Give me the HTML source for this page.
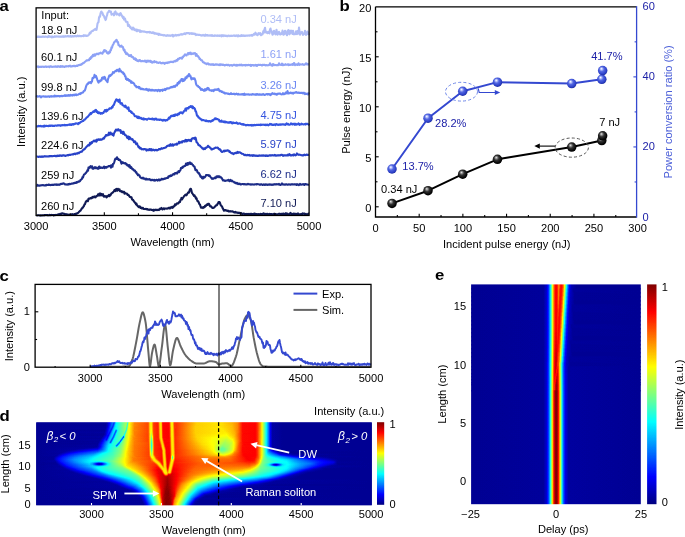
<!DOCTYPE html>
<html><head><meta charset="utf-8"><style>
html,body{margin:0;padding:0;background:#fff;overflow:hidden;}
svg{display:block;}
text{font-family:"Liberation Sans", sans-serif;}
</style></head><body>
<svg width="685" height="537" viewBox="0 0 685 537">
<defs>
<radialGradient id="gb" cx="0.45" cy="0.42" r="0.6" fx="0.36" fy="0.3"><stop offset="0" stop-color="#ffffff"/><stop offset="0.12" stop-color="#d0d8ff"/><stop offset="0.42" stop-color="#5468e2"/><stop offset="0.8" stop-color="#2c40c8"/><stop offset="1" stop-color="#1c2a98"/></radialGradient>
<radialGradient id="gk" cx="0.45" cy="0.42" r="0.6" fx="0.36" fy="0.3"><stop offset="0" stop-color="#f0f0f0"/><stop offset="0.12" stop-color="#b0b0b0"/><stop offset="0.42" stop-color="#333"/><stop offset="0.8" stop-color="#080808"/><stop offset="1" stop-color="#000"/></radialGradient>
<filter id="jetf" filterUnits="objectBoundingBox" x="0" y="0" width="1" height="1" color-interpolation-filters="sRGB"><feComponentTransfer><feFuncR type="table" tableValues="0 0 0 0 0.5 1 1 1 0.5"/><feFuncG type="table" tableValues="0 0 0.5 1 1 1 0.5 0 0"/><feFuncB type="table" tableValues="0.5 1 1 1 0.5 0 0 0 0"/></feComponentTransfer></filter>
<linearGradient id="d0" gradientUnits="userSpaceOnUse" x1="36.20" x2="371.80" y1="0" y2="0"><stop offset=".001" stop-color="#050505"/><stop offset=".210" stop-color="#080808"/><stop offset=".219" stop-color="#222222"/><stop offset=".228" stop-color="#3d3d3d"/><stop offset=".231" stop-color="#313131"/><stop offset=".234" stop-color="#313131"/><stop offset=".237" stop-color="#565656"/><stop offset=".240" stop-color="#616161"/><stop offset=".269" stop-color="#898989"/><stop offset=".272" stop-color="#6e6e6e"/><stop offset=".275" stop-color="#8a8a8a"/><stop offset=".278" stop-color="#9f9f9f"/><stop offset=".293" stop-color="#bebebe"/><stop offset=".332" stop-color="#cdcdcd"/><stop offset=".335" stop-color="#c5c5c5"/><stop offset=".338" stop-color="#acacac"/><stop offset=".341" stop-color="#a2a2a2"/><stop offset=".344" stop-color="#a5a5a5"/><stop offset=".350" stop-color="#d2d2d2"/><stop offset=".362" stop-color="#d8d8d8"/><stop offset=".365" stop-color="#cbcbcb"/><stop offset=".368" stop-color="#acacac"/><stop offset=".371" stop-color="#a5a5a5"/><stop offset=".374" stop-color="#b4b4b4"/><stop offset=".376" stop-color="#d6d6d6"/><stop offset=".379" stop-color="#dedede"/><stop offset=".394" stop-color="#dfdfdf"/><stop offset=".397" stop-color="#d7d7d7"/><stop offset=".400" stop-color="#b7b7b7"/><stop offset=".403" stop-color="#a4a4a4"/><stop offset=".406" stop-color="#a4a4a4"/><stop offset=".412" stop-color="#d1d1d1"/><stop offset=".421" stop-color="#d0d0d0"/><stop offset=".478" stop-color="#acacac"/><stop offset=".543" stop-color="#a6a6a6"/><stop offset=".582" stop-color="#b2b2b2"/><stop offset=".600" stop-color="#bebebe"/><stop offset=".615" stop-color="#dddddd"/><stop offset=".653" stop-color="#dfdfdf"/><stop offset=".659" stop-color="#d5d5d5"/><stop offset=".668" stop-color="#b7b7b7"/><stop offset=".692" stop-color="#3f3f3f"/><stop offset=".698" stop-color="#1d1d1d"/><stop offset=".704" stop-color="#090909"/><stop offset=".734" stop-color="#050505"/><stop offset=".999" stop-color="#050505"/></linearGradient>
<linearGradient id="d1" gradientUnits="userSpaceOnUse" x1="36.20" x2="371.80" y1="0" y2="0"><stop offset=".001" stop-color="#050505"/><stop offset=".207" stop-color="#060606"/><stop offset=".213" stop-color="#0f0f0f"/><stop offset=".225" stop-color="#373737"/><stop offset=".228" stop-color="#3b3b3b"/><stop offset=".231" stop-color="#292929"/><stop offset=".234" stop-color="#3e3e3e"/><stop offset=".237" stop-color="#5a5a5a"/><stop offset=".249" stop-color="#6d6d6d"/><stop offset=".266" stop-color="#878787"/><stop offset=".269" stop-color="#868686"/><stop offset=".272" stop-color="#6c6c6c"/><stop offset=".275" stop-color="#8f8f8f"/><stop offset=".278" stop-color="#a0a0a0"/><stop offset=".293" stop-color="#bebebe"/><stop offset=".332" stop-color="#cdcdcd"/><stop offset=".335" stop-color="#c6c6c6"/><stop offset=".338" stop-color="#adadad"/><stop offset=".341" stop-color="#a2a2a2"/><stop offset=".344" stop-color="#a5a5a5"/><stop offset=".350" stop-color="#d2d2d2"/><stop offset=".362" stop-color="#d8d8d8"/><stop offset=".365" stop-color="#cccccc"/><stop offset=".368" stop-color="#acacac"/><stop offset=".371" stop-color="#a5a5a5"/><stop offset=".374" stop-color="#b3b3b3"/><stop offset=".376" stop-color="#d5d5d5"/><stop offset=".379" stop-color="#dedede"/><stop offset=".394" stop-color="#dfdfdf"/><stop offset=".397" stop-color="#d8d8d8"/><stop offset=".400" stop-color="#b8b8b8"/><stop offset=".403" stop-color="#a4a4a4"/><stop offset=".406" stop-color="#a4a4a4"/><stop offset=".412" stop-color="#d1d1d1"/><stop offset=".418" stop-color="#d2d2d2"/><stop offset=".478" stop-color="#ababab"/><stop offset=".546" stop-color="#a6a6a6"/><stop offset=".585" stop-color="#b3b3b3"/><stop offset=".600" stop-color="#bebebe"/><stop offset=".615" stop-color="#dddddd"/><stop offset=".653" stop-color="#dfdfdf"/><stop offset=".659" stop-color="#d5d5d5"/><stop offset=".668" stop-color="#b7b7b7"/><stop offset=".692" stop-color="#3f3f3f"/><stop offset=".698" stop-color="#1d1d1d"/><stop offset=".704" stop-color="#090909"/><stop offset=".734" stop-color="#050505"/><stop offset=".999" stop-color="#050505"/></linearGradient>
<linearGradient id="d2" gradientUnits="userSpaceOnUse" x1="36.20" x2="371.80" y1="0" y2="0"><stop offset=".001" stop-color="#050505"/><stop offset=".207" stop-color="#060606"/><stop offset=".213" stop-color="#111111"/><stop offset=".225" stop-color="#393939"/><stop offset=".228" stop-color="#373737"/><stop offset=".231" stop-color="#282828"/><stop offset=".234" stop-color="#4a4a4a"/><stop offset=".237" stop-color="#5d5d5d"/><stop offset=".266" stop-color="#888888"/><stop offset=".269" stop-color="#828282"/><stop offset=".272" stop-color="#6d6d6d"/><stop offset=".275" stop-color="#949494"/><stop offset=".281" stop-color="#a7a7a7"/><stop offset=".293" stop-color="#bebebe"/><stop offset=".332" stop-color="#cdcdcd"/><stop offset=".335" stop-color="#c6c6c6"/><stop offset=".338" stop-color="#adadad"/><stop offset=".341" stop-color="#a2a2a2"/><stop offset=".344" stop-color="#a5a5a5"/><stop offset=".350" stop-color="#d2d2d2"/><stop offset=".362" stop-color="#d8d8d8"/><stop offset=".365" stop-color="#cdcdcd"/><stop offset=".368" stop-color="#adadad"/><stop offset=".371" stop-color="#a5a5a5"/><stop offset=".374" stop-color="#b2b2b2"/><stop offset=".376" stop-color="#d4d4d4"/><stop offset=".379" stop-color="#dedede"/><stop offset=".394" stop-color="#dfdfdf"/><stop offset=".397" stop-color="#d8d8d8"/><stop offset=".400" stop-color="#b9b9b9"/><stop offset=".403" stop-color="#a4a4a4"/><stop offset=".406" stop-color="#a4a4a4"/><stop offset=".412" stop-color="#d0d0d0"/><stop offset=".418" stop-color="#d2d2d2"/><stop offset=".478" stop-color="#ababab"/><stop offset=".549" stop-color="#a6a6a6"/><stop offset=".585" stop-color="#b2b2b2"/><stop offset=".600" stop-color="#bebebe"/><stop offset=".615" stop-color="#dddddd"/><stop offset=".653" stop-color="#dfdfdf"/><stop offset=".659" stop-color="#d5d5d5"/><stop offset=".668" stop-color="#b7b7b7"/><stop offset=".692" stop-color="#3f3f3f"/><stop offset=".698" stop-color="#1d1d1d"/><stop offset=".704" stop-color="#090909"/><stop offset=".734" stop-color="#050505"/><stop offset=".999" stop-color="#050505"/></linearGradient>
<linearGradient id="d3" gradientUnits="userSpaceOnUse" x1="36.20" x2="371.80" y1="0" y2="0"><stop offset=".001" stop-color="#050505"/><stop offset=".207" stop-color="#060606"/><stop offset=".213" stop-color="#121212"/><stop offset=".225" stop-color="#3a3a3a"/><stop offset=".228" stop-color="#2f2f2f"/><stop offset=".231" stop-color="#303030"/><stop offset=".234" stop-color="#535353"/><stop offset=".237" stop-color="#5e5e5e"/><stop offset=".266" stop-color="#888888"/><stop offset=".272" stop-color="#717171"/><stop offset=".275" stop-color="#979797"/><stop offset=".290" stop-color="#bababa"/><stop offset=".305" stop-color="#c4c4c4"/><stop offset=".332" stop-color="#cdcdcd"/><stop offset=".335" stop-color="#c6c6c6"/><stop offset=".338" stop-color="#adadad"/><stop offset=".341" stop-color="#a2a2a2"/><stop offset=".344" stop-color="#a4a4a4"/><stop offset=".350" stop-color="#d2d2d2"/><stop offset=".362" stop-color="#d8d8d8"/><stop offset=".365" stop-color="#cecece"/><stop offset=".368" stop-color="#aeaeae"/><stop offset=".371" stop-color="#a5a5a5"/><stop offset=".374" stop-color="#b1b1b1"/><stop offset=".376" stop-color="#d4d4d4"/><stop offset=".379" stop-color="#dedede"/><stop offset=".394" stop-color="#dfdfdf"/><stop offset=".397" stop-color="#d9d9d9"/><stop offset=".400" stop-color="#bababa"/><stop offset=".403" stop-color="#a4a4a4"/><stop offset=".406" stop-color="#a4a4a4"/><stop offset=".409" stop-color="#b7b7b7"/><stop offset=".412" stop-color="#d0d0d0"/><stop offset=".418" stop-color="#d2d2d2"/><stop offset=".475" stop-color="#acacac"/><stop offset=".543" stop-color="#a6a6a6"/><stop offset=".582" stop-color="#b0b0b0"/><stop offset=".600" stop-color="#bebebe"/><stop offset=".615" stop-color="#dddddd"/><stop offset=".653" stop-color="#dfdfdf"/><stop offset=".659" stop-color="#d5d5d5"/><stop offset=".668" stop-color="#b7b7b7"/><stop offset=".692" stop-color="#3f3f3f"/><stop offset=".698" stop-color="#1d1d1d"/><stop offset=".704" stop-color="#090909"/><stop offset=".734" stop-color="#050505"/><stop offset=".999" stop-color="#050505"/></linearGradient>
<linearGradient id="d4" gradientUnits="userSpaceOnUse" x1="36.20" x2="371.80" y1="0" y2="0"><stop offset=".001" stop-color="#050505"/><stop offset=".207" stop-color="#070707"/><stop offset=".213" stop-color="#141414"/><stop offset=".222" stop-color="#343434"/><stop offset=".225" stop-color="#373737"/><stop offset=".228" stop-color="#272727"/><stop offset=".231" stop-color="#3c3c3c"/><stop offset=".234" stop-color="#575757"/><stop offset=".243" stop-color="#686868"/><stop offset=".266" stop-color="#888888"/><stop offset=".269" stop-color="#767676"/><stop offset=".272" stop-color="#777777"/><stop offset=".275" stop-color="#999999"/><stop offset=".293" stop-color="#bfbfbf"/><stop offset=".332" stop-color="#cdcdcd"/><stop offset=".335" stop-color="#c6c6c6"/><stop offset=".338" stop-color="#adadad"/><stop offset=".341" stop-color="#a2a2a2"/><stop offset=".344" stop-color="#a3a3a3"/><stop offset=".350" stop-color="#d2d2d2"/><stop offset=".362" stop-color="#d8d8d8"/><stop offset=".365" stop-color="#cfcfcf"/><stop offset=".368" stop-color="#aeaeae"/><stop offset=".371" stop-color="#a5a5a5"/><stop offset=".374" stop-color="#b0b0b0"/><stop offset=".376" stop-color="#d3d3d3"/><stop offset=".379" stop-color="#dedede"/><stop offset=".394" stop-color="#dfdfdf"/><stop offset=".397" stop-color="#d9d9d9"/><stop offset=".400" stop-color="#bbbbbb"/><stop offset=".403" stop-color="#a4a4a4"/><stop offset=".406" stop-color="#a4a4a4"/><stop offset=".409" stop-color="#b6b6b6"/><stop offset=".412" stop-color="#d0d0d0"/><stop offset=".418" stop-color="#d2d2d2"/><stop offset=".475" stop-color="#ababab"/><stop offset=".546" stop-color="#a6a6a6"/><stop offset=".582" stop-color="#afafaf"/><stop offset=".600" stop-color="#bebebe"/><stop offset=".615" stop-color="#dddddd"/><stop offset=".653" stop-color="#dfdfdf"/><stop offset=".659" stop-color="#d5d5d5"/><stop offset=".668" stop-color="#b7b7b7"/><stop offset=".692" stop-color="#3f3f3f"/><stop offset=".698" stop-color="#1d1d1d"/><stop offset=".704" stop-color="#090909"/><stop offset=".734" stop-color="#050505"/><stop offset=".999" stop-color="#050505"/></linearGradient>
<linearGradient id="d5" gradientUnits="userSpaceOnUse" x1="36.20" x2="371.80" y1="0" y2="0"><stop offset=".001" stop-color="#050505"/><stop offset=".207" stop-color="#070707"/><stop offset=".213" stop-color="#161616"/><stop offset=".222" stop-color="#353535"/><stop offset=".228" stop-color="#2a2a2a"/><stop offset=".231" stop-color="#4b4b4b"/><stop offset=".234" stop-color="#5a5a5a"/><stop offset=".266" stop-color="#878787"/><stop offset=".269" stop-color="#707070"/><stop offset=".272" stop-color="#7e7e7e"/><stop offset=".275" stop-color="#9a9a9a"/><stop offset=".293" stop-color="#bfbfbf"/><stop offset=".332" stop-color="#cdcdcd"/><stop offset=".335" stop-color="#c6c6c6"/><stop offset=".338" stop-color="#adadad"/><stop offset=".341" stop-color="#a1a1a1"/><stop offset=".344" stop-color="#a3a3a3"/><stop offset=".350" stop-color="#d1d1d1"/><stop offset=".362" stop-color="#d8d8d8"/><stop offset=".365" stop-color="#cfcfcf"/><stop offset=".368" stop-color="#afafaf"/><stop offset=".371" stop-color="#a5a5a5"/><stop offset=".374" stop-color="#afafaf"/><stop offset=".376" stop-color="#d2d2d2"/><stop offset=".379" stop-color="#dedede"/><stop offset=".394" stop-color="#dfdfdf"/><stop offset=".397" stop-color="#dadada"/><stop offset=".403" stop-color="#a4a4a4"/><stop offset=".406" stop-color="#a3a3a3"/><stop offset=".409" stop-color="#b5b5b5"/><stop offset=".412" stop-color="#cfcfcf"/><stop offset=".418" stop-color="#d2d2d2"/><stop offset=".475" stop-color="#ababab"/><stop offset=".549" stop-color="#a5a5a5"/><stop offset=".585" stop-color="#b1b1b1"/><stop offset=".600" stop-color="#bebebe"/><stop offset=".615" stop-color="#dddddd"/><stop offset=".653" stop-color="#dfdfdf"/><stop offset=".659" stop-color="#d5d5d5"/><stop offset=".668" stop-color="#b7b7b7"/><stop offset=".692" stop-color="#3f3f3f"/><stop offset=".698" stop-color="#1d1d1d"/><stop offset=".704" stop-color="#090909"/><stop offset=".734" stop-color="#050505"/><stop offset=".999" stop-color="#050505"/></linearGradient>
<linearGradient id="d6" gradientUnits="userSpaceOnUse" x1="36.20" x2="371.80" y1="0" y2="0"><stop offset=".001" stop-color="#050505"/><stop offset=".207" stop-color="#080808"/><stop offset=".216" stop-color="#242424"/><stop offset=".222" stop-color="#323232"/><stop offset=".225" stop-color="#252525"/><stop offset=".228" stop-color="#383838"/><stop offset=".231" stop-color="#535353"/><stop offset=".237" stop-color="#616161"/><stop offset=".266" stop-color="#868686"/><stop offset=".269" stop-color="#6c6c6c"/><stop offset=".275" stop-color="#9b9b9b"/><stop offset=".293" stop-color="#bfbfbf"/><stop offset=".332" stop-color="#cdcdcd"/><stop offset=".335" stop-color="#c6c6c6"/><stop offset=".338" stop-color="#aeaeae"/><stop offset=".341" stop-color="#a1a1a1"/><stop offset=".344" stop-color="#a1a1a1"/><stop offset=".350" stop-color="#d1d1d1"/><stop offset=".362" stop-color="#d8d8d8"/><stop offset=".365" stop-color="#d0d0d0"/><stop offset=".368" stop-color="#b0b0b0"/><stop offset=".371" stop-color="#a5a5a5"/><stop offset=".374" stop-color="#afafaf"/><stop offset=".376" stop-color="#d2d2d2"/><stop offset=".379" stop-color="#dedede"/><stop offset=".394" stop-color="#e0e0e0"/><stop offset=".397" stop-color="#dadada"/><stop offset=".403" stop-color="#a5a5a5"/><stop offset=".406" stop-color="#a3a3a3"/><stop offset=".409" stop-color="#b4b4b4"/><stop offset=".412" stop-color="#cfcfcf"/><stop offset=".415" stop-color="#d4d4d4"/><stop offset=".475" stop-color="#ababab"/><stop offset=".552" stop-color="#a5a5a5"/><stop offset=".585" stop-color="#b0b0b0"/><stop offset=".600" stop-color="#bebebe"/><stop offset=".615" stop-color="#dddddd"/><stop offset=".653" stop-color="#dfdfdf"/><stop offset=".659" stop-color="#d5d5d5"/><stop offset=".668" stop-color="#b7b7b7"/><stop offset=".692" stop-color="#3f3f3f"/><stop offset=".698" stop-color="#1d1d1d"/><stop offset=".704" stop-color="#090909"/><stop offset=".734" stop-color="#050505"/><stop offset=".999" stop-color="#050505"/></linearGradient>
<linearGradient id="d7" gradientUnits="userSpaceOnUse" x1="36.20" x2="371.80" y1="0" y2="0"><stop offset=".001" stop-color="#050505"/><stop offset=".204" stop-color="#060606"/><stop offset=".210" stop-color="#101010"/><stop offset=".219" stop-color="#2f2f2f"/><stop offset=".225" stop-color="#272727"/><stop offset=".228" stop-color="#474747"/><stop offset=".231" stop-color="#565656"/><stop offset=".234" stop-color="#5d5d5d"/><stop offset=".237" stop-color="#535353"/><stop offset=".240" stop-color="#515151"/><stop offset=".243" stop-color="#676767"/><stop offset=".263" stop-color="#838383"/><stop offset=".266" stop-color="#808080"/><stop offset=".269" stop-color="#696969"/><stop offset=".272" stop-color="#8b8b8b"/><stop offset=".275" stop-color="#9c9c9c"/><stop offset=".293" stop-color="#bfbfbf"/><stop offset=".332" stop-color="#cdcdcd"/><stop offset=".335" stop-color="#c7c7c7"/><stop offset=".338" stop-color="#aeaeae"/><stop offset=".341" stop-color="#a0a0a0"/><stop offset=".344" stop-color="#a0a0a0"/><stop offset=".350" stop-color="#d1d1d1"/><stop offset=".362" stop-color="#d8d8d8"/><stop offset=".365" stop-color="#d1d1d1"/><stop offset=".368" stop-color="#b1b1b1"/><stop offset=".371" stop-color="#a5a5a5"/><stop offset=".374" stop-color="#aeaeae"/><stop offset=".376" stop-color="#d1d1d1"/><stop offset=".379" stop-color="#dedede"/><stop offset=".394" stop-color="#e0e0e0"/><stop offset=".397" stop-color="#dadada"/><stop offset=".403" stop-color="#a5a5a5"/><stop offset=".406" stop-color="#a3a3a3"/><stop offset=".409" stop-color="#b3b3b3"/><stop offset=".412" stop-color="#cecece"/><stop offset=".415" stop-color="#d4d4d4"/><stop offset=".475" stop-color="#ababab"/><stop offset=".555" stop-color="#a5a5a5"/><stop offset=".585" stop-color="#b0b0b0"/><stop offset=".600" stop-color="#bebebe"/><stop offset=".615" stop-color="#dddddd"/><stop offset=".653" stop-color="#dfdfdf"/><stop offset=".659" stop-color="#d5d5d5"/><stop offset=".668" stop-color="#b7b7b7"/><stop offset=".692" stop-color="#3f3f3f"/><stop offset=".698" stop-color="#1d1d1d"/><stop offset=".704" stop-color="#090909"/><stop offset=".734" stop-color="#050505"/><stop offset=".999" stop-color="#050505"/></linearGradient>
<linearGradient id="d8" gradientUnits="userSpaceOnUse" x1="36.20" x2="371.80" y1="0" y2="0"><stop offset=".001" stop-color="#050505"/><stop offset=".204" stop-color="#060606"/><stop offset=".210" stop-color="#121212"/><stop offset=".216" stop-color="#282828"/><stop offset=".219" stop-color="#2d2d2d"/><stop offset=".222" stop-color="#222222"/><stop offset=".225" stop-color="#353535"/><stop offset=".228" stop-color="#4e4e4e"/><stop offset=".231" stop-color="#585858"/><stop offset=".234" stop-color="#5a5a5a"/><stop offset=".237" stop-color="#3a3a3a"/><stop offset=".240" stop-color="#3a3a3a"/><stop offset=".243" stop-color="#656565"/><stop offset=".249" stop-color="#707070"/><stop offset=".263" stop-color="#828282"/><stop offset=".266" stop-color="#747474"/><stop offset=".269" stop-color="#707070"/><stop offset=".272" stop-color="#939393"/><stop offset=".290" stop-color="#bbbbbb"/><stop offset=".320" stop-color="#c9c9c9"/><stop offset=".332" stop-color="#cdcdcd"/><stop offset=".335" stop-color="#c7c7c7"/><stop offset=".338" stop-color="#aeaeae"/><stop offset=".341" stop-color="#9f9f9f"/><stop offset=".344" stop-color="#9e9e9e"/><stop offset=".350" stop-color="#d1d1d1"/><stop offset=".362" stop-color="#d8d8d8"/><stop offset=".365" stop-color="#d1d1d1"/><stop offset=".368" stop-color="#b2b2b2"/><stop offset=".371" stop-color="#a5a5a5"/><stop offset=".374" stop-color="#adadad"/><stop offset=".376" stop-color="#d0d0d0"/><stop offset=".379" stop-color="#dedede"/><stop offset=".394" stop-color="#e0e0e0"/><stop offset=".397" stop-color="#dbdbdb"/><stop offset=".403" stop-color="#a5a5a5"/><stop offset=".406" stop-color="#a3a3a3"/><stop offset=".409" stop-color="#b3b3b3"/><stop offset=".412" stop-color="#cecece"/><stop offset=".415" stop-color="#d4d4d4"/><stop offset=".475" stop-color="#ababab"/><stop offset=".558" stop-color="#a4a4a4"/><stop offset=".588" stop-color="#b1b1b1"/><stop offset=".603" stop-color="#c4c4c4"/><stop offset=".615" stop-color="#dddddd"/><stop offset=".653" stop-color="#dfdfdf"/><stop offset=".659" stop-color="#d5d5d5"/><stop offset=".668" stop-color="#b7b7b7"/><stop offset=".692" stop-color="#3f3f3f"/><stop offset=".698" stop-color="#1d1d1d"/><stop offset=".704" stop-color="#090909"/><stop offset=".734" stop-color="#050505"/><stop offset=".999" stop-color="#050505"/></linearGradient>
<linearGradient id="d9" gradientUnits="userSpaceOnUse" x1="36.20" x2="371.80" y1="0" y2="0"><stop offset=".001" stop-color="#050505"/><stop offset=".204" stop-color="#070707"/><stop offset=".210" stop-color="#141414"/><stop offset=".216" stop-color="#292929"/><stop offset=".222" stop-color="#252525"/><stop offset=".225" stop-color="#424242"/><stop offset=".228" stop-color="#525252"/><stop offset=".231" stop-color="#595959"/><stop offset=".234" stop-color="#515151"/><stop offset=".237" stop-color="#2d2d2d"/><stop offset=".240" stop-color="#505050"/><stop offset=".243" stop-color="#696969"/><stop offset=".263" stop-color="#7f7f7f"/><stop offset=".266" stop-color="#676767"/><stop offset=".272" stop-color="#969696"/><stop offset=".293" stop-color="#bfbfbf"/><stop offset=".332" stop-color="#cdcdcd"/><stop offset=".335" stop-color="#c7c7c7"/><stop offset=".338" stop-color="#aeaeae"/><stop offset=".341" stop-color="#9e9e9e"/><stop offset=".344" stop-color="#9b9b9b"/><stop offset=".350" stop-color="#d1d1d1"/><stop offset=".362" stop-color="#d8d8d8"/><stop offset=".365" stop-color="#d2d2d2"/><stop offset=".368" stop-color="#b2b2b2"/><stop offset=".371" stop-color="#a5a5a5"/><stop offset=".374" stop-color="#adadad"/><stop offset=".376" stop-color="#cfcfcf"/><stop offset=".379" stop-color="#dedede"/><stop offset=".394" stop-color="#e0e0e0"/><stop offset=".397" stop-color="#dbdbdb"/><stop offset=".403" stop-color="#a5a5a5"/><stop offset=".406" stop-color="#a3a3a3"/><stop offset=".409" stop-color="#b2b2b2"/><stop offset=".412" stop-color="#cdcdcd"/><stop offset=".415" stop-color="#d4d4d4"/><stop offset=".475" stop-color="#ababab"/><stop offset=".561" stop-color="#a4a4a4"/><stop offset=".591" stop-color="#b3b3b3"/><stop offset=".603" stop-color="#c4c4c4"/><stop offset=".615" stop-color="#dddddd"/><stop offset=".653" stop-color="#dfdfdf"/><stop offset=".659" stop-color="#d5d5d5"/><stop offset=".671" stop-color="#a9a9a9"/><stop offset=".692" stop-color="#3f3f3f"/><stop offset=".698" stop-color="#1d1d1d"/><stop offset=".704" stop-color="#090909"/><stop offset=".734" stop-color="#050505"/><stop offset=".999" stop-color="#050505"/></linearGradient>
<linearGradient id="d10" gradientUnits="userSpaceOnUse" x1="36.20" x2="371.80" y1="0" y2="0"><stop offset=".001" stop-color="#050505"/><stop offset=".204" stop-color="#080808"/><stop offset=".216" stop-color="#292929"/><stop offset=".219" stop-color="#202020"/><stop offset=".222" stop-color="#323232"/><stop offset=".225" stop-color="#4a4a4a"/><stop offset=".231" stop-color="#595959"/><stop offset=".234" stop-color="#3f3f3f"/><stop offset=".237" stop-color="#343434"/><stop offset=".240" stop-color="#5f5f5f"/><stop offset=".243" stop-color="#6b6b6b"/><stop offset=".260" stop-color="#7e7e7e"/><stop offset=".263" stop-color="#767676"/><stop offset=".266" stop-color="#676767"/><stop offset=".269" stop-color="#8b8b8b"/><stop offset=".275" stop-color="#9e9e9e"/><stop offset=".293" stop-color="#bfbfbf"/><stop offset=".332" stop-color="#cdcdcd"/><stop offset=".335" stop-color="#c7c7c7"/><stop offset=".338" stop-color="#aeaeae"/><stop offset=".341" stop-color="#9d9d9d"/><stop offset=".344" stop-color="#989898"/><stop offset=".350" stop-color="#d0d0d0"/><stop offset=".362" stop-color="#d8d8d8"/><stop offset=".365" stop-color="#d2d2d2"/><stop offset=".368" stop-color="#b3b3b3"/><stop offset=".371" stop-color="#a5a5a5"/><stop offset=".374" stop-color="#acacac"/><stop offset=".376" stop-color="#cecece"/><stop offset=".379" stop-color="#dedede"/><stop offset=".394" stop-color="#e0e0e0"/><stop offset=".397" stop-color="#dbdbdb"/><stop offset=".403" stop-color="#a6a6a6"/><stop offset=".406" stop-color="#a3a3a3"/><stop offset=".409" stop-color="#b1b1b1"/><stop offset=".412" stop-color="#cdcdcd"/><stop offset=".415" stop-color="#d4d4d4"/><stop offset=".475" stop-color="#ababab"/><stop offset=".564" stop-color="#a3a3a3"/><stop offset=".591" stop-color="#b2b2b2"/><stop offset=".603" stop-color="#c4c4c4"/><stop offset=".615" stop-color="#dddddd"/><stop offset=".653" stop-color="#dfdfdf"/><stop offset=".659" stop-color="#d5d5d5"/><stop offset=".671" stop-color="#a9a9a9"/><stop offset=".692" stop-color="#3f3f3f"/><stop offset=".698" stop-color="#1d1d1d"/><stop offset=".704" stop-color="#090909"/><stop offset=".734" stop-color="#050505"/><stop offset=".999" stop-color="#050505"/></linearGradient>
<linearGradient id="d11" gradientUnits="userSpaceOnUse" x1="36.20" x2="371.80" y1="0" y2="0"><stop offset=".001" stop-color="#050505"/><stop offset=".201" stop-color="#060606"/><stop offset=".207" stop-color="#0f0f0f"/><stop offset=".213" stop-color="#242424"/><stop offset=".219" stop-color="#232323"/><stop offset=".222" stop-color="#3e3e3e"/><stop offset=".225" stop-color="#4e4e4e"/><stop offset=".228" stop-color="#565656"/><stop offset=".231" stop-color="#535353"/><stop offset=".234" stop-color="#2f2f2f"/><stop offset=".240" stop-color="#676767"/><stop offset=".260" stop-color="#7d7d7d"/><stop offset=".263" stop-color="#696969"/><stop offset=".266" stop-color="#747474"/><stop offset=".269" stop-color="#909090"/><stop offset=".293" stop-color="#bfbfbf"/><stop offset=".332" stop-color="#cecece"/><stop offset=".335" stop-color="#c8c8c8"/><stop offset=".341" stop-color="#9b9b9b"/><stop offset=".344" stop-color="#949494"/><stop offset=".350" stop-color="#d0d0d0"/><stop offset=".359" stop-color="#d7d7d7"/><stop offset=".362" stop-color="#d8d8d8"/><stop offset=".365" stop-color="#d3d3d3"/><stop offset=".368" stop-color="#b4b4b4"/><stop offset=".371" stop-color="#a5a5a5"/><stop offset=".374" stop-color="#ababab"/><stop offset=".376" stop-color="#cdcdcd"/><stop offset=".379" stop-color="#dedede"/><stop offset=".394" stop-color="#e0e0e0"/><stop offset=".397" stop-color="#dcdcdc"/><stop offset=".403" stop-color="#a6a6a6"/><stop offset=".406" stop-color="#a3a3a3"/><stop offset=".409" stop-color="#b0b0b0"/><stop offset=".412" stop-color="#cccccc"/><stop offset=".415" stop-color="#d4d4d4"/><stop offset=".475" stop-color="#ababab"/><stop offset=".567" stop-color="#a2a2a2"/><stop offset=".594" stop-color="#b5b5b5"/><stop offset=".609" stop-color="#d2d2d2"/><stop offset=".618" stop-color="#dfdfdf"/><stop offset=".653" stop-color="#dfdfdf"/><stop offset=".659" stop-color="#d5d5d5"/><stop offset=".671" stop-color="#a9a9a9"/><stop offset=".692" stop-color="#3f3f3f"/><stop offset=".698" stop-color="#1d1d1d"/><stop offset=".704" stop-color="#090909"/><stop offset=".734" stop-color="#050505"/><stop offset=".999" stop-color="#050505"/></linearGradient>
<linearGradient id="d12" gradientUnits="userSpaceOnUse" x1="36.20" x2="371.80" y1="0" y2="0"><stop offset=".001" stop-color="#050505"/><stop offset=".201" stop-color="#060606"/><stop offset=".207" stop-color="#111111"/><stop offset=".213" stop-color="#252525"/><stop offset=".216" stop-color="#1f1f1f"/><stop offset=".219" stop-color="#2e2e2e"/><stop offset=".222" stop-color="#474747"/><stop offset=".228" stop-color="#575757"/><stop offset=".234" stop-color="#2f2f2f"/><stop offset=".237" stop-color="#5a5a5a"/><stop offset=".240" stop-color="#696969"/><stop offset=".257" stop-color="#7b7b7b"/><stop offset=".260" stop-color="#777777"/><stop offset=".263" stop-color="#626262"/><stop offset=".266" stop-color="#818181"/><stop offset=".269" stop-color="#929292"/><stop offset=".293" stop-color="#bfbfbf"/><stop offset=".332" stop-color="#cecece"/><stop offset=".335" stop-color="#c8c8c8"/><stop offset=".341" stop-color="#999999"/><stop offset=".344" stop-color="#8f8f8f"/><stop offset=".350" stop-color="#cfcfcf"/><stop offset=".356" stop-color="#d6d6d6"/><stop offset=".362" stop-color="#d8d8d8"/><stop offset=".365" stop-color="#d4d4d4"/><stop offset=".368" stop-color="#b5b5b5"/><stop offset=".371" stop-color="#a5a5a5"/><stop offset=".374" stop-color="#ababab"/><stop offset=".376" stop-color="#cccccc"/><stop offset=".379" stop-color="#dedede"/><stop offset=".394" stop-color="#e0e0e0"/><stop offset=".397" stop-color="#dcdcdc"/><stop offset=".403" stop-color="#a6a6a6"/><stop offset=".406" stop-color="#a3a3a3"/><stop offset=".409" stop-color="#b0b0b0"/><stop offset=".412" stop-color="#cccccc"/><stop offset=".415" stop-color="#d4d4d4"/><stop offset=".478" stop-color="#aaaaaa"/><stop offset=".567" stop-color="#a0a0a0"/><stop offset=".591" stop-color="#b1b1b1"/><stop offset=".606" stop-color="#cbcbcb"/><stop offset=".615" stop-color="#dddddd"/><stop offset=".653" stop-color="#dfdfdf"/><stop offset=".659" stop-color="#d5d5d5"/><stop offset=".671" stop-color="#a9a9a9"/><stop offset=".692" stop-color="#3f3f3f"/><stop offset=".698" stop-color="#1d1d1d"/><stop offset=".704" stop-color="#090909"/><stop offset=".734" stop-color="#050505"/><stop offset=".999" stop-color="#050505"/></linearGradient>
<linearGradient id="d13" gradientUnits="userSpaceOnUse" x1="36.20" x2="371.80" y1="0" y2="0"><stop offset=".001" stop-color="#050505"/><stop offset=".198" stop-color="#060606"/><stop offset=".207" stop-color="#151515"/><stop offset=".210" stop-color="#1f1f1f"/><stop offset=".216" stop-color="#202020"/><stop offset=".219" stop-color="#3b3b3b"/><stop offset=".222" stop-color="#4b4b4b"/><stop offset=".225" stop-color="#545454"/><stop offset=".228" stop-color="#545454"/><stop offset=".231" stop-color="#333333"/><stop offset=".234" stop-color="#404040"/><stop offset=".237" stop-color="#646464"/><stop offset=".254" stop-color="#797979"/><stop offset=".257" stop-color="#787878"/><stop offset=".260" stop-color="#626262"/><stop offset=".263" stop-color="#646464"/><stop offset=".266" stop-color="#898989"/><stop offset=".284" stop-color="#b1b1b1"/><stop offset=".296" stop-color="#c1c1c1"/><stop offset=".332" stop-color="#cecece"/><stop offset=".335" stop-color="#c9c9c9"/><stop offset=".341" stop-color="#979797"/><stop offset=".344" stop-color="#8a8a8a"/><stop offset=".347" stop-color="#a9a9a9"/><stop offset=".350" stop-color="#cecece"/><stop offset=".356" stop-color="#d6d6d6"/><stop offset=".362" stop-color="#d8d8d8"/><stop offset=".365" stop-color="#d4d4d4"/><stop offset=".368" stop-color="#b6b6b6"/><stop offset=".371" stop-color="#a5a5a5"/><stop offset=".374" stop-color="#aaaaaa"/><stop offset=".376" stop-color="#cbcbcb"/><stop offset=".379" stop-color="#dedede"/><stop offset=".394" stop-color="#e0e0e0"/><stop offset=".397" stop-color="#dcdcdc"/><stop offset=".403" stop-color="#a7a7a7"/><stop offset=".406" stop-color="#a3a3a3"/><stop offset=".409" stop-color="#afafaf"/><stop offset=".412" stop-color="#cbcbcb"/><stop offset=".415" stop-color="#d4d4d4"/><stop offset=".478" stop-color="#aaaaaa"/><stop offset=".567" stop-color="#9e9e9e"/><stop offset=".591" stop-color="#b0b0b0"/><stop offset=".606" stop-color="#cbcbcb"/><stop offset=".615" stop-color="#dddddd"/><stop offset=".653" stop-color="#dfdfdf"/><stop offset=".659" stop-color="#d5d5d5"/><stop offset=".671" stop-color="#a9a9a9"/><stop offset=".692" stop-color="#3f3f3f"/><stop offset=".698" stop-color="#1d1d1d"/><stop offset=".704" stop-color="#090909"/><stop offset=".734" stop-color="#050505"/><stop offset=".999" stop-color="#050505"/></linearGradient>
<linearGradient id="d14" gradientUnits="userSpaceOnUse" x1="36.20" x2="371.80" y1="0" y2="0"><stop offset=".001" stop-color="#050505"/><stop offset=".198" stop-color="#080808"/><stop offset=".210" stop-color="#232323"/><stop offset=".213" stop-color="#1f1f1f"/><stop offset=".216" stop-color="#2b2b2b"/><stop offset=".219" stop-color="#444444"/><stop offset=".225" stop-color="#555555"/><stop offset=".228" stop-color="#494949"/><stop offset=".231" stop-color="#2d2d2d"/><stop offset=".234" stop-color="#545454"/><stop offset=".237" stop-color="#676767"/><stop offset=".254" stop-color="#787878"/><stop offset=".257" stop-color="#636363"/><stop offset=".260" stop-color="#2e2e2e"/><stop offset=".266" stop-color="#8b8b8b"/><stop offset=".287" stop-color="#b7b7b7"/><stop offset=".299" stop-color="#c2c2c2"/><stop offset=".332" stop-color="#cecece"/><stop offset=".335" stop-color="#c9c9c9"/><stop offset=".341" stop-color="#949494"/><stop offset=".344" stop-color="#848484"/><stop offset=".347" stop-color="#a4a4a4"/><stop offset=".350" stop-color="#cdcdcd"/><stop offset=".353" stop-color="#d5d5d5"/><stop offset=".362" stop-color="#d8d8d8"/><stop offset=".365" stop-color="#d4d4d4"/><stop offset=".368" stop-color="#b7b7b7"/><stop offset=".371" stop-color="#a6a6a6"/><stop offset=".374" stop-color="#aaaaaa"/><stop offset=".376" stop-color="#cacaca"/><stop offset=".379" stop-color="#dedede"/><stop offset=".394" stop-color="#e0e0e0"/><stop offset=".397" stop-color="#dcdcdc"/><stop offset=".403" stop-color="#a7a7a7"/><stop offset=".406" stop-color="#a3a3a3"/><stop offset=".409" stop-color="#aeaeae"/><stop offset=".412" stop-color="#cbcbcb"/><stop offset=".415" stop-color="#d3d3d3"/><stop offset=".478" stop-color="#aaaaaa"/><stop offset=".567" stop-color="#9b9b9b"/><stop offset=".588" stop-color="#ababab"/><stop offset=".603" stop-color="#c5c5c5"/><stop offset=".615" stop-color="#dddddd"/><stop offset=".653" stop-color="#dfdfdf"/><stop offset=".659" stop-color="#d5d5d5"/><stop offset=".671" stop-color="#a9a9a9"/><stop offset=".692" stop-color="#3f3f3f"/><stop offset=".698" stop-color="#1d1d1d"/><stop offset=".704" stop-color="#090909"/><stop offset=".734" stop-color="#050505"/><stop offset=".999" stop-color="#050505"/></linearGradient>
<linearGradient id="d15" gradientUnits="userSpaceOnUse" x1="36.20" x2="371.80" y1="0" y2="0"><stop offset=".001" stop-color="#050505"/><stop offset=".195" stop-color="#070707"/><stop offset=".204" stop-color="#1a1a1a"/><stop offset=".207" stop-color="#232323"/><stop offset=".210" stop-color="#242424"/><stop offset=".213" stop-color="#1f1f1f"/><stop offset=".216" stop-color="#393939"/><stop offset=".219" stop-color="#494949"/><stop offset=".222" stop-color="#515151"/><stop offset=".225" stop-color="#525252"/><stop offset=".228" stop-color="#333333"/><stop offset=".231" stop-color="#3c3c3c"/><stop offset=".234" stop-color="#616161"/><stop offset=".240" stop-color="#6c6c6c"/><stop offset=".251" stop-color="#767676"/><stop offset=".254" stop-color="#6e6e6e"/><stop offset=".257" stop-color="#404040"/><stop offset=".260" stop-color="#353535"/><stop offset=".263" stop-color="#6f6f6f"/><stop offset=".266" stop-color="#8d8d8d"/><stop offset=".290" stop-color="#bdbdbd"/><stop offset=".332" stop-color="#cecece"/><stop offset=".335" stop-color="#cacaca"/><stop offset=".338" stop-color="#b1b1b1"/><stop offset=".341" stop-color="#929292"/><stop offset=".344" stop-color="#7e7e7e"/><stop offset=".347" stop-color="#a0a0a0"/><stop offset=".350" stop-color="#cccccc"/><stop offset=".353" stop-color="#d5d5d5"/><stop offset=".362" stop-color="#d8d8d8"/><stop offset=".365" stop-color="#d5d5d5"/><stop offset=".368" stop-color="#b8b8b8"/><stop offset=".371" stop-color="#a6a6a6"/><stop offset=".374" stop-color="#a9a9a9"/><stop offset=".376" stop-color="#c9c9c9"/><stop offset=".379" stop-color="#dedede"/><stop offset=".394" stop-color="#e0e0e0"/><stop offset=".397" stop-color="#dddddd"/><stop offset=".400" stop-color="#c6c6c6"/><stop offset=".403" stop-color="#a8a8a8"/><stop offset=".406" stop-color="#a3a3a3"/><stop offset=".409" stop-color="#adadad"/><stop offset=".412" stop-color="#cacaca"/><stop offset=".415" stop-color="#d3d3d3"/><stop offset=".481" stop-color="#a9a9a9"/><stop offset=".549" stop-color="#9b9b9b"/><stop offset=".570" stop-color="#999999"/><stop offset=".591" stop-color="#adadad"/><stop offset=".615" stop-color="#dddddd"/><stop offset=".653" stop-color="#dfdfdf"/><stop offset=".659" stop-color="#d5d5d5"/><stop offset=".671" stop-color="#a9a9a9"/><stop offset=".692" stop-color="#3f3f3f"/><stop offset=".698" stop-color="#1d1d1d"/><stop offset=".704" stop-color="#090909"/><stop offset=".734" stop-color="#050505"/><stop offset=".999" stop-color="#050505"/></linearGradient>
<linearGradient id="d16" gradientUnits="userSpaceOnUse" x1="36.20" x2="371.80" y1="0" y2="0"><stop offset=".001" stop-color="#050505"/><stop offset=".192" stop-color="#060606"/><stop offset=".201" stop-color="#181818"/><stop offset=".207" stop-color="#272727"/><stop offset=".210" stop-color="#202020"/><stop offset=".213" stop-color="#292929"/><stop offset=".216" stop-color="#424242"/><stop offset=".222" stop-color="#535353"/><stop offset=".225" stop-color="#434343"/><stop offset=".228" stop-color="#2d2d2d"/><stop offset=".231" stop-color="#545454"/><stop offset=".234" stop-color="#666666"/><stop offset=".249" stop-color="#747474"/><stop offset=".251" stop-color="#717171"/><stop offset=".254" stop-color="#4e4e4e"/><stop offset=".257" stop-color="#323232"/><stop offset=".260" stop-color="#636363"/><stop offset=".263" stop-color="#858585"/><stop offset=".281" stop-color="#adadad"/><stop offset=".293" stop-color="#c0c0c0"/><stop offset=".332" stop-color="#cecece"/><stop offset=".335" stop-color="#cacaca"/><stop offset=".338" stop-color="#b1b1b1"/><stop offset=".341" stop-color="#8f8f8f"/><stop offset=".344" stop-color="#787878"/><stop offset=".347" stop-color="#9c9c9c"/><stop offset=".350" stop-color="#cccccc"/><stop offset=".353" stop-color="#d5d5d5"/><stop offset=".365" stop-color="#d6d6d6"/><stop offset=".371" stop-color="#a6a6a6"/><stop offset=".374" stop-color="#a7a7a7"/><stop offset=".379" stop-color="#dcdcdc"/><stop offset=".391" stop-color="#e0e0e0"/><stop offset=".397" stop-color="#dddddd"/><stop offset=".400" stop-color="#c7c7c7"/><stop offset=".403" stop-color="#a8a8a8"/><stop offset=".406" stop-color="#a3a3a3"/><stop offset=".409" stop-color="#adadad"/><stop offset=".412" stop-color="#c9c9c9"/><stop offset=".415" stop-color="#d3d3d3"/><stop offset=".481" stop-color="#aaaaaa"/><stop offset=".546" stop-color="#9a9a9a"/><stop offset=".567" stop-color="#959595"/><stop offset=".588" stop-color="#a6a6a6"/><stop offset=".615" stop-color="#dddddd"/><stop offset=".653" stop-color="#dfdfdf"/><stop offset=".659" stop-color="#d5d5d5"/><stop offset=".671" stop-color="#a8a8a8"/><stop offset=".692" stop-color="#3f3f3f"/><stop offset=".698" stop-color="#1d1d1d"/><stop offset=".704" stop-color="#090909"/><stop offset=".734" stop-color="#050505"/><stop offset=".999" stop-color="#050505"/></linearGradient>
<linearGradient id="d17" gradientUnits="userSpaceOnUse" x1="36.20" x2="371.80" y1="0" y2="0"><stop offset=".001" stop-color="#050505"/><stop offset=".192" stop-color="#080808"/><stop offset=".204" stop-color="#272727"/><stop offset=".207" stop-color="#272727"/><stop offset=".210" stop-color="#1f1f1f"/><stop offset=".213" stop-color="#373737"/><stop offset=".216" stop-color="#484848"/><stop offset=".219" stop-color="#505050"/><stop offset=".222" stop-color="#4f4f4f"/><stop offset=".225" stop-color="#303030"/><stop offset=".228" stop-color="#3f3f3f"/><stop offset=".231" stop-color="#616161"/><stop offset=".246" stop-color="#727272"/><stop offset=".249" stop-color="#727272"/><stop offset=".251" stop-color="#5a5a5a"/><stop offset=".254" stop-color="#303030"/><stop offset=".257" stop-color="#525252"/><stop offset=".260" stop-color="#7d7d7d"/><stop offset=".266" stop-color="#909090"/><stop offset=".290" stop-color="#bdbdbd"/><stop offset=".332" stop-color="#cecece"/><stop offset=".335" stop-color="#cbcbcb"/><stop offset=".338" stop-color="#b2b2b2"/><stop offset=".341" stop-color="#8c8c8c"/><stop offset=".344" stop-color="#737373"/><stop offset=".347" stop-color="#979797"/><stop offset=".350" stop-color="#cbcbcb"/><stop offset=".353" stop-color="#d5d5d5"/><stop offset=".365" stop-color="#d8d8d8"/><stop offset=".368" stop-color="#c6c6c6"/><stop offset=".371" stop-color="#a9a9a9"/><stop offset=".374" stop-color="#a6a6a6"/><stop offset=".376" stop-color="#b7b7b7"/><stop offset=".379" stop-color="#d8d8d8"/><stop offset=".382" stop-color="#dfdfdf"/><stop offset=".397" stop-color="#dddddd"/><stop offset=".400" stop-color="#c7c7c7"/><stop offset=".403" stop-color="#a9a9a9"/><stop offset=".406" stop-color="#a3a3a3"/><stop offset=".409" stop-color="#acacac"/><stop offset=".412" stop-color="#c9c9c9"/><stop offset=".415" stop-color="#d3d3d3"/><stop offset=".481" stop-color="#aaaaaa"/><stop offset=".543" stop-color="#9a9a9a"/><stop offset=".567" stop-color="#919191"/><stop offset=".585" stop-color="#9f9f9f"/><stop offset=".600" stop-color="#bdbdbd"/><stop offset=".615" stop-color="#dddddd"/><stop offset=".653" stop-color="#dfdfdf"/><stop offset=".659" stop-color="#d5d5d5"/><stop offset=".671" stop-color="#a7a7a7"/><stop offset=".692" stop-color="#3f3f3f"/><stop offset=".698" stop-color="#1d1d1d"/><stop offset=".704" stop-color="#090909"/><stop offset=".734" stop-color="#050505"/><stop offset=".999" stop-color="#050505"/></linearGradient>
<linearGradient id="d18" gradientUnits="userSpaceOnUse" x1="36.20" x2="371.80" y1="0" y2="0"><stop offset=".001" stop-color="#050505"/><stop offset=".189" stop-color="#070707"/><stop offset=".198" stop-color="#1b1b1b"/><stop offset=".204" stop-color="#2c2c2c"/><stop offset=".210" stop-color="#2e2e2e"/><stop offset=".213" stop-color="#414141"/><stop offset=".219" stop-color="#515151"/><stop offset=".225" stop-color="#2e2e2e"/><stop offset=".228" stop-color="#565656"/><stop offset=".231" stop-color="#656565"/><stop offset=".246" stop-color="#727272"/><stop offset=".249" stop-color="#646464"/><stop offset=".251" stop-color="#363636"/><stop offset=".254" stop-color="#424242"/><stop offset=".257" stop-color="#737373"/><stop offset=".260" stop-color="#838383"/><stop offset=".284" stop-color="#b4b4b4"/><stop offset=".296" stop-color="#c1c1c1"/><stop offset=".332" stop-color="#cecece"/><stop offset=".335" stop-color="#cbcbcb"/><stop offset=".338" stop-color="#b3b3b3"/><stop offset=".341" stop-color="#8a8a8a"/><stop offset=".344" stop-color="#6d6d6d"/><stop offset=".347" stop-color="#949494"/><stop offset=".350" stop-color="#cacaca"/><stop offset=".353" stop-color="#d5d5d5"/><stop offset=".365" stop-color="#d9d9d9"/><stop offset=".368" stop-color="#cecece"/><stop offset=".371" stop-color="#aeaeae"/><stop offset=".374" stop-color="#a5a5a5"/><stop offset=".376" stop-color="#afafaf"/><stop offset=".379" stop-color="#d2d2d2"/><stop offset=".382" stop-color="#dfdfdf"/><stop offset=".397" stop-color="#dddddd"/><stop offset=".400" stop-color="#c8c8c8"/><stop offset=".403" stop-color="#a9a9a9"/><stop offset=".406" stop-color="#a3a3a3"/><stop offset=".409" stop-color="#acacac"/><stop offset=".412" stop-color="#c8c8c8"/><stop offset=".415" stop-color="#d4d4d4"/><stop offset=".484" stop-color="#aaaaaa"/><stop offset=".540" stop-color="#9a9a9a"/><stop offset=".564" stop-color="#8e8e8e"/><stop offset=".582" stop-color="#989898"/><stop offset=".594" stop-color="#adadad"/><stop offset=".615" stop-color="#dddddd"/><stop offset=".653" stop-color="#dfdfdf"/><stop offset=".659" stop-color="#d5d5d5"/><stop offset=".668" stop-color="#b4b4b4"/><stop offset=".692" stop-color="#3f3f3f"/><stop offset=".698" stop-color="#1d1d1d"/><stop offset=".704" stop-color="#090909"/><stop offset=".734" stop-color="#050505"/><stop offset=".999" stop-color="#050505"/></linearGradient>
<linearGradient id="d19" gradientUnits="userSpaceOnUse" x1="36.20" x2="371.80" y1="0" y2="0"><stop offset=".001" stop-color="#050505"/><stop offset=".186" stop-color="#060606"/><stop offset=".195" stop-color="#171717"/><stop offset=".216" stop-color="#4f4f4f"/><stop offset=".219" stop-color="#4c4c4c"/><stop offset=".222" stop-color="#2d2d2d"/><stop offset=".225" stop-color="#434343"/><stop offset=".228" stop-color="#616161"/><stop offset=".243" stop-color="#707070"/><stop offset=".246" stop-color="#666666"/><stop offset=".249" stop-color="#3e3e3e"/><stop offset=".251" stop-color="#353535"/><stop offset=".254" stop-color="#676767"/><stop offset=".257" stop-color="#7e7e7e"/><stop offset=".281" stop-color="#afafaf"/><stop offset=".293" stop-color="#c0c0c0"/><stop offset=".332" stop-color="#cecece"/><stop offset=".335" stop-color="#cccccc"/><stop offset=".338" stop-color="#b3b3b3"/><stop offset=".341" stop-color="#888888"/><stop offset=".344" stop-color="#686868"/><stop offset=".347" stop-color="#909090"/><stop offset=".350" stop-color="#c9c9c9"/><stop offset=".353" stop-color="#d5d5d5"/><stop offset=".365" stop-color="#d9d9d9"/><stop offset=".368" stop-color="#d4d4d4"/><stop offset=".371" stop-color="#b6b6b6"/><stop offset=".374" stop-color="#a6a6a6"/><stop offset=".376" stop-color="#aaaaaa"/><stop offset=".379" stop-color="#c9c9c9"/><stop offset=".382" stop-color="#dedede"/><stop offset=".397" stop-color="#dddddd"/><stop offset=".400" stop-color="#c9c9c9"/><stop offset=".403" stop-color="#aaaaaa"/><stop offset=".406" stop-color="#a3a3a3"/><stop offset=".409" stop-color="#ababab"/><stop offset=".412" stop-color="#c8c8c8"/><stop offset=".415" stop-color="#d4d4d4"/><stop offset=".487" stop-color="#a9a9a9"/><stop offset=".537" stop-color="#9b9b9b"/><stop offset=".564" stop-color="#8c8c8c"/><stop offset=".585" stop-color="#999999"/><stop offset=".615" stop-color="#dddddd"/><stop offset=".653" stop-color="#dfdfdf"/><stop offset=".659" stop-color="#d5d5d5"/><stop offset=".668" stop-color="#b4b4b4"/><stop offset=".692" stop-color="#3f3f3f"/><stop offset=".698" stop-color="#1d1d1d"/><stop offset=".704" stop-color="#090909"/><stop offset=".734" stop-color="#050505"/><stop offset=".999" stop-color="#050505"/></linearGradient>
<linearGradient id="d20" gradientUnits="userSpaceOnUse" x1="36.20" x2="371.80" y1="0" y2="0"><stop offset=".001" stop-color="#050505"/><stop offset=".186" stop-color="#070707"/><stop offset=".216" stop-color="#525252"/><stop offset=".219" stop-color="#454545"/><stop offset=".222" stop-color="#303030"/><stop offset=".225" stop-color="#585858"/><stop offset=".228" stop-color="#656565"/><stop offset=".240" stop-color="#6f6f6f"/><stop offset=".243" stop-color="#676767"/><stop offset=".246" stop-color="#424242"/><stop offset=".249" stop-color="#323232"/><stop offset=".251" stop-color="#5e5e5e"/><stop offset=".254" stop-color="#797979"/><stop offset=".281" stop-color="#b0b0b0"/><stop offset=".293" stop-color="#c0c0c0"/><stop offset=".335" stop-color="#cccccc"/><stop offset=".338" stop-color="#b4b4b4"/><stop offset=".341" stop-color="#868686"/><stop offset=".344" stop-color="#656565"/><stop offset=".347" stop-color="#8e8e8e"/><stop offset=".350" stop-color="#c8c8c8"/><stop offset=".353" stop-color="#d5d5d5"/><stop offset=".368" stop-color="#d8d8d8"/><stop offset=".374" stop-color="#a7a7a7"/><stop offset=".376" stop-color="#a7a7a7"/><stop offset=".382" stop-color="#dcdcdc"/><stop offset=".391" stop-color="#e1e1e1"/><stop offset=".397" stop-color="#dedede"/><stop offset=".400" stop-color="#cbcbcb"/><stop offset=".403" stop-color="#aaaaaa"/><stop offset=".406" stop-color="#a3a3a3"/><stop offset=".409" stop-color="#aaaaaa"/><stop offset=".412" stop-color="#c7c7c7"/><stop offset=".415" stop-color="#d4d4d4"/><stop offset=".490" stop-color="#a9a9a9"/><stop offset=".534" stop-color="#9c9c9c"/><stop offset=".561" stop-color="#898989"/><stop offset=".582" stop-color="#939393"/><stop offset=".591" stop-color="#a4a4a4"/><stop offset=".609" stop-color="#d3d3d3"/><stop offset=".618" stop-color="#dfdfdf"/><stop offset=".653" stop-color="#dfdfdf"/><stop offset=".659" stop-color="#d5d5d5"/><stop offset=".668" stop-color="#b4b4b4"/><stop offset=".692" stop-color="#3f3f3f"/><stop offset=".698" stop-color="#1d1d1d"/><stop offset=".704" stop-color="#090909"/><stop offset=".734" stop-color="#050505"/><stop offset=".999" stop-color="#050505"/></linearGradient>
<linearGradient id="d21" gradientUnits="userSpaceOnUse" x1="36.20" x2="371.80" y1="0" y2="0"><stop offset=".001" stop-color="#050505"/><stop offset=".183" stop-color="#060606"/><stop offset=".192" stop-color="#181818"/><stop offset=".216" stop-color="#565656"/><stop offset=".222" stop-color="#585858"/><stop offset=".228" stop-color="#666666"/><stop offset=".237" stop-color="#6d6d6d"/><stop offset=".240" stop-color="#686868"/><stop offset=".243" stop-color="#464646"/><stop offset=".246" stop-color="#2f2f2f"/><stop offset=".249" stop-color="#585858"/><stop offset=".251" stop-color="#767676"/><stop offset=".281" stop-color="#b0b0b0"/><stop offset=".293" stop-color="#c0c0c0"/><stop offset=".335" stop-color="#cccccc"/><stop offset=".338" stop-color="#b5b5b5"/><stop offset=".341" stop-color="#858585"/><stop offset=".344" stop-color="#626262"/><stop offset=".347" stop-color="#8c8c8c"/><stop offset=".350" stop-color="#c7c7c7"/><stop offset=".353" stop-color="#d5d5d5"/><stop offset=".368" stop-color="#dadada"/><stop offset=".371" stop-color="#c8c8c8"/><stop offset=".374" stop-color="#aaaaaa"/><stop offset=".376" stop-color="#a6a6a6"/><stop offset=".379" stop-color="#b6b6b6"/><stop offset=".382" stop-color="#d8d8d8"/><stop offset=".385" stop-color="#e0e0e0"/><stop offset=".397" stop-color="#dedede"/><stop offset=".400" stop-color="#cbcbcb"/><stop offset=".403" stop-color="#ababab"/><stop offset=".406" stop-color="#a3a3a3"/><stop offset=".409" stop-color="#aaaaaa"/><stop offset=".412" stop-color="#c6c6c6"/><stop offset=".415" stop-color="#d4d4d4"/><stop offset=".493" stop-color="#a9a9a9"/><stop offset=".534" stop-color="#9c9c9c"/><stop offset=".561" stop-color="#878787"/><stop offset=".582" stop-color="#929292"/><stop offset=".591" stop-color="#a4a4a4"/><stop offset=".606" stop-color="#cccccc"/><stop offset=".615" stop-color="#dddddd"/><stop offset=".653" stop-color="#dfdfdf"/><stop offset=".659" stop-color="#d5d5d5"/><stop offset=".668" stop-color="#b4b4b4"/><stop offset=".692" stop-color="#3f3f3f"/><stop offset=".698" stop-color="#1d1d1d"/><stop offset=".704" stop-color="#090909"/><stop offset=".734" stop-color="#050505"/><stop offset=".999" stop-color="#050505"/></linearGradient>
<linearGradient id="d22" gradientUnits="userSpaceOnUse" x1="36.20" x2="371.80" y1="0" y2="0"><stop offset=".001" stop-color="#050505"/><stop offset=".183" stop-color="#070707"/><stop offset=".192" stop-color="#1d1d1d"/><stop offset=".219" stop-color="#5f5f5f"/><stop offset=".234" stop-color="#6c6c6c"/><stop offset=".237" stop-color="#686868"/><stop offset=".243" stop-color="#2d2d2d"/><stop offset=".249" stop-color="#737373"/><stop offset=".281" stop-color="#b1b1b1"/><stop offset=".293" stop-color="#c0c0c0"/><stop offset=".335" stop-color="#cdcdcd"/><stop offset=".338" stop-color="#b6b6b6"/><stop offset=".341" stop-color="#858585"/><stop offset=".344" stop-color="#616161"/><stop offset=".347" stop-color="#8a8a8a"/><stop offset=".350" stop-color="#c6c6c6"/><stop offset=".353" stop-color="#d5d5d5"/><stop offset=".368" stop-color="#dadada"/><stop offset=".371" stop-color="#d0d0d0"/><stop offset=".374" stop-color="#b0b0b0"/><stop offset=".376" stop-color="#a6a6a6"/><stop offset=".379" stop-color="#afafaf"/><stop offset=".382" stop-color="#d2d2d2"/><stop offset=".385" stop-color="#e0e0e0"/><stop offset=".397" stop-color="#dedede"/><stop offset=".400" stop-color="#cccccc"/><stop offset=".403" stop-color="#ababab"/><stop offset=".406" stop-color="#a3a3a3"/><stop offset=".409" stop-color="#a9a9a9"/><stop offset=".412" stop-color="#c6c6c6"/><stop offset=".415" stop-color="#d4d4d4"/><stop offset=".493" stop-color="#a9a9a9"/><stop offset=".531" stop-color="#9d9d9d"/><stop offset=".558" stop-color="#858585"/><stop offset=".576" stop-color="#8c8c8c"/><stop offset=".588" stop-color="#9c9c9c"/><stop offset=".606" stop-color="#cdcdcd"/><stop offset=".618" stop-color="#dfdfdf"/><stop offset=".653" stop-color="#dfdfdf"/><stop offset=".659" stop-color="#d5d5d5"/><stop offset=".668" stop-color="#b4b4b4"/><stop offset=".692" stop-color="#3f3f3f"/><stop offset=".698" stop-color="#1d1d1d"/><stop offset=".704" stop-color="#090909"/><stop offset=".734" stop-color="#050505"/><stop offset=".999" stop-color="#050505"/></linearGradient>
<linearGradient id="d23" gradientUnits="userSpaceOnUse" x1="36.20" x2="371.80" y1="0" y2="0"><stop offset=".001" stop-color="#050505"/><stop offset=".183" stop-color="#080808"/><stop offset=".216" stop-color="#5c5c5c"/><stop offset=".234" stop-color="#6b6b6b"/><stop offset=".237" stop-color="#515151"/><stop offset=".240" stop-color="#2d2d2d"/><stop offset=".243" stop-color="#4b4b4b"/><stop offset=".246" stop-color="#6f6f6f"/><stop offset=".249" stop-color="#797979"/><stop offset=".260" stop-color="#8a8a8a"/><stop offset=".281" stop-color="#b2b2b2"/><stop offset=".293" stop-color="#c1c1c1"/><stop offset=".335" stop-color="#cdcdcd"/><stop offset=".338" stop-color="#b7b7b7"/><stop offset=".341" stop-color="#858585"/><stop offset=".344" stop-color="#616161"/><stop offset=".347" stop-color="#8a8a8a"/><stop offset=".350" stop-color="#c6c6c6"/><stop offset=".353" stop-color="#d5d5d5"/><stop offset=".368" stop-color="#dbdbdb"/><stop offset=".371" stop-color="#d6d6d6"/><stop offset=".374" stop-color="#b8b8b8"/><stop offset=".376" stop-color="#a6a6a6"/><stop offset=".379" stop-color="#a9a9a9"/><stop offset=".382" stop-color="#c9c9c9"/><stop offset=".385" stop-color="#dfdfdf"/><stop offset=".397" stop-color="#dedede"/><stop offset=".400" stop-color="#cdcdcd"/><stop offset=".403" stop-color="#acacac"/><stop offset=".406" stop-color="#a3a3a3"/><stop offset=".409" stop-color="#a9a9a9"/><stop offset=".412" stop-color="#c5c5c5"/><stop offset=".415" stop-color="#d4d4d4"/><stop offset=".496" stop-color="#aaaaaa"/><stop offset=".531" stop-color="#9d9d9d"/><stop offset=".555" stop-color="#838383"/><stop offset=".573" stop-color="#898989"/><stop offset=".588" stop-color="#9c9c9c"/><stop offset=".603" stop-color="#c7c7c7"/><stop offset=".615" stop-color="#dddddd"/><stop offset=".653" stop-color="#dfdfdf"/><stop offset=".659" stop-color="#d5d5d5"/><stop offset=".668" stop-color="#b4b4b4"/><stop offset=".692" stop-color="#3f3f3f"/><stop offset=".698" stop-color="#1d1d1d"/><stop offset=".704" stop-color="#090909"/><stop offset=".734" stop-color="#050505"/><stop offset=".999" stop-color="#050505"/></linearGradient>
<linearGradient id="d24" gradientUnits="userSpaceOnUse" x1="36.20" x2="371.80" y1="0" y2="0"><stop offset=".001" stop-color="#050505"/><stop offset=".180" stop-color="#070707"/><stop offset=".186" stop-color="#101010"/><stop offset=".213" stop-color="#575757"/><stop offset=".225" stop-color="#676767"/><stop offset=".234" stop-color="#6d6d6d"/><stop offset=".240" stop-color="#4c4c4c"/><stop offset=".243" stop-color="#6c6c6c"/><stop offset=".246" stop-color="#777777"/><stop offset=".257" stop-color="#858585"/><stop offset=".278" stop-color="#aeaeae"/><stop offset=".293" stop-color="#c1c1c1"/><stop offset=".335" stop-color="#cdcdcd"/><stop offset=".338" stop-color="#b8b8b8"/><stop offset=".341" stop-color="#868686"/><stop offset=".344" stop-color="#636363"/><stop offset=".347" stop-color="#8b8b8b"/><stop offset=".350" stop-color="#c5c5c5"/><stop offset=".353" stop-color="#d5d5d5"/><stop offset=".371" stop-color="#d9d9d9"/><stop offset=".376" stop-color="#a7a7a7"/><stop offset=".379" stop-color="#a7a7a7"/><stop offset=".385" stop-color="#dddddd"/><stop offset=".391" stop-color="#e1e1e1"/><stop offset=".397" stop-color="#dfdfdf"/><stop offset=".400" stop-color="#cecece"/><stop offset=".403" stop-color="#adadad"/><stop offset=".406" stop-color="#a3a3a3"/><stop offset=".409" stop-color="#a8a8a8"/><stop offset=".412" stop-color="#c4c4c4"/><stop offset=".415" stop-color="#d4d4d4"/><stop offset=".496" stop-color="#ababab"/><stop offset=".528" stop-color="#9f9f9f"/><stop offset=".555" stop-color="#7f7f7f"/><stop offset=".573" stop-color="#898989"/><stop offset=".588" stop-color="#9d9d9d"/><stop offset=".603" stop-color="#c8c8c8"/><stop offset=".615" stop-color="#dddddd"/><stop offset=".653" stop-color="#dfdfdf"/><stop offset=".659" stop-color="#d5d5d5"/><stop offset=".668" stop-color="#b4b4b4"/><stop offset=".692" stop-color="#3f3f3f"/><stop offset=".698" stop-color="#1d1d1d"/><stop offset=".704" stop-color="#090909"/><stop offset=".734" stop-color="#050505"/><stop offset=".999" stop-color="#050505"/></linearGradient>
<linearGradient id="d25" gradientUnits="userSpaceOnUse" x1="36.20" x2="371.80" y1="0" y2="0"><stop offset=".001" stop-color="#050505"/><stop offset=".171" stop-color="#090909"/><stop offset=".183" stop-color="#0f0f0f"/><stop offset=".216" stop-color="#5f5f5f"/><stop offset=".251" stop-color="#7d7d7d"/><stop offset=".281" stop-color="#b3b3b3"/><stop offset=".293" stop-color="#c1c1c1"/><stop offset=".335" stop-color="#cecece"/><stop offset=".338" stop-color="#b9b9b9"/><stop offset=".341" stop-color="#888888"/><stop offset=".344" stop-color="#666666"/><stop offset=".347" stop-color="#8c8c8c"/><stop offset=".350" stop-color="#c5c5c5"/><stop offset=".353" stop-color="#d5d5d5"/><stop offset=".371" stop-color="#dbdbdb"/><stop offset=".374" stop-color="#cacaca"/><stop offset=".376" stop-color="#ababab"/><stop offset=".379" stop-color="#a6a6a6"/><stop offset=".382" stop-color="#b5b5b5"/><stop offset=".385" stop-color="#d8d8d8"/><stop offset=".388" stop-color="#e1e1e1"/><stop offset=".397" stop-color="#dfdfdf"/><stop offset=".400" stop-color="#cfcfcf"/><stop offset=".403" stop-color="#aeaeae"/><stop offset=".406" stop-color="#a3a3a3"/><stop offset=".409" stop-color="#a8a8a8"/><stop offset=".412" stop-color="#c4c4c4"/><stop offset=".415" stop-color="#d4d4d4"/><stop offset=".499" stop-color="#ababab"/><stop offset=".528" stop-color="#9f9f9f"/><stop offset=".543" stop-color="#8a8a8a"/><stop offset=".555" stop-color="#7a7a7a"/><stop offset=".576" stop-color="#8c8c8c"/><stop offset=".588" stop-color="#9d9d9d"/><stop offset=".600" stop-color="#c2c2c2"/><stop offset=".615" stop-color="#dedede"/><stop offset=".653" stop-color="#dfdfdf"/><stop offset=".659" stop-color="#d5d5d5"/><stop offset=".668" stop-color="#b4b4b4"/><stop offset=".692" stop-color="#3f3f3f"/><stop offset=".698" stop-color="#1d1d1d"/><stop offset=".704" stop-color="#090909"/><stop offset=".731" stop-color="#050505"/><stop offset=".999" stop-color="#050505"/></linearGradient>
<linearGradient id="d26" gradientUnits="userSpaceOnUse" x1="36.20" x2="371.80" y1="0" y2="0"><stop offset=".001" stop-color="#050505"/><stop offset=".141" stop-color="#090909"/><stop offset=".183" stop-color="#171717"/><stop offset=".201" stop-color="#3e3e3e"/><stop offset=".216" stop-color="#616161"/><stop offset=".254" stop-color="#828282"/><stop offset=".275" stop-color="#ababab"/><stop offset=".293" stop-color="#c1c1c1"/><stop offset=".335" stop-color="#cecece"/><stop offset=".338" stop-color="#bbbbbb"/><stop offset=".341" stop-color="#8a8a8a"/><stop offset=".344" stop-color="#6a6a6a"/><stop offset=".347" stop-color="#8e8e8e"/><stop offset=".350" stop-color="#c4c4c4"/><stop offset=".353" stop-color="#d5d5d5"/><stop offset=".371" stop-color="#dcdcdc"/><stop offset=".374" stop-color="#d2d2d2"/><stop offset=".376" stop-color="#b1b1b1"/><stop offset=".379" stop-color="#a6a6a6"/><stop offset=".382" stop-color="#aeaeae"/><stop offset=".385" stop-color="#d1d1d1"/><stop offset=".388" stop-color="#e1e1e1"/><stop offset=".397" stop-color="#dfdfdf"/><stop offset=".400" stop-color="#d0d0d0"/><stop offset=".403" stop-color="#aeaeae"/><stop offset=".406" stop-color="#a3a3a3"/><stop offset=".409" stop-color="#a8a8a8"/><stop offset=".412" stop-color="#c3c3c3"/><stop offset=".415" stop-color="#d4d4d4"/><stop offset=".501" stop-color="#ababab"/><stop offset=".528" stop-color="#a0a0a0"/><stop offset=".543" stop-color="#888888"/><stop offset=".552" stop-color="#787878"/><stop offset=".561" stop-color="#7a7a7a"/><stop offset=".585" stop-color="#979797"/><stop offset=".600" stop-color="#c3c3c3"/><stop offset=".615" stop-color="#dedede"/><stop offset=".653" stop-color="#dfdfdf"/><stop offset=".659" stop-color="#d4d4d4"/><stop offset=".668" stop-color="#b4b4b4"/><stop offset=".692" stop-color="#3f3f3f"/><stop offset=".698" stop-color="#1d1d1d"/><stop offset=".704" stop-color="#0b0b0b"/><stop offset=".722" stop-color="#050505"/><stop offset=".999" stop-color="#050505"/></linearGradient>
<linearGradient id="d27" gradientUnits="userSpaceOnUse" x1="36.20" x2="371.80" y1="0" y2="0"><stop offset=".001" stop-color="#050505"/><stop offset=".115" stop-color="#090909"/><stop offset=".183" stop-color="#222222"/><stop offset=".198" stop-color="#3a3a3a"/><stop offset=".216" stop-color="#626262"/><stop offset=".254" stop-color="#838383"/><stop offset=".275" stop-color="#ababab"/><stop offset=".293" stop-color="#c1c1c1"/><stop offset=".335" stop-color="#cecece"/><stop offset=".338" stop-color="#bcbcbc"/><stop offset=".341" stop-color="#8d8d8d"/><stop offset=".344" stop-color="#6f6f6f"/><stop offset=".347" stop-color="#909090"/><stop offset=".350" stop-color="#c4c4c4"/><stop offset=".353" stop-color="#d5d5d5"/><stop offset=".371" stop-color="#dcdcdc"/><stop offset=".374" stop-color="#d8d8d8"/><stop offset=".376" stop-color="#b9b9b9"/><stop offset=".379" stop-color="#a6a6a6"/><stop offset=".382" stop-color="#a9a9a9"/><stop offset=".385" stop-color="#c8c8c8"/><stop offset=".388" stop-color="#e0e0e0"/><stop offset=".397" stop-color="#dfdfdf"/><stop offset=".400" stop-color="#d1d1d1"/><stop offset=".403" stop-color="#afafaf"/><stop offset=".406" stop-color="#a3a3a3"/><stop offset=".409" stop-color="#a7a7a7"/><stop offset=".412" stop-color="#c2c2c2"/><stop offset=".415" stop-color="#d5d5d5"/><stop offset=".504" stop-color="#acacac"/><stop offset=".528" stop-color="#a0a0a0"/><stop offset=".543" stop-color="#888888"/><stop offset=".552" stop-color="#777777"/><stop offset=".561" stop-color="#7a7a7a"/><stop offset=".585" stop-color="#999999"/><stop offset=".600" stop-color="#c4c4c4"/><stop offset=".615" stop-color="#dedede"/><stop offset=".653" stop-color="#dfdfdf"/><stop offset=".659" stop-color="#d4d4d4"/><stop offset=".671" stop-color="#a6a6a6"/><stop offset=".692" stop-color="#3f3f3f"/><stop offset=".698" stop-color="#202020"/><stop offset=".707" stop-color="#0d0d0d"/><stop offset=".725" stop-color="#050505"/><stop offset=".999" stop-color="#050505"/></linearGradient>
<linearGradient id="d28" gradientUnits="userSpaceOnUse" x1="36.20" x2="371.80" y1="0" y2="0"><stop offset=".001" stop-color="#050505"/><stop offset=".100" stop-color="#090909"/><stop offset=".183" stop-color="#2c2c2c"/><stop offset=".201" stop-color="#484848"/><stop offset=".216" stop-color="#636363"/><stop offset=".251" stop-color="#808080"/><stop offset=".275" stop-color="#acacac"/><stop offset=".293" stop-color="#c1c1c1"/><stop offset=".335" stop-color="#cecece"/><stop offset=".338" stop-color="#bdbdbd"/><stop offset=".341" stop-color="#919191"/><stop offset=".344" stop-color="#757575"/><stop offset=".347" stop-color="#929292"/><stop offset=".350" stop-color="#c3c3c3"/><stop offset=".353" stop-color="#d5d5d5"/><stop offset=".374" stop-color="#dadada"/><stop offset=".379" stop-color="#a7a7a7"/><stop offset=".382" stop-color="#a8a8a8"/><stop offset=".388" stop-color="#dfdfdf"/><stop offset=".397" stop-color="#dfdfdf"/><stop offset=".400" stop-color="#d2d2d2"/><stop offset=".403" stop-color="#b0b0b0"/><stop offset=".406" stop-color="#a3a3a3"/><stop offset=".409" stop-color="#a7a7a7"/><stop offset=".412" stop-color="#c1c1c1"/><stop offset=".415" stop-color="#d5d5d5"/><stop offset=".513" stop-color="#ababab"/><stop offset=".531" stop-color="#9e9e9e"/><stop offset=".552" stop-color="#7b7b7b"/><stop offset=".561" stop-color="#7e7e7e"/><stop offset=".585" stop-color="#9b9b9b"/><stop offset=".597" stop-color="#c0c0c0"/><stop offset=".615" stop-color="#dedede"/><stop offset=".653" stop-color="#dfdfdf"/><stop offset=".659" stop-color="#d4d4d4"/><stop offset=".671" stop-color="#a6a6a6"/><stop offset=".695" stop-color="#323232"/><stop offset=".704" stop-color="#1b1b1b"/><stop offset=".719" stop-color="#080808"/><stop offset=".999" stop-color="#050505"/></linearGradient>
<linearGradient id="d29" gradientUnits="userSpaceOnUse" x1="36.20" x2="371.80" y1="0" y2="0"><stop offset=".001" stop-color="#050505"/><stop offset=".085" stop-color="#090909"/><stop offset=".150" stop-color="#272727"/><stop offset=".183" stop-color="#363636"/><stop offset=".213" stop-color="#616161"/><stop offset=".251" stop-color="#818181"/><stop offset=".272" stop-color="#a9a9a9"/><stop offset=".290" stop-color="#c0c0c0"/><stop offset=".335" stop-color="#cfcfcf"/><stop offset=".338" stop-color="#bfbfbf"/><stop offset=".341" stop-color="#949494"/><stop offset=".344" stop-color="#7b7b7b"/><stop offset=".347" stop-color="#959595"/><stop offset=".350" stop-color="#c3c3c3"/><stop offset=".353" stop-color="#d5d5d5"/><stop offset=".374" stop-color="#dbdbdb"/><stop offset=".379" stop-color="#a7a7a7"/><stop offset=".382" stop-color="#a7a7a7"/><stop offset=".388" stop-color="#dfdfdf"/><stop offset=".397" stop-color="#dfdfdf"/><stop offset=".400" stop-color="#d3d3d3"/><stop offset=".403" stop-color="#b1b1b1"/><stop offset=".406" stop-color="#a3a3a3"/><stop offset=".409" stop-color="#a6a6a6"/><stop offset=".415" stop-color="#d5d5d5"/><stop offset=".525" stop-color="#a6a6a6"/><stop offset=".552" stop-color="#828282"/><stop offset=".561" stop-color="#848484"/><stop offset=".585" stop-color="#9f9f9f"/><stop offset=".591" stop-color="#b7b7b7"/><stop offset=".615" stop-color="#dedede"/><stop offset=".653" stop-color="#dfdfdf"/><stop offset=".659" stop-color="#d4d4d4"/><stop offset=".671" stop-color="#a6a6a6"/><stop offset=".692" stop-color="#434343"/><stop offset=".704" stop-color="#272727"/><stop offset=".722" stop-color="#0a0a0a"/><stop offset=".760" stop-color="#050505"/><stop offset=".999" stop-color="#050505"/></linearGradient>
<linearGradient id="d30" gradientUnits="userSpaceOnUse" x1="36.20" x2="371.80" y1="0" y2="0"><stop offset=".001" stop-color="#050505"/><stop offset=".076" stop-color="#080808"/><stop offset=".126" stop-color="#272727"/><stop offset=".177" stop-color="#3b3b3b"/><stop offset=".201" stop-color="#5c5c5c"/><stop offset=".251" stop-color="#828282"/><stop offset=".272" stop-color="#a9a9a9"/><stop offset=".293" stop-color="#c1c1c1"/><stop offset=".335" stop-color="#cfcfcf"/><stop offset=".338" stop-color="#c0c0c0"/><stop offset=".341" stop-color="#979797"/><stop offset=".344" stop-color="#808080"/><stop offset=".347" stop-color="#979797"/><stop offset=".350" stop-color="#c2c2c2"/><stop offset=".353" stop-color="#d4d4d4"/><stop offset=".374" stop-color="#dbdbdb"/><stop offset=".376" stop-color="#c5c5c5"/><stop offset=".379" stop-color="#a8a8a8"/><stop offset=".382" stop-color="#a7a7a7"/><stop offset=".388" stop-color="#dedede"/><stop offset=".397" stop-color="#e0e0e0"/><stop offset=".400" stop-color="#d4d4d4"/><stop offset=".403" stop-color="#b2b2b2"/><stop offset=".406" stop-color="#a3a3a3"/><stop offset=".409" stop-color="#a6a6a6"/><stop offset=".415" stop-color="#d5d5d5"/><stop offset=".525" stop-color="#a8a8a8"/><stop offset=".555" stop-color="#898989"/><stop offset=".579" stop-color="#9b9b9b"/><stop offset=".585" stop-color="#a9a9a9"/><stop offset=".591" stop-color="#bdbdbd"/><stop offset=".615" stop-color="#dedede"/><stop offset=".653" stop-color="#dfdfdf"/><stop offset=".659" stop-color="#d4d4d4"/><stop offset=".671" stop-color="#a6a6a6"/><stop offset=".689" stop-color="#535353"/><stop offset=".698" stop-color="#3d3d3d"/><stop offset=".725" stop-color="#0d0d0d"/><stop offset=".760" stop-color="#050505"/><stop offset=".999" stop-color="#050505"/></linearGradient>
<linearGradient id="d31" gradientUnits="userSpaceOnUse" x1="36.20" x2="371.80" y1="0" y2="0"><stop offset=".001" stop-color="#050505"/><stop offset=".067" stop-color="#070707"/><stop offset=".106" stop-color="#252525"/><stop offset=".171" stop-color="#404040"/><stop offset=".198" stop-color="#616161"/><stop offset=".231" stop-color="#727272"/><stop offset=".251" stop-color="#848484"/><stop offset=".272" stop-color="#aaaaaa"/><stop offset=".293" stop-color="#c1c1c1"/><stop offset=".335" stop-color="#cfcfcf"/><stop offset=".338" stop-color="#c1c1c1"/><stop offset=".341" stop-color="#9b9b9b"/><stop offset=".344" stop-color="#868686"/><stop offset=".347" stop-color="#9a9a9a"/><stop offset=".350" stop-color="#c1c1c1"/><stop offset=".353" stop-color="#d4d4d4"/><stop offset=".374" stop-color="#dcdcdc"/><stop offset=".376" stop-color="#c8c8c8"/><stop offset=".379" stop-color="#a9a9a9"/><stop offset=".382" stop-color="#a6a6a6"/><stop offset=".385" stop-color="#bdbdbd"/><stop offset=".388" stop-color="#dddddd"/><stop offset=".394" stop-color="#e1e1e1"/><stop offset=".397" stop-color="#e0e0e0"/><stop offset=".400" stop-color="#d4d4d4"/><stop offset=".403" stop-color="#b2b2b2"/><stop offset=".406" stop-color="#a3a3a3"/><stop offset=".409" stop-color="#a6a6a6"/><stop offset=".415" stop-color="#d5d5d5"/><stop offset=".528" stop-color="#a9a9a9"/><stop offset=".555" stop-color="#919191"/><stop offset=".573" stop-color="#9c9c9c"/><stop offset=".582" stop-color="#adadad"/><stop offset=".591" stop-color="#c1c1c1"/><stop offset=".618" stop-color="#dfdfdf"/><stop offset=".653" stop-color="#dfdfdf"/><stop offset=".659" stop-color="#d4d4d4"/><stop offset=".671" stop-color="#a6a6a6"/><stop offset=".686" stop-color="#606060"/><stop offset=".695" stop-color="#4b4b4b"/><stop offset=".716" stop-color="#292929"/><stop offset=".728" stop-color="#131313"/><stop offset=".769" stop-color="#060606"/><stop offset=".999" stop-color="#050505"/></linearGradient>
<linearGradient id="d32" gradientUnits="userSpaceOnUse" x1="36.20" x2="371.80" y1="0" y2="0"><stop offset=".001" stop-color="#050505"/><stop offset=".064" stop-color="#080808"/><stop offset=".091" stop-color="#232323"/><stop offset=".147" stop-color="#3d3d3d"/><stop offset=".171" stop-color="#4a4a4a"/><stop offset=".192" stop-color="#616161"/><stop offset=".228" stop-color="#717171"/><stop offset=".251" stop-color="#878787"/><stop offset=".275" stop-color="#aeaeae"/><stop offset=".293" stop-color="#c1c1c1"/><stop offset=".335" stop-color="#cfcfcf"/><stop offset=".338" stop-color="#c2c2c2"/><stop offset=".341" stop-color="#9e9e9e"/><stop offset=".344" stop-color="#8b8b8b"/><stop offset=".347" stop-color="#9c9c9c"/><stop offset=".350" stop-color="#bebebe"/><stop offset=".353" stop-color="#d2d2d2"/><stop offset=".374" stop-color="#dcdcdc"/><stop offset=".376" stop-color="#cbcbcb"/><stop offset=".379" stop-color="#aaaaaa"/><stop offset=".382" stop-color="#a6a6a6"/><stop offset=".385" stop-color="#bababa"/><stop offset=".388" stop-color="#dcdcdc"/><stop offset=".391" stop-color="#e2e2e2"/><stop offset=".397" stop-color="#e0e0e0"/><stop offset=".400" stop-color="#d5d5d5"/><stop offset=".403" stop-color="#b2b2b2"/><stop offset=".406" stop-color="#9f9f9f"/><stop offset=".409" stop-color="#a5a5a5"/><stop offset=".415" stop-color="#d4d4d4"/><stop offset=".534" stop-color="#aaaaaa"/><stop offset=".558" stop-color="#999999"/><stop offset=".576" stop-color="#aaaaaa"/><stop offset=".588" stop-color="#c1c1c1"/><stop offset=".618" stop-color="#dfdfdf"/><stop offset=".653" stop-color="#dfdfdf"/><stop offset=".659" stop-color="#d4d4d4"/><stop offset=".671" stop-color="#a6a6a6"/><stop offset=".683" stop-color="#6d6d6d"/><stop offset=".692" stop-color="#565656"/><stop offset=".716" stop-color="#373737"/><stop offset=".728" stop-color="#1f1f1f"/><stop offset=".766" stop-color="#0a0a0a"/><stop offset=".915" stop-color="#050505"/><stop offset=".999" stop-color="#050505"/></linearGradient>
<linearGradient id="d33" gradientUnits="userSpaceOnUse" x1="36.20" x2="371.80" y1="0" y2="0"><stop offset=".001" stop-color="#050505"/><stop offset=".061" stop-color="#080808"/><stop offset=".079" stop-color="#202020"/><stop offset=".132" stop-color="#3f3f3f"/><stop offset=".165" stop-color="#4d4d4d"/><stop offset=".189" stop-color="#626262"/><stop offset=".228" stop-color="#737373"/><stop offset=".249" stop-color="#858585"/><stop offset=".278" stop-color="#b2b2b2"/><stop offset=".293" stop-color="#c1c1c1"/><stop offset=".335" stop-color="#cecece"/><stop offset=".338" stop-color="#c5c5c5"/><stop offset=".341" stop-color="#a5a5a5"/><stop offset=".344" stop-color="#909090"/><stop offset=".347" stop-color="#9a9a9a"/><stop offset=".353" stop-color="#cbcbcb"/><stop offset=".356" stop-color="#d5d5d5"/><stop offset=".374" stop-color="#dcdcdc"/><stop offset=".376" stop-color="#cdcdcd"/><stop offset=".379" stop-color="#acacac"/><stop offset=".382" stop-color="#a6a6a6"/><stop offset=".385" stop-color="#b7b7b7"/><stop offset=".388" stop-color="#dbdbdb"/><stop offset=".391" stop-color="#e2e2e2"/><stop offset=".397" stop-color="#e0e0e0"/><stop offset=".400" stop-color="#d5d5d5"/><stop offset=".403" stop-color="#acacac"/><stop offset=".406" stop-color="#919191"/><stop offset=".409" stop-color="#a1a1a1"/><stop offset=".415" stop-color="#d4d4d4"/><stop offset=".561" stop-color="#a8a8a8"/><stop offset=".618" stop-color="#dfdfdf"/><stop offset=".653" stop-color="#dfdfdf"/><stop offset=".659" stop-color="#d4d4d4"/><stop offset=".671" stop-color="#a6a6a6"/><stop offset=".683" stop-color="#6f6f6f"/><stop offset=".692" stop-color="#5d5d5d"/><stop offset=".719" stop-color="#3f3f3f"/><stop offset=".731" stop-color="#2d2d2d"/><stop offset=".769" stop-color="#111111"/><stop offset=".841" stop-color="#050505"/><stop offset=".999" stop-color="#050505"/></linearGradient>
<linearGradient id="d34" gradientUnits="userSpaceOnUse" x1="36.20" x2="371.80" y1="0" y2="0"><stop offset=".001" stop-color="#050505"/><stop offset=".055" stop-color="#060606"/><stop offset=".076" stop-color="#232323"/><stop offset=".124" stop-color="#404040"/><stop offset=".159" stop-color="#505050"/><stop offset=".183" stop-color="#626262"/><stop offset=".228" stop-color="#747474"/><stop offset=".249" stop-color="#878787"/><stop offset=".281" stop-color="#b6b6b6"/><stop offset=".299" stop-color="#c4c4c4"/><stop offset=".335" stop-color="#cfcfcf"/><stop offset=".338" stop-color="#cbcbcb"/><stop offset=".344" stop-color="#989898"/><stop offset=".347" stop-color="#9c9c9c"/><stop offset=".350" stop-color="#a6a6a6"/><stop offset=".356" stop-color="#d2d2d2"/><stop offset=".374" stop-color="#dcdcdc"/><stop offset=".376" stop-color="#d0d0d0"/><stop offset=".379" stop-color="#adadad"/><stop offset=".382" stop-color="#a6a6a6"/><stop offset=".385" stop-color="#b5b5b5"/><stop offset=".388" stop-color="#dadada"/><stop offset=".391" stop-color="#e2e2e2"/><stop offset=".397" stop-color="#e0e0e0"/><stop offset=".400" stop-color="#d6d6d6"/><stop offset=".403" stop-color="#a0a0a0"/><stop offset=".406" stop-color="#787878"/><stop offset=".412" stop-color="#bcbcbc"/><stop offset=".415" stop-color="#d4d4d4"/><stop offset=".433" stop-color="#d0d0d0"/><stop offset=".507" stop-color="#bcbcbc"/><stop offset=".564" stop-color="#b7b7b7"/><stop offset=".600" stop-color="#d0d0d0"/><stop offset=".624" stop-color="#e0e0e0"/><stop offset=".653" stop-color="#dedede"/><stop offset=".662" stop-color="#c9c9c9"/><stop offset=".674" stop-color="#959595"/><stop offset=".680" stop-color="#7a7a7a"/><stop offset=".689" stop-color="#676767"/><stop offset=".775" stop-color="#1a1a1a"/><stop offset=".844" stop-color="#070707"/><stop offset=".999" stop-color="#050505"/></linearGradient>
<linearGradient id="d35" gradientUnits="userSpaceOnUse" x1="36.20" x2="371.80" y1="0" y2="0"><stop offset=".001" stop-color="#050505"/><stop offset=".052" stop-color="#060606"/><stop offset=".070" stop-color="#212121"/><stop offset=".118" stop-color="#424242"/><stop offset=".156" stop-color="#535353"/><stop offset=".177" stop-color="#626262"/><stop offset=".228" stop-color="#767676"/><stop offset=".251" stop-color="#8e8e8e"/><stop offset=".287" stop-color="#bebebe"/><stop offset=".338" stop-color="#cecece"/><stop offset=".341" stop-color="#bfbfbf"/><stop offset=".344" stop-color="#a4a4a4"/><stop offset=".347" stop-color="#9e9e9e"/><stop offset=".350" stop-color="#a2a2a2"/><stop offset=".353" stop-color="#afafaf"/><stop offset=".356" stop-color="#c9c9c9"/><stop offset=".359" stop-color="#d6d6d6"/><stop offset=".374" stop-color="#dddddd"/><stop offset=".376" stop-color="#d2d2d2"/><stop offset=".379" stop-color="#afafaf"/><stop offset=".382" stop-color="#a6a6a6"/><stop offset=".385" stop-color="#b2b2b2"/><stop offset=".388" stop-color="#d8d8d8"/><stop offset=".391" stop-color="#e2e2e2"/><stop offset=".397" stop-color="#e0e0e0"/><stop offset=".400" stop-color="#d5d5d5"/><stop offset=".403" stop-color="#9b9b9b"/><stop offset=".406" stop-color="#6c6c6c"/><stop offset=".409" stop-color="#989898"/><stop offset=".412" stop-color="#bbbbbb"/><stop offset=".415" stop-color="#d4d4d4"/><stop offset=".427" stop-color="#d3d3d3"/><stop offset=".499" stop-color="#bfbfbf"/><stop offset=".573" stop-color="#bfbfbf"/><stop offset=".626" stop-color="#e0e0e0"/><stop offset=".653" stop-color="#dddddd"/><stop offset=".662" stop-color="#c8c8c8"/><stop offset=".671" stop-color="#a2a2a2"/><stop offset=".677" stop-color="#838383"/><stop offset=".686" stop-color="#6e6e6e"/><stop offset=".710" stop-color="#5d5d5d"/><stop offset=".775" stop-color="#2b2b2b"/><stop offset=".814" stop-color="#151515"/><stop offset=".879" stop-color="#050505"/><stop offset=".999" stop-color="#050505"/></linearGradient>
<linearGradient id="d36" gradientUnits="userSpaceOnUse" x1="36.20" x2="371.80" y1="0" y2="0"><stop offset=".001" stop-color="#050505"/><stop offset=".052" stop-color="#060606"/><stop offset=".067" stop-color="#212121"/><stop offset=".115" stop-color="#434343"/><stop offset=".153" stop-color="#545454"/><stop offset=".171" stop-color="#626262"/><stop offset=".228" stop-color="#777777"/><stop offset=".251" stop-color="#909090"/><stop offset=".290" stop-color="#c0c0c0"/><stop offset=".338" stop-color="#cfcfcf"/><stop offset=".341" stop-color="#c7c7c7"/><stop offset=".347" stop-color="#a4a4a4"/><stop offset=".353" stop-color="#a6a6a6"/><stop offset=".359" stop-color="#d0d0d0"/><stop offset=".365" stop-color="#d9d9d9"/><stop offset=".374" stop-color="#dddddd"/><stop offset=".376" stop-color="#d4d4d4"/><stop offset=".379" stop-color="#b1b1b1"/><stop offset=".382" stop-color="#a6a6a6"/><stop offset=".385" stop-color="#b0b0b0"/><stop offset=".388" stop-color="#d6d6d6"/><stop offset=".391" stop-color="#e2e2e2"/><stop offset=".397" stop-color="#e0e0e0"/><stop offset=".400" stop-color="#d0d0d0"/><stop offset=".403" stop-color="#9e9e9e"/><stop offset=".406" stop-color="#7d7d7d"/><stop offset=".412" stop-color="#c1c1c1"/><stop offset=".415" stop-color="#d6d6d6"/><stop offset=".501" stop-color="#c0c0c0"/><stop offset=".576" stop-color="#c3c3c3"/><stop offset=".629" stop-color="#e0e0e0"/><stop offset=".650" stop-color="#dedede"/><stop offset=".662" stop-color="#c5c5c5"/><stop offset=".671" stop-color="#9e9e9e"/><stop offset=".677" stop-color="#818181"/><stop offset=".689" stop-color="#6d6d6d"/><stop offset=".716" stop-color="#606060"/><stop offset=".787" stop-color="#303030"/><stop offset=".826" stop-color="#1b1b1b"/><stop offset=".891" stop-color="#050505"/><stop offset=".999" stop-color="#050505"/></linearGradient>
<linearGradient id="d37" gradientUnits="userSpaceOnUse" x1="36.20" x2="371.80" y1="0" y2="0"><stop offset=".001" stop-color="#050505"/><stop offset=".052" stop-color="#060606"/><stop offset=".067" stop-color="#212121"/><stop offset=".112" stop-color="#444444"/><stop offset=".150" stop-color="#565656"/><stop offset=".171" stop-color="#636363"/><stop offset=".228" stop-color="#797979"/><stop offset=".254" stop-color="#959595"/><stop offset=".290" stop-color="#c0c0c0"/><stop offset=".338" stop-color="#cfcfcf"/><stop offset=".341" stop-color="#cbcbcb"/><stop offset=".350" stop-color="#a3a3a3"/><stop offset=".353" stop-color="#a3a3a3"/><stop offset=".356" stop-color="#aaaaaa"/><stop offset=".362" stop-color="#cfcfcf"/><stop offset=".365" stop-color="#d8d8d8"/><stop offset=".374" stop-color="#dddddd"/><stop offset=".376" stop-color="#d6d6d6"/><stop offset=".379" stop-color="#b3b3b3"/><stop offset=".382" stop-color="#a6a6a6"/><stop offset=".385" stop-color="#aeaeae"/><stop offset=".388" stop-color="#d4d4d4"/><stop offset=".391" stop-color="#e3e3e3"/><stop offset=".397" stop-color="#dfdfdf"/><stop offset=".400" stop-color="#c9c9c9"/><stop offset=".403" stop-color="#a4a4a4"/><stop offset=".406" stop-color="#959595"/><stop offset=".409" stop-color="#a7a7a7"/><stop offset=".412" stop-color="#c9c9c9"/><stop offset=".415" stop-color="#d8d8d8"/><stop offset=".496" stop-color="#c2c2c2"/><stop offset=".579" stop-color="#c6c6c6"/><stop offset=".632" stop-color="#e0e0e0"/><stop offset=".650" stop-color="#dddddd"/><stop offset=".662" stop-color="#c1c1c1"/><stop offset=".677" stop-color="#7e7e7e"/><stop offset=".695" stop-color="#6a6a6a"/><stop offset=".743" stop-color="#595959"/><stop offset=".769" stop-color="#454545"/><stop offset=".826" stop-color="#232323"/><stop offset=".900" stop-color="#050505"/><stop offset=".999" stop-color="#050505"/></linearGradient>
<linearGradient id="d38" gradientUnits="userSpaceOnUse" x1="36.20" x2="371.80" y1="0" y2="0"><stop offset=".001" stop-color="#050505"/><stop offset=".055" stop-color="#080808"/><stop offset=".070" stop-color="#222222"/><stop offset=".115" stop-color="#444444"/><stop offset=".150" stop-color="#585858"/><stop offset=".168" stop-color="#636363"/><stop offset=".216" stop-color="#727272"/><stop offset=".246" stop-color="#8b8b8b"/><stop offset=".290" stop-color="#c0c0c0"/><stop offset=".341" stop-color="#cdcdcd"/><stop offset=".347" stop-color="#bebebe"/><stop offset=".350" stop-color="#aaaaaa"/><stop offset=".353" stop-color="#a3a3a3"/><stop offset=".359" stop-color="#a8a8a8"/><stop offset=".365" stop-color="#cdcdcd"/><stop offset=".368" stop-color="#d9d9d9"/><stop offset=".374" stop-color="#dddddd"/><stop offset=".376" stop-color="#d8d8d8"/><stop offset=".379" stop-color="#b6b6b6"/><stop offset=".382" stop-color="#a6a6a6"/><stop offset=".385" stop-color="#adadad"/><stop offset=".388" stop-color="#d2d2d2"/><stop offset=".391" stop-color="#e3e3e3"/><stop offset=".397" stop-color="#dddddd"/><stop offset=".403" stop-color="#a5a5a5"/><stop offset=".406" stop-color="#a0a0a0"/><stop offset=".409" stop-color="#b0b0b0"/><stop offset=".412" stop-color="#cfcfcf"/><stop offset=".415" stop-color="#d9d9d9"/><stop offset=".493" stop-color="#c3c3c3"/><stop offset=".579" stop-color="#c7c7c7"/><stop offset=".635" stop-color="#dfdfdf"/><stop offset=".650" stop-color="#dbdbdb"/><stop offset=".662" stop-color="#bcbcbc"/><stop offset=".674" stop-color="#868686"/><stop offset=".680" stop-color="#787878"/><stop offset=".707" stop-color="#676767"/><stop offset=".746" stop-color="#5c5c5c"/><stop offset=".769" stop-color="#484848"/><stop offset=".805" stop-color="#353535"/><stop offset=".853" stop-color="#202020"/><stop offset=".885" stop-color="#101010"/><stop offset=".900" stop-color="#050505"/><stop offset=".999" stop-color="#050505"/></linearGradient>
<linearGradient id="d39" gradientUnits="userSpaceOnUse" x1="36.20" x2="371.80" y1="0" y2="0"><stop offset=".001" stop-color="#050505"/><stop offset=".058" stop-color="#080808"/><stop offset=".073" stop-color="#232323"/><stop offset=".118" stop-color="#444444"/><stop offset=".150" stop-color="#585858"/><stop offset=".165" stop-color="#5f5f5f"/><stop offset=".189" stop-color="#595959"/><stop offset=".251" stop-color="#929292"/><stop offset=".287" stop-color="#bcbcbc"/><stop offset=".341" stop-color="#cecece"/><stop offset=".347" stop-color="#cbcbcb"/><stop offset=".353" stop-color="#adadad"/><stop offset=".356" stop-color="#a4a4a4"/><stop offset=".362" stop-color="#a6a6a6"/><stop offset=".365" stop-color="#b6b6b6"/><stop offset=".368" stop-color="#cccccc"/><stop offset=".371" stop-color="#dadada"/><stop offset=".374" stop-color="#dedede"/><stop offset=".376" stop-color="#d9d9d9"/><stop offset=".379" stop-color="#b9b9b9"/><stop offset=".382" stop-color="#a6a6a6"/><stop offset=".385" stop-color="#ababab"/><stop offset=".388" stop-color="#cfcfcf"/><stop offset=".391" stop-color="#e3e3e3"/><stop offset=".394" stop-color="#e3e3e3"/><stop offset=".397" stop-color="#dadada"/><stop offset=".400" stop-color="#b9b9b9"/><stop offset=".403" stop-color="#a4a4a4"/><stop offset=".406" stop-color="#a4a4a4"/><stop offset=".409" stop-color="#b8b8b8"/><stop offset=".412" stop-color="#d5d5d5"/><stop offset=".415" stop-color="#dadada"/><stop offset=".493" stop-color="#c4c4c4"/><stop offset=".579" stop-color="#c8c8c8"/><stop offset=".624" stop-color="#d9d9d9"/><stop offset=".647" stop-color="#d9d9d9"/><stop offset=".656" stop-color="#cacaca"/><stop offset=".665" stop-color="#acacac"/><stop offset=".674" stop-color="#838383"/><stop offset=".686" stop-color="#737373"/><stop offset=".719" stop-color="#656565"/><stop offset=".746" stop-color="#5f5f5f"/><stop offset=".772" stop-color="#4a4a4a"/><stop offset=".817" stop-color="#343434"/><stop offset=".850" stop-color="#232323"/><stop offset=".885" stop-color="#181818"/><stop offset=".897" stop-color="#060606"/><stop offset=".999" stop-color="#050505"/></linearGradient>
<linearGradient id="d40" gradientUnits="userSpaceOnUse" x1="36.20" x2="371.80" y1="0" y2="0"><stop offset=".001" stop-color="#050505"/><stop offset=".058" stop-color="#060606"/><stop offset=".076" stop-color="#222222"/><stop offset=".121" stop-color="#434343"/><stop offset=".159" stop-color="#5b5b5b"/><stop offset=".171" stop-color="#4d4d4d"/><stop offset=".186" stop-color="#323232"/><stop offset=".195" stop-color="#383838"/><stop offset=".216" stop-color="#6c6c6c"/><stop offset=".254" stop-color="#949494"/><stop offset=".281" stop-color="#b5b5b5"/><stop offset=".314" stop-color="#c6c6c6"/><stop offset=".350" stop-color="#d0d0d0"/><stop offset=".353" stop-color="#c3c3c3"/><stop offset=".356" stop-color="#b0b0b0"/><stop offset=".359" stop-color="#a5a5a5"/><stop offset=".365" stop-color="#a5a5a5"/><stop offset=".368" stop-color="#b5b5b5"/><stop offset=".371" stop-color="#cfcfcf"/><stop offset=".374" stop-color="#dddddd"/><stop offset=".376" stop-color="#dbdbdb"/><stop offset=".379" stop-color="#bcbcbc"/><stop offset=".382" stop-color="#a6a6a6"/><stop offset=".385" stop-color="#aaaaaa"/><stop offset=".388" stop-color="#cdcdcd"/><stop offset=".391" stop-color="#e3e3e3"/><stop offset=".394" stop-color="#e3e3e3"/><stop offset=".397" stop-color="#d5d5d5"/><stop offset=".400" stop-color="#b2b2b2"/><stop offset=".403" stop-color="#a3a3a3"/><stop offset=".406" stop-color="#a7a7a7"/><stop offset=".412" stop-color="#d9d9d9"/><stop offset=".439" stop-color="#d2d2d2"/><stop offset=".507" stop-color="#c4c4c4"/><stop offset=".606" stop-color="#cecece"/><stop offset=".635" stop-color="#d6d6d6"/><stop offset=".650" stop-color="#d1d1d1"/><stop offset=".659" stop-color="#bebebe"/><stop offset=".674" stop-color="#808080"/><stop offset=".713" stop-color="#5e5e5e"/><stop offset=".746" stop-color="#616161"/><stop offset=".781" stop-color="#484848"/><stop offset=".820" stop-color="#373737"/><stop offset=".844" stop-color="#262626"/><stop offset=".885" stop-color="#191919"/><stop offset=".897" stop-color="#060606"/><stop offset=".999" stop-color="#050505"/></linearGradient>
<linearGradient id="d41" gradientUnits="userSpaceOnUse" x1="36.20" x2="371.80" y1="0" y2="0"><stop offset=".001" stop-color="#050505"/><stop offset=".061" stop-color="#060606"/><stop offset=".082" stop-color="#242424"/><stop offset=".132" stop-color="#464646"/><stop offset=".159" stop-color="#555555"/><stop offset=".168" stop-color="#464646"/><stop offset=".183" stop-color="#101010"/><stop offset=".189" stop-color="#080808"/><stop offset=".195" stop-color="#121212"/><stop offset=".213" stop-color="#5d5d5d"/><stop offset=".225" stop-color="#757575"/><stop offset=".251" stop-color="#8d8d8d"/><stop offset=".275" stop-color="#adadad"/><stop offset=".311" stop-color="#c4c4c4"/><stop offset=".353" stop-color="#d3d3d3"/><stop offset=".356" stop-color="#c8c8c8"/><stop offset=".362" stop-color="#a6a6a6"/><stop offset=".365" stop-color="#a3a3a3"/><stop offset=".368" stop-color="#a6a6a6"/><stop offset=".371" stop-color="#bababa"/><stop offset=".374" stop-color="#d5d5d5"/><stop offset=".376" stop-color="#dcdcdc"/><stop offset=".382" stop-color="#a7a7a7"/><stop offset=".385" stop-color="#a9a9a9"/><stop offset=".388" stop-color="#cacaca"/><stop offset=".391" stop-color="#e3e3e3"/><stop offset=".394" stop-color="#e3e3e3"/><stop offset=".397" stop-color="#cecece"/><stop offset=".400" stop-color="#acacac"/><stop offset=".403" stop-color="#a3a3a3"/><stop offset=".406" stop-color="#ababab"/><stop offset=".409" stop-color="#cacaca"/><stop offset=".412" stop-color="#dbdbdb"/><stop offset=".496" stop-color="#c6c6c6"/><stop offset=".603" stop-color="#cbcbcb"/><stop offset=".635" stop-color="#d1d1d1"/><stop offset=".653" stop-color="#c7c7c7"/><stop offset=".659" stop-color="#b7b7b7"/><stop offset=".671" stop-color="#858585"/><stop offset=".680" stop-color="#787878"/><stop offset=".695" stop-color="#626262"/><stop offset=".710" stop-color="#383838"/><stop offset=".716" stop-color="#353535"/><stop offset=".734" stop-color="#5c5c5c"/><stop offset=".746" stop-color="#616161"/><stop offset=".790" stop-color="#464646"/><stop offset=".817" stop-color="#3c3c3c"/><stop offset=".838" stop-color="#282828"/><stop offset=".882" stop-color="#151515"/><stop offset=".897" stop-color="#050505"/><stop offset=".999" stop-color="#050505"/></linearGradient>
<linearGradient id="d42" gradientUnits="userSpaceOnUse" x1="36.20" x2="371.80" y1="0" y2="0"><stop offset=".001" stop-color="#050505"/><stop offset=".064" stop-color="#060606"/><stop offset=".088" stop-color="#252525"/><stop offset=".159" stop-color="#525252"/><stop offset=".168" stop-color="#484848"/><stop offset=".183" stop-color="#1b1b1b"/><stop offset=".189" stop-color="#141414"/><stop offset=".195" stop-color="#1d1d1d"/><stop offset=".213" stop-color="#5e5e5e"/><stop offset=".225" stop-color="#747474"/><stop offset=".251" stop-color="#898989"/><stop offset=".272" stop-color="#a9a9a9"/><stop offset=".317" stop-color="#c5c5c5"/><stop offset=".356" stop-color="#d6d6d6"/><stop offset=".359" stop-color="#cdcdcd"/><stop offset=".365" stop-color="#a6a6a6"/><stop offset=".368" stop-color="#a3a3a3"/><stop offset=".371" stop-color="#a9a9a9"/><stop offset=".376" stop-color="#d7d7d7"/><stop offset=".382" stop-color="#a7a7a7"/><stop offset=".385" stop-color="#a8a8a8"/><stop offset=".391" stop-color="#e4e4e4"/><stop offset=".394" stop-color="#e2e2e2"/><stop offset=".400" stop-color="#a8a8a8"/><stop offset=".403" stop-color="#a4a4a4"/><stop offset=".406" stop-color="#b1b1b1"/><stop offset=".409" stop-color="#d1d1d1"/><stop offset=".412" stop-color="#dddddd"/><stop offset=".487" stop-color="#c7c7c7"/><stop offset=".588" stop-color="#c7c7c7"/><stop offset=".635" stop-color="#cccccc"/><stop offset=".653" stop-color="#bebebe"/><stop offset=".662" stop-color="#a1a1a1"/><stop offset=".671" stop-color="#818181"/><stop offset=".689" stop-color="#6a6a6a"/><stop offset=".698" stop-color="#4a4a4a"/><stop offset=".707" stop-color="#1a1a1a"/><stop offset=".713" stop-color="#080808"/><stop offset=".716" stop-color="#0a0a0a"/><stop offset=".722" stop-color="#1f1f1f"/><stop offset=".731" stop-color="#4a4a4a"/><stop offset=".737" stop-color="#5b5b5b"/><stop offset=".749" stop-color="#616161"/><stop offset=".787" stop-color="#474747"/><stop offset=".817" stop-color="#383838"/><stop offset=".841" stop-color="#252525"/><stop offset=".900" stop-color="#050505"/><stop offset=".999" stop-color="#050505"/></linearGradient>
<linearGradient id="d43" gradientUnits="userSpaceOnUse" x1="36.20" x2="371.80" y1="0" y2="0"><stop offset=".001" stop-color="#050505"/><stop offset=".070" stop-color="#080808"/><stop offset=".091" stop-color="#242424"/><stop offset=".168" stop-color="#535353"/><stop offset=".186" stop-color="#424242"/><stop offset=".195" stop-color="#484848"/><stop offset=".219" stop-color="#6e6e6e"/><stop offset=".254" stop-color="#888888"/><stop offset=".269" stop-color="#a4a4a4"/><stop offset=".326" stop-color="#c9c9c9"/><stop offset=".359" stop-color="#d8d8d8"/><stop offset=".362" stop-color="#cdcdcd"/><stop offset=".365" stop-color="#b4b4b4"/><stop offset=".368" stop-color="#a5a5a5"/><stop offset=".371" stop-color="#a3a3a3"/><stop offset=".374" stop-color="#acacac"/><stop offset=".376" stop-color="#c5c5c5"/><stop offset=".379" stop-color="#c2c2c2"/><stop offset=".382" stop-color="#a8a8a8"/><stop offset=".385" stop-color="#a8a8a8"/><stop offset=".391" stop-color="#e4e4e4"/><stop offset=".394" stop-color="#dfdfdf"/><stop offset=".397" stop-color="#bdbdbd"/><stop offset=".400" stop-color="#a5a5a5"/><stop offset=".403" stop-color="#a4a4a4"/><stop offset=".406" stop-color="#b8b8b8"/><stop offset=".409" stop-color="#d8d8d8"/><stop offset=".412" stop-color="#dedede"/><stop offset=".478" stop-color="#c8c8c8"/><stop offset=".567" stop-color="#c5c5c5"/><stop offset=".635" stop-color="#c7c7c7"/><stop offset=".650" stop-color="#b9b9b9"/><stop offset=".659" stop-color="#a3a3a3"/><stop offset=".668" stop-color="#848484"/><stop offset=".692" stop-color="#676767"/><stop offset=".704" stop-color="#404040"/><stop offset=".710" stop-color="#2d2d2d"/><stop offset=".716" stop-color="#2a2a2a"/><stop offset=".725" stop-color="#414141"/><stop offset=".734" stop-color="#5a5a5a"/><stop offset=".746" stop-color="#616161"/><stop offset=".787" stop-color="#464646"/><stop offset=".817" stop-color="#323232"/><stop offset=".882" stop-color="#070707"/><stop offset=".999" stop-color="#050505"/></linearGradient>
<linearGradient id="d44" gradientUnits="userSpaceOnUse" x1="36.20" x2="371.80" y1="0" y2="0"><stop offset=".001" stop-color="#050505"/><stop offset=".073" stop-color="#070707"/><stop offset=".097" stop-color="#232323"/><stop offset=".162" stop-color="#4f4f4f"/><stop offset=".180" stop-color="#5c5c5c"/><stop offset=".210" stop-color="#6a6a6a"/><stop offset=".257" stop-color="#858585"/><stop offset=".272" stop-color="#a3a3a3"/><stop offset=".359" stop-color="#dbdbdb"/><stop offset=".362" stop-color="#dadada"/><stop offset=".365" stop-color="#cbcbcb"/><stop offset=".368" stop-color="#b1b1b1"/><stop offset=".371" stop-color="#a4a4a4"/><stop offset=".374" stop-color="#a4a4a4"/><stop offset=".379" stop-color="#bbbbbb"/><stop offset=".382" stop-color="#a8a8a8"/><stop offset=".385" stop-color="#a7a7a7"/><stop offset=".388" stop-color="#c2c2c2"/><stop offset=".391" stop-color="#e3e3e3"/><stop offset=".394" stop-color="#dadada"/><stop offset=".397" stop-color="#b5b5b5"/><stop offset=".400" stop-color="#a4a4a4"/><stop offset=".403" stop-color="#a6a6a6"/><stop offset=".409" stop-color="#dddddd"/><stop offset=".418" stop-color="#dcdcdc"/><stop offset=".478" stop-color="#c7c7c7"/><stop offset=".579" stop-color="#c3c3c3"/><stop offset=".635" stop-color="#c1c1c1"/><stop offset=".653" stop-color="#aaaaaa"/><stop offset=".668" stop-color="#808080"/><stop offset=".716" stop-color="#5a5a5a"/><stop offset=".743" stop-color="#626262"/><stop offset=".784" stop-color="#454545"/><stop offset=".868" stop-color="#080808"/><stop offset=".999" stop-color="#050505"/></linearGradient>
<linearGradient id="d45" gradientUnits="userSpaceOnUse" x1="36.20" x2="371.80" y1="0" y2="0"><stop offset=".001" stop-color="#050505"/><stop offset=".079" stop-color="#080808"/><stop offset=".109" stop-color="#272727"/><stop offset=".162" stop-color="#484848"/><stop offset=".183" stop-color="#616161"/><stop offset=".257" stop-color="#7f7f7f"/><stop offset=".266" stop-color="#8f8f8f"/><stop offset=".275" stop-color="#a1a1a1"/><stop offset=".362" stop-color="#dfdfdf"/><stop offset=".365" stop-color="#dcdcdc"/><stop offset=".368" stop-color="#c9c9c9"/><stop offset=".371" stop-color="#aeaeae"/><stop offset=".374" stop-color="#a4a4a4"/><stop offset=".376" stop-color="#a5a5a5"/><stop offset=".379" stop-color="#aeaeae"/><stop offset=".385" stop-color="#a6a6a6"/><stop offset=".388" stop-color="#bbbbbb"/><stop offset=".391" stop-color="#e1e1e1"/><stop offset=".394" stop-color="#d4d4d4"/><stop offset=".397" stop-color="#aeaeae"/><stop offset=".400" stop-color="#a4a4a4"/><stop offset=".403" stop-color="#aaaaaa"/><stop offset=".406" stop-color="#cbcbcb"/><stop offset=".409" stop-color="#e0e0e0"/><stop offset=".478" stop-color="#c6c6c6"/><stop offset=".629" stop-color="#bcbcbc"/><stop offset=".644" stop-color="#afafaf"/><stop offset=".659" stop-color="#929292"/><stop offset=".668" stop-color="#7d7d7d"/><stop offset=".716" stop-color="#676767"/><stop offset=".749" stop-color="#5e5e5e"/><stop offset=".775" stop-color="#464646"/><stop offset=".796" stop-color="#383838"/><stop offset=".853" stop-color="#0a0a0a"/><stop offset=".915" stop-color="#050505"/><stop offset=".999" stop-color="#050505"/></linearGradient>
<linearGradient id="d46" gradientUnits="userSpaceOnUse" x1="36.20" x2="371.80" y1="0" y2="0"><stop offset=".001" stop-color="#050505"/><stop offset=".085" stop-color="#090909"/><stop offset=".121" stop-color="#292929"/><stop offset=".165" stop-color="#444444"/><stop offset=".186" stop-color="#616161"/><stop offset=".263" stop-color="#7f7f7f"/><stop offset=".284" stop-color="#a4a4a4"/><stop offset=".365" stop-color="#e1e1e1"/><stop offset=".368" stop-color="#dcdcdc"/><stop offset=".374" stop-color="#ababab"/><stop offset=".376" stop-color="#a4a4a4"/><stop offset=".385" stop-color="#a5a5a5"/><stop offset=".388" stop-color="#b5b5b5"/><stop offset=".391" stop-color="#dcdcdc"/><stop offset=".394" stop-color="#cccccc"/><stop offset=".397" stop-color="#a9a9a9"/><stop offset=".400" stop-color="#a4a4a4"/><stop offset=".403" stop-color="#b0b0b0"/><stop offset=".406" stop-color="#d4d4d4"/><stop offset=".409" stop-color="#e2e2e2"/><stop offset=".472" stop-color="#c6c6c6"/><stop offset=".615" stop-color="#b9b9b9"/><stop offset=".638" stop-color="#adadad"/><stop offset=".659" stop-color="#8c8c8c"/><stop offset=".668" stop-color="#7b7b7b"/><stop offset=".716" stop-color="#676767"/><stop offset=".746" stop-color="#5e5e5e"/><stop offset=".769" stop-color="#464646"/><stop offset=".790" stop-color="#363636"/><stop offset=".829" stop-color="#121212"/><stop offset=".859" stop-color="#050505"/><stop offset=".999" stop-color="#050505"/></linearGradient>
<linearGradient id="d47" gradientUnits="userSpaceOnUse" x1="36.20" x2="371.80" y1="0" y2="0"><stop offset=".001" stop-color="#050505"/><stop offset=".091" stop-color="#080808"/><stop offset=".126" stop-color="#282828"/><stop offset=".168" stop-color="#404040"/><stop offset=".192" stop-color="#626262"/><stop offset=".269" stop-color="#7e7e7e"/><stop offset=".278" stop-color="#8e8e8e"/><stop offset=".287" stop-color="#a2a2a2"/><stop offset=".362" stop-color="#e2e2e2"/><stop offset=".368" stop-color="#e4e4e4"/><stop offset=".371" stop-color="#dcdcdc"/><stop offset=".376" stop-color="#a9a9a9"/><stop offset=".382" stop-color="#a3a3a3"/><stop offset=".385" stop-color="#a4a4a4"/><stop offset=".388" stop-color="#afafaf"/><stop offset=".391" stop-color="#d6d6d6"/><stop offset=".394" stop-color="#c2c2c2"/><stop offset=".397" stop-color="#a6a6a6"/><stop offset=".400" stop-color="#a5a5a5"/><stop offset=".403" stop-color="#b8b8b8"/><stop offset=".406" stop-color="#dbdbdb"/><stop offset=".409" stop-color="#e3e3e3"/><stop offset=".469" stop-color="#c6c6c6"/><stop offset=".606" stop-color="#b5b5b5"/><stop offset=".635" stop-color="#a7a7a7"/><stop offset=".671" stop-color="#777777"/><stop offset=".725" stop-color="#646464"/><stop offset=".746" stop-color="#5a5a5a"/><stop offset=".766" stop-color="#444444"/><stop offset=".793" stop-color="#282828"/><stop offset=".826" stop-color="#0c0c0c"/><stop offset=".865" stop-color="#050505"/><stop offset=".999" stop-color="#050505"/></linearGradient>
<linearGradient id="d48" gradientUnits="userSpaceOnUse" x1="36.20" x2="371.80" y1="0" y2="0"><stop offset=".001" stop-color="#050505"/><stop offset=".097" stop-color="#070707"/><stop offset=".135" stop-color="#272727"/><stop offset=".174" stop-color="#3f3f3f"/><stop offset=".195" stop-color="#606060"/><stop offset=".275" stop-color="#7d7d7d"/><stop offset=".284" stop-color="#909090"/><stop offset=".293" stop-color="#a2a2a2"/><stop offset=".362" stop-color="#e3e3e3"/><stop offset=".371" stop-color="#e5e5e5"/><stop offset=".374" stop-color="#dadada"/><stop offset=".379" stop-color="#a6a6a6"/><stop offset=".385" stop-color="#a2a2a2"/><stop offset=".388" stop-color="#aaaaaa"/><stop offset=".391" stop-color="#cccccc"/><stop offset=".397" stop-color="#a5a5a5"/><stop offset=".400" stop-color="#a6a6a6"/><stop offset=".406" stop-color="#e0e0e0"/><stop offset=".412" stop-color="#e2e2e2"/><stop offset=".466" stop-color="#c6c6c6"/><stop offset=".612" stop-color="#adadad"/><stop offset=".635" stop-color="#9e9e9e"/><stop offset=".668" stop-color="#777777"/><stop offset=".719" stop-color="#636363"/><stop offset=".740" stop-color="#5a5a5a"/><stop offset=".808" stop-color="#0f0f0f"/><stop offset=".841" stop-color="#050505"/><stop offset=".999" stop-color="#050505"/></linearGradient>
<linearGradient id="d49" gradientUnits="userSpaceOnUse" x1="36.20" x2="371.80" y1="0" y2="0"><stop offset=".001" stop-color="#050505"/><stop offset=".106" stop-color="#080808"/><stop offset=".150" stop-color="#292929"/><stop offset=".180" stop-color="#3e3e3e"/><stop offset=".198" stop-color="#5d5d5d"/><stop offset=".281" stop-color="#7d7d7d"/><stop offset=".299" stop-color="#a4a4a4"/><stop offset=".365" stop-color="#e4e4e4"/><stop offset=".374" stop-color="#e7e7e7"/><stop offset=".376" stop-color="#d3d3d3"/><stop offset=".379" stop-color="#afafaf"/><stop offset=".382" stop-color="#a2a2a2"/><stop offset=".388" stop-color="#a5a5a5"/><stop offset=".391" stop-color="#c0c0c0"/><stop offset=".397" stop-color="#a4a4a4"/><stop offset=".400" stop-color="#aaaaaa"/><stop offset=".403" stop-color="#cccccc"/><stop offset=".406" stop-color="#e4e4e4"/><stop offset=".472" stop-color="#c3c3c3"/><stop offset=".618" stop-color="#a3a3a3"/><stop offset=".644" stop-color="#8d8d8d"/><stop offset=".665" stop-color="#767676"/><stop offset=".719" stop-color="#626262"/><stop offset=".737" stop-color="#555555"/><stop offset=".799" stop-color="#0d0d0d"/><stop offset=".832" stop-color="#050505"/><stop offset=".999" stop-color="#050505"/></linearGradient>
<linearGradient id="d50" gradientUnits="userSpaceOnUse" x1="36.20" x2="371.80" y1="0" y2="0"><stop offset=".001" stop-color="#050505"/><stop offset=".112" stop-color="#070707"/><stop offset=".186" stop-color="#3d3d3d"/><stop offset=".207" stop-color="#5d5d5d"/><stop offset=".284" stop-color="#7b7b7b"/><stop offset=".293" stop-color="#8c8c8c"/><stop offset=".302" stop-color="#a2a2a2"/><stop offset=".365" stop-color="#e4e4e4"/><stop offset=".374" stop-color="#e9e9e9"/><stop offset=".376" stop-color="#e2e2e2"/><stop offset=".382" stop-color="#a4a4a4"/><stop offset=".388" stop-color="#a2a2a2"/><stop offset=".391" stop-color="#b5b5b5"/><stop offset=".397" stop-color="#a5a5a5"/><stop offset=".400" stop-color="#b0b0b0"/><stop offset=".403" stop-color="#d5d5d5"/><stop offset=".406" stop-color="#e6e6e6"/><stop offset=".463" stop-color="#c5c5c5"/><stop offset=".564" stop-color="#ababab"/><stop offset=".618" stop-color="#9b9b9b"/><stop offset=".644" stop-color="#878787"/><stop offset=".665" stop-color="#727272"/><stop offset=".725" stop-color="#5a5a5a"/><stop offset=".787" stop-color="#0f0f0f"/><stop offset=".811" stop-color="#050505"/><stop offset=".999" stop-color="#050505"/></linearGradient>
<linearGradient id="d51" gradientUnits="userSpaceOnUse" x1="36.20" x2="371.80" y1="0" y2="0"><stop offset=".001" stop-color="#050505"/><stop offset=".124" stop-color="#080808"/><stop offset=".192" stop-color="#3b3b3b"/><stop offset=".216" stop-color="#5c5c5c"/><stop offset=".287" stop-color="#797979"/><stop offset=".296" stop-color="#878787"/><stop offset=".308" stop-color="#a3a3a3"/><stop offset=".365" stop-color="#e4e4e4"/><stop offset=".376" stop-color="#eaeaea"/><stop offset=".379" stop-color="#d9d9d9"/><stop offset=".382" stop-color="#b4b4b4"/><stop offset=".385" stop-color="#a6a6a6"/><stop offset=".388" stop-color="#a6a6a6"/><stop offset=".391" stop-color="#b5b5b5"/><stop offset=".394" stop-color="#cbcbcb"/><stop offset=".397" stop-color="#c5c5c5"/><stop offset=".400" stop-color="#d0d0d0"/><stop offset=".403" stop-color="#e4e4e4"/><stop offset=".406" stop-color="#e8e8e8"/><stop offset=".457" stop-color="#c6c6c6"/><stop offset=".543" stop-color="#a8a8a8"/><stop offset=".618" stop-color="#929292"/><stop offset=".647" stop-color="#7c7c7c"/><stop offset=".674" stop-color="#6b6b6b"/><stop offset=".716" stop-color="#595959"/><stop offset=".778" stop-color="#0e0e0e"/><stop offset=".805" stop-color="#050505"/><stop offset=".999" stop-color="#050505"/></linearGradient>
<linearGradient id="d52" gradientUnits="userSpaceOnUse" x1="36.20" x2="371.80" y1="0" y2="0"><stop offset=".001" stop-color="#050505"/><stop offset=".132" stop-color="#080808"/><stop offset=".201" stop-color="#3b3b3b"/><stop offset=".225" stop-color="#5b5b5b"/><stop offset=".290" stop-color="#787878"/><stop offset=".299" stop-color="#838383"/><stop offset=".311" stop-color="#a1a1a1"/><stop offset=".356" stop-color="#d9d9d9"/><stop offset=".376" stop-color="#ebebeb"/><stop offset=".379" stop-color="#e8e8e8"/><stop offset=".385" stop-color="#b8b8b8"/><stop offset=".388" stop-color="#b5b5b5"/><stop offset=".391" stop-color="#c6c6c6"/><stop offset=".394" stop-color="#e5e5e5"/><stop offset=".403" stop-color="#ebebeb"/><stop offset=".457" stop-color="#c5c5c5"/><stop offset=".528" stop-color="#a6a6a6"/><stop offset=".618" stop-color="#8a8a8a"/><stop offset=".668" stop-color="#696969"/><stop offset=".704" stop-color="#5b5b5b"/><stop offset=".769" stop-color="#0d0d0d"/><stop offset=".796" stop-color="#050505"/><stop offset=".999" stop-color="#050505"/></linearGradient>
<linearGradient id="d53" gradientUnits="userSpaceOnUse" x1="36.20" x2="371.80" y1="0" y2="0"><stop offset=".001" stop-color="#050505"/><stop offset=".144" stop-color="#080808"/><stop offset=".204" stop-color="#353535"/><stop offset=".240" stop-color="#5d5d5d"/><stop offset=".296" stop-color="#787878"/><stop offset=".305" stop-color="#868686"/><stop offset=".317" stop-color="#a3a3a3"/><stop offset=".356" stop-color="#d7d7d7"/><stop offset=".371" stop-color="#e7e7e7"/><stop offset=".379" stop-color="#ededed"/><stop offset=".382" stop-color="#e8e8e8"/><stop offset=".385" stop-color="#dcdcdc"/><stop offset=".388" stop-color="#dadada"/><stop offset=".394" stop-color="#f0f0f0"/><stop offset=".460" stop-color="#c2c2c2"/><stop offset=".516" stop-color="#a3a3a3"/><stop offset=".618" stop-color="#818181"/><stop offset=".671" stop-color="#646464"/><stop offset=".695" stop-color="#595959"/><stop offset=".760" stop-color="#0d0d0d"/><stop offset=".787" stop-color="#050505"/><stop offset=".999" stop-color="#050505"/></linearGradient>
<linearGradient id="d54" gradientUnits="userSpaceOnUse" x1="36.20" x2="371.80" y1="0" y2="0"><stop offset=".001" stop-color="#050505"/><stop offset=".156" stop-color="#080808"/><stop offset=".198" stop-color="#282828"/><stop offset=".251" stop-color="#5d5d5d"/><stop offset=".302" stop-color="#797979"/><stop offset=".311" stop-color="#8b8b8b"/><stop offset=".320" stop-color="#a2a2a2"/><stop offset=".353" stop-color="#cfcfcf"/><stop offset=".365" stop-color="#e2e2e2"/><stop offset=".391" stop-color="#f5f5f5"/><stop offset=".481" stop-color="#afafaf"/><stop offset=".540" stop-color="#929292"/><stop offset=".615" stop-color="#797979"/><stop offset=".692" stop-color="#515151"/><stop offset=".751" stop-color="#0c0c0c"/><stop offset=".781" stop-color="#050505"/><stop offset=".999" stop-color="#050505"/></linearGradient>
<linearGradient id="d55" gradientUnits="userSpaceOnUse" x1="36.20" x2="371.80" y1="0" y2="0"><stop offset=".001" stop-color="#050505"/><stop offset=".168" stop-color="#080808"/><stop offset=".210" stop-color="#292929"/><stop offset=".263" stop-color="#5d5d5d"/><stop offset=".305" stop-color="#787878"/><stop offset=".314" stop-color="#8b8b8b"/><stop offset=".326" stop-color="#a5a5a5"/><stop offset=".353" stop-color="#cccccc"/><stop offset=".368" stop-color="#e4e4e4"/><stop offset=".391" stop-color="#f6f6f6"/><stop offset=".433" stop-color="#d1d1d1"/><stop offset=".493" stop-color="#a4a4a4"/><stop offset=".525" stop-color="#8e8e8e"/><stop offset=".621" stop-color="#6a6a6a"/><stop offset=".686" stop-color="#494949"/><stop offset=".743" stop-color="#0b0b0b"/><stop offset=".778" stop-color="#050505"/><stop offset=".999" stop-color="#050505"/></linearGradient>
<linearGradient id="d56" gradientUnits="userSpaceOnUse" x1="36.20" x2="371.80" y1="0" y2="0"><stop offset=".001" stop-color="#050505"/><stop offset=".180" stop-color="#080808"/><stop offset=".213" stop-color="#232323"/><stop offset=".281" stop-color="#646464"/><stop offset=".308" stop-color="#787878"/><stop offset=".329" stop-color="#a5a5a5"/><stop offset=".353" stop-color="#c9c9c9"/><stop offset=".368" stop-color="#e4e4e4"/><stop offset=".391" stop-color="#f7f7f7"/><stop offset=".427" stop-color="#d6d6d6"/><stop offset=".484" stop-color="#a4a4a4"/><stop offset=".525" stop-color="#848484"/><stop offset=".644" stop-color="#545454"/><stop offset=".689" stop-color="#373737"/><stop offset=".731" stop-color="#0d0d0d"/><stop offset=".760" stop-color="#050505"/><stop offset=".999" stop-color="#050505"/></linearGradient>
<linearGradient id="d57" gradientUnits="userSpaceOnUse" x1="36.20" x2="371.80" y1="0" y2="0"><stop offset=".001" stop-color="#050505"/><stop offset=".189" stop-color="#080808"/><stop offset=".213" stop-color="#191919"/><stop offset=".287" stop-color="#626262"/><stop offset=".311" stop-color="#787878"/><stop offset=".332" stop-color="#a5a5a5"/><stop offset=".353" stop-color="#c6c6c6"/><stop offset=".368" stop-color="#e3e3e3"/><stop offset=".391" stop-color="#f8f8f8"/><stop offset=".424" stop-color="#d9d9d9"/><stop offset=".481" stop-color="#a1a1a1"/><stop offset=".525" stop-color="#797979"/><stop offset=".656" stop-color="#424242"/><stop offset=".701" stop-color="#1b1b1b"/><stop offset=".734" stop-color="#060606"/><stop offset=".999" stop-color="#050505"/></linearGradient>
<linearGradient id="d58" gradientUnits="userSpaceOnUse" x1="36.20" x2="371.80" y1="0" y2="0"><stop offset=".001" stop-color="#050505"/><stop offset=".201" stop-color="#080808"/><stop offset=".225" stop-color="#1d1d1d"/><stop offset=".314" stop-color="#787878"/><stop offset=".335" stop-color="#a5a5a5"/><stop offset=".356" stop-color="#c9c9c9"/><stop offset=".368" stop-color="#e2e2e2"/><stop offset=".391" stop-color="#f8f8f8"/><stop offset=".421" stop-color="#dcdcdc"/><stop offset=".475" stop-color="#9f9f9f"/><stop offset=".525" stop-color="#6f6f6f"/><stop offset=".653" stop-color="#373737"/><stop offset=".716" stop-color="#080808"/><stop offset=".999" stop-color="#050505"/></linearGradient>
<linearGradient id="d59" gradientUnits="userSpaceOnUse" x1="36.20" x2="371.80" y1="0" y2="0"><stop offset=".001" stop-color="#050505"/><stop offset=".210" stop-color="#070707"/><stop offset=".237" stop-color="#212121"/><stop offset=".314" stop-color="#747474"/><stop offset=".341" stop-color="#aaaaaa"/><stop offset=".359" stop-color="#cdcdcd"/><stop offset=".368" stop-color="#e2e2e2"/><stop offset=".391" stop-color="#f9f9f9"/><stop offset=".421" stop-color="#dadada"/><stop offset=".448" stop-color="#b9b9b9"/><stop offset=".499" stop-color="#7e7e7e"/><stop offset=".531" stop-color="#636363"/><stop offset=".641" stop-color="#313131"/><stop offset=".707" stop-color="#070707"/><stop offset=".999" stop-color="#050505"/></linearGradient>
<linearGradient id="d60" gradientUnits="userSpaceOnUse" x1="36.20" x2="371.80" y1="0" y2="0"><stop offset=".001" stop-color="#050505"/><stop offset=".219" stop-color="#070707"/><stop offset=".240" stop-color="#1b1b1b"/><stop offset=".302" stop-color="#616161"/><stop offset=".323" stop-color="#7f7f7f"/><stop offset=".344" stop-color="#aaaaaa"/><stop offset=".359" stop-color="#c9c9c9"/><stop offset=".368" stop-color="#e1e1e1"/><stop offset=".391" stop-color="#f9f9f9"/><stop offset=".418" stop-color="#dedede"/><stop offset=".436" stop-color="#c2c2c2"/><stop offset=".463" stop-color="#a2a2a2"/><stop offset=".484" stop-color="#848484"/><stop offset=".531" stop-color="#5a5a5a"/><stop offset=".612" stop-color="#343434"/><stop offset=".695" stop-color="#070707"/><stop offset=".999" stop-color="#050505"/></linearGradient>
<linearGradient id="d61" gradientUnits="userSpaceOnUse" x1="36.20" x2="371.80" y1="0" y2="0"><stop offset=".001" stop-color="#050505"/><stop offset=".228" stop-color="#080808"/><stop offset=".243" stop-color="#161616"/><stop offset=".266" stop-color="#303030"/><stop offset=".302" stop-color="#5b5b5b"/><stop offset=".326" stop-color="#808080"/><stop offset=".359" stop-color="#c5c5c5"/><stop offset=".371" stop-color="#e4e4e4"/><stop offset=".391" stop-color="#fafafa"/><stop offset=".418" stop-color="#dddddd"/><stop offset=".436" stop-color="#bebebe"/><stop offset=".463" stop-color="#9d9d9d"/><stop offset=".478" stop-color="#818181"/><stop offset=".528" stop-color="#535353"/><stop offset=".603" stop-color="#2e2e2e"/><stop offset=".680" stop-color="#070707"/><stop offset=".999" stop-color="#050505"/></linearGradient>
<linearGradient id="d62" gradientUnits="userSpaceOnUse" x1="36.20" x2="371.80" y1="0" y2="0"><stop offset=".001" stop-color="#050505"/><stop offset=".237" stop-color="#080808"/><stop offset=".299" stop-color="#4f4f4f"/><stop offset=".329" stop-color="#818181"/><stop offset=".359" stop-color="#c1c1c1"/><stop offset=".371" stop-color="#e3e3e3"/><stop offset=".391" stop-color="#fbfbfb"/><stop offset=".418" stop-color="#dcdcdc"/><stop offset=".436" stop-color="#bababa"/><stop offset=".460" stop-color="#9e9e9e"/><stop offset=".478" stop-color="#797979"/><stop offset=".528" stop-color="#4c4c4c"/><stop offset=".600" stop-color="#252525"/><stop offset=".647" stop-color="#0c0c0c"/><stop offset=".701" stop-color="#050505"/><stop offset=".999" stop-color="#050505"/></linearGradient>
<linearGradient id="d63" gradientUnits="userSpaceOnUse" x1="36.20" x2="371.80" y1="0" y2="0"><stop offset=".001" stop-color="#050505"/><stop offset=".243" stop-color="#080808"/><stop offset=".296" stop-color="#434343"/><stop offset=".332" stop-color="#828282"/><stop offset=".362" stop-color="#c5c5c5"/><stop offset=".371" stop-color="#e2e2e2"/><stop offset=".391" stop-color="#fbfbfb"/><stop offset=".418" stop-color="#dadada"/><stop offset=".433" stop-color="#bbbbbb"/><stop offset=".457" stop-color="#9f9f9f"/><stop offset=".478" stop-color="#737373"/><stop offset=".528" stop-color="#454545"/><stop offset=".594" stop-color="#1e1e1e"/><stop offset=".624" stop-color="#0c0c0c"/><stop offset=".689" stop-color="#050505"/><stop offset=".999" stop-color="#050505"/></linearGradient>
<linearGradient id="d64" gradientUnits="userSpaceOnUse" x1="36.20" x2="371.80" y1="0" y2="0"><stop offset=".001" stop-color="#050505"/><stop offset=".249" stop-color="#080808"/><stop offset=".293" stop-color="#363636"/><stop offset=".335" stop-color="#848484"/><stop offset=".362" stop-color="#c0c0c0"/><stop offset=".371" stop-color="#e1e1e1"/><stop offset=".388" stop-color="#fbfbfb"/><stop offset=".397" stop-color="#f7f7f7"/><stop offset=".418" stop-color="#d8d8d8"/><stop offset=".433" stop-color="#b9b9b9"/><stop offset=".457" stop-color="#999999"/><stop offset=".481" stop-color="#686868"/><stop offset=".531" stop-color="#3c3c3c"/><stop offset=".588" stop-color="#181818"/><stop offset=".618" stop-color="#080808"/><stop offset=".999" stop-color="#050505"/></linearGradient>
<linearGradient id="d65" gradientUnits="userSpaceOnUse" x1="36.20" x2="371.80" y1="0" y2="0"><stop offset=".001" stop-color="#050505"/><stop offset=".257" stop-color="#080808"/><stop offset=".287" stop-color="#272727"/><stop offset=".311" stop-color="#4c4c4c"/><stop offset=".362" stop-color="#bbbbbb"/><stop offset=".371" stop-color="#dfdfdf"/><stop offset=".388" stop-color="#fbfbfb"/><stop offset=".397" stop-color="#f7f7f7"/><stop offset=".415" stop-color="#dddddd"/><stop offset=".430" stop-color="#bbbbbb"/><stop offset=".454" stop-color="#9b9b9b"/><stop offset=".481" stop-color="#626262"/><stop offset=".528" stop-color="#363636"/><stop offset=".606" stop-color="#070707"/><stop offset=".999" stop-color="#050505"/></linearGradient>
<linearGradient id="d66" gradientUnits="userSpaceOnUse" x1="36.20" x2="371.80" y1="0" y2="0"><stop offset=".001" stop-color="#050505"/><stop offset=".263" stop-color="#070707"/><stop offset=".284" stop-color="#1a1a1a"/><stop offset=".314" stop-color="#4a4a4a"/><stop offset=".365" stop-color="#bfbfbf"/><stop offset=".371" stop-color="#dcdcdc"/><stop offset=".382" stop-color="#f5f5f5"/><stop offset=".391" stop-color="#fdfdfd"/><stop offset=".412" stop-color="#e2e2e2"/><stop offset=".430" stop-color="#b8b8b8"/><stop offset=".451" stop-color="#9c9c9c"/><stop offset=".481" stop-color="#5c5c5c"/><stop offset=".513" stop-color="#3a3a3a"/><stop offset=".591" stop-color="#070707"/><stop offset=".999" stop-color="#050505"/></linearGradient>
<linearGradient id="d67" gradientUnits="userSpaceOnUse" x1="36.20" x2="371.80" y1="0" y2="0"><stop offset=".001" stop-color="#050505"/><stop offset=".272" stop-color="#070707"/><stop offset=".290" stop-color="#181818"/><stop offset=".314" stop-color="#434343"/><stop offset=".365" stop-color="#bbbbbb"/><stop offset=".374" stop-color="#e4e4e4"/><stop offset=".388" stop-color="#fdfdfd"/><stop offset=".397" stop-color="#f9f9f9"/><stop offset=".415" stop-color="#dadada"/><stop offset=".427" stop-color="#bbbbbb"/><stop offset=".451" stop-color="#969696"/><stop offset=".481" stop-color="#565656"/><stop offset=".510" stop-color="#353535"/><stop offset=".576" stop-color="#080808"/><stop offset=".999" stop-color="#050505"/></linearGradient>
<linearGradient id="d68" gradientUnits="userSpaceOnUse" x1="36.20" x2="371.80" y1="0" y2="0"><stop offset=".001" stop-color="#050505"/><stop offset=".281" stop-color="#080808"/><stop offset=".293" stop-color="#141414"/><stop offset=".317" stop-color="#444444"/><stop offset=".365" stop-color="#b7b7b7"/><stop offset=".374" stop-color="#e3e3e3"/><stop offset=".385" stop-color="#fafafa"/><stop offset=".394" stop-color="#fcfcfc"/><stop offset=".412" stop-color="#e1e1e1"/><stop offset=".424" stop-color="#bebebe"/><stop offset=".448" stop-color="#989898"/><stop offset=".475" stop-color="#5c5c5c"/><stop offset=".493" stop-color="#3e3e3e"/><stop offset=".555" stop-color="#0b0b0b"/><stop offset=".600" stop-color="#050505"/><stop offset=".999" stop-color="#050505"/></linearGradient>
<linearGradient id="d69" gradientUnits="userSpaceOnUse" x1="36.20" x2="371.80" y1="0" y2="0"><stop offset=".001" stop-color="#050505"/><stop offset=".287" stop-color="#070707"/><stop offset=".296" stop-color="#111111"/><stop offset=".323" stop-color="#4d4d4d"/><stop offset=".365" stop-color="#b4b4b4"/><stop offset=".368" stop-color="#c1c1c1"/><stop offset=".374" stop-color="#e3e3e3"/><stop offset=".385" stop-color="#fbfbfb"/><stop offset=".394" stop-color="#fdfdfd"/><stop offset=".412" stop-color="#e1e1e1"/><stop offset=".424" stop-color="#bbbbbb"/><stop offset=".445" stop-color="#999999"/><stop offset=".475" stop-color="#565656"/><stop offset=".496" stop-color="#333333"/><stop offset=".546" stop-color="#090909"/><stop offset=".638" stop-color="#050505"/><stop offset=".999" stop-color="#050505"/></linearGradient>
<linearGradient id="d70" gradientUnits="userSpaceOnUse" x1="36.20" x2="371.80" y1="0" y2="0"><stop offset=".001" stop-color="#050505"/><stop offset=".293" stop-color="#080808"/><stop offset=".314" stop-color="#303030"/><stop offset=".362" stop-color="#a8a8a8"/><stop offset=".368" stop-color="#bfbfbf"/><stop offset=".371" stop-color="#d5d5d5"/><stop offset=".374" stop-color="#e4e4e4"/><stop offset=".385" stop-color="#fbfbfb"/><stop offset=".394" stop-color="#fdfdfd"/><stop offset=".412" stop-color="#e2e2e2"/><stop offset=".421" stop-color="#bfbfbf"/><stop offset=".445" stop-color="#939393"/><stop offset=".472" stop-color="#555555"/><stop offset=".496" stop-color="#2a2a2a"/><stop offset=".531" stop-color="#0b0b0b"/><stop offset=".576" stop-color="#050505"/><stop offset=".999" stop-color="#050505"/></linearGradient>
<linearGradient id="d71" gradientUnits="userSpaceOnUse" x1="36.20" x2="371.80" y1="0" y2="0"><stop offset=".001" stop-color="#050505"/><stop offset=".296" stop-color="#070707"/><stop offset=".308" stop-color="#1c1c1c"/><stop offset=".332" stop-color="#595959"/><stop offset=".362" stop-color="#a3a3a3"/><stop offset=".368" stop-color="#bcbcbc"/><stop offset=".371" stop-color="#d3d3d3"/><stop offset=".374" stop-color="#e4e4e4"/><stop offset=".385" stop-color="#fcfcfc"/><stop offset=".394" stop-color="#fefefe"/><stop offset=".412" stop-color="#e2e2e2"/><stop offset=".421" stop-color="#bcbcbc"/><stop offset=".442" stop-color="#949494"/><stop offset=".469" stop-color="#555555"/><stop offset=".501" stop-color="#181818"/><stop offset=".531" stop-color="#060606"/><stop offset=".999" stop-color="#050505"/></linearGradient>
<linearGradient id="d72" gradientUnits="userSpaceOnUse" x1="36.20" x2="371.80" y1="0" y2="0"><stop offset=".001" stop-color="#050505"/><stop offset=".299" stop-color="#070707"/><stop offset=".311" stop-color="#1a1a1a"/><stop offset=".347" stop-color="#777777"/><stop offset=".362" stop-color="#9e9e9e"/><stop offset=".368" stop-color="#b9b9b9"/><stop offset=".374" stop-color="#e3e3e3"/><stop offset=".382" stop-color="#f8f8f8"/><stop offset=".391" stop-color="#ffffff"/><stop offset=".403" stop-color="#f3f3f3"/><stop offset=".412" stop-color="#e1e1e1"/><stop offset=".418" stop-color="#c2c2c2"/><stop offset=".427" stop-color="#afafaf"/><stop offset=".439" stop-color="#979797"/><stop offset=".466" stop-color="#545454"/><stop offset=".501" stop-color="#0f0f0f"/><stop offset=".528" stop-color="#050505"/><stop offset=".999" stop-color="#050505"/></linearGradient>
<linearGradient id="d73" gradientUnits="userSpaceOnUse" x1="36.20" x2="371.80" y1="0" y2="0"><stop offset=".001" stop-color="#050505"/><stop offset=".302" stop-color="#060606"/><stop offset=".314" stop-color="#191919"/><stop offset=".347" stop-color="#727272"/><stop offset=".362" stop-color="#9a9a9a"/><stop offset=".368" stop-color="#b5b5b5"/><stop offset=".374" stop-color="#e2e2e2"/><stop offset=".382" stop-color="#f9f9f9"/><stop offset=".394" stop-color="#fefefe"/><stop offset=".409" stop-color="#e8e8e8"/><stop offset=".412" stop-color="#e0e0e0"/><stop offset=".418" stop-color="#bebebe"/><stop offset=".439" stop-color="#939393"/><stop offset=".463" stop-color="#545454"/><stop offset=".496" stop-color="#101010"/><stop offset=".507" stop-color="#060606"/><stop offset=".999" stop-color="#050505"/></linearGradient>
<linearGradient id="d74" gradientUnits="userSpaceOnUse" x1="36.20" x2="371.80" y1="0" y2="0"><stop offset=".001" stop-color="#050505"/><stop offset=".308" stop-color="#080808"/><stop offset=".317" stop-color="#191919"/><stop offset=".347" stop-color="#6e6e6e"/><stop offset=".365" stop-color="#a2a2a2"/><stop offset=".368" stop-color="#b1b1b1"/><stop offset=".374" stop-color="#e0e0e0"/><stop offset=".379" stop-color="#f3f3f3"/><stop offset=".388" stop-color="#fefefe"/><stop offset=".400" stop-color="#f8f8f8"/><stop offset=".409" stop-color="#e7e7e7"/><stop offset=".412" stop-color="#dddddd"/><stop offset=".418" stop-color="#bbbbbb"/><stop offset=".436" stop-color="#979797"/><stop offset=".460" stop-color="#555555"/><stop offset=".490" stop-color="#121212"/><stop offset=".504" stop-color="#050505"/><stop offset=".999" stop-color="#050505"/></linearGradient>
<linearGradient id="d75" gradientUnits="userSpaceOnUse" x1="36.20" x2="371.80" y1="0" y2="0"><stop offset=".001" stop-color="#050505"/><stop offset=".311" stop-color="#080808"/><stop offset=".320" stop-color="#1d1d1d"/><stop offset=".362" stop-color="#959595"/><stop offset=".368" stop-color="#aeaeae"/><stop offset=".374" stop-color="#dedede"/><stop offset=".376" stop-color="#ececec"/><stop offset=".385" stop-color="#fdfdfd"/><stop offset=".397" stop-color="#fcfcfc"/><stop offset=".409" stop-color="#e4e4e4"/><stop offset=".415" stop-color="#c1c1c1"/><stop offset=".421" stop-color="#b1b1b1"/><stop offset=".433" stop-color="#9b9b9b"/><stop offset=".460" stop-color="#505050"/><stop offset=".481" stop-color="#191919"/><stop offset=".496" stop-color="#060606"/><stop offset=".999" stop-color="#050505"/></linearGradient>
<linearGradient id="d76" gradientUnits="userSpaceOnUse" x1="36.20" x2="371.80" y1="0" y2="0"><stop offset=".001" stop-color="#050505"/><stop offset=".311" stop-color="#060606"/><stop offset=".320" stop-color="#181818"/><stop offset=".365" stop-color="#9c9c9c"/><stop offset=".368" stop-color="#aaaaaa"/><stop offset=".371" stop-color="#bebebe"/><stop offset=".374" stop-color="#dbdbdb"/><stop offset=".376" stop-color="#ebebeb"/><stop offset=".385" stop-color="#fdfdfd"/><stop offset=".397" stop-color="#fcfcfc"/><stop offset=".406" stop-color="#ebebeb"/><stop offset=".409" stop-color="#e0e0e0"/><stop offset=".415" stop-color="#bbbbbb"/><stop offset=".433" stop-color="#969696"/><stop offset=".469" stop-color="#2f2f2f"/><stop offset=".478" stop-color="#151515"/><stop offset=".490" stop-color="#070707"/><stop offset=".999" stop-color="#050505"/></linearGradient>
<linearGradient id="d77" gradientUnits="userSpaceOnUse" x1="36.20" x2="371.80" y1="0" y2="0"><stop offset=".001" stop-color="#050505"/><stop offset=".314" stop-color="#070707"/><stop offset=".323" stop-color="#1d1d1d"/><stop offset=".365" stop-color="#9a9a9a"/><stop offset=".368" stop-color="#a6a6a6"/><stop offset=".371" stop-color="#b9b9b9"/><stop offset=".374" stop-color="#d5d5d5"/><stop offset=".376" stop-color="#e9e9e9"/><stop offset=".382" stop-color="#fafafa"/><stop offset=".394" stop-color="#fefefe"/><stop offset=".403" stop-color="#f3f3f3"/><stop offset=".406" stop-color="#eaeaea"/><stop offset=".409" stop-color="#dbdbdb"/><stop offset=".412" stop-color="#c4c4c4"/><stop offset=".415" stop-color="#b7b7b7"/><stop offset=".430" stop-color="#9b9b9b"/><stop offset=".466" stop-color="#323232"/><stop offset=".475" stop-color="#131313"/><stop offset=".487" stop-color="#060606"/><stop offset=".999" stop-color="#050505"/></linearGradient>
<linearGradient id="d78" gradientUnits="userSpaceOnUse" x1="36.20" x2="371.80" y1="0" y2="0"><stop offset=".001" stop-color="#050505"/><stop offset=".314" stop-color="#060606"/><stop offset=".323" stop-color="#181818"/><stop offset=".365" stop-color="#979797"/><stop offset=".371" stop-color="#b5b5b5"/><stop offset=".376" stop-color="#e7e7e7"/><stop offset=".379" stop-color="#f4f4f4"/><stop offset=".388" stop-color="#ffffff"/><stop offset=".400" stop-color="#f9f9f9"/><stop offset=".406" stop-color="#e9e9e9"/><stop offset=".412" stop-color="#c0c0c0"/><stop offset=".418" stop-color="#b0b0b0"/><stop offset=".430" stop-color="#969696"/><stop offset=".466" stop-color="#292929"/><stop offset=".475" stop-color="#0d0d0d"/><stop offset=".487" stop-color="#050505"/><stop offset=".999" stop-color="#050505"/></linearGradient>
<linearGradient id="d79" gradientUnits="userSpaceOnUse" x1="36.20" x2="371.80" y1="0" y2="0"><stop offset=".001" stop-color="#050505"/><stop offset=".317" stop-color="#070707"/><stop offset=".326" stop-color="#1d1d1d"/><stop offset=".365" stop-color="#949494"/><stop offset=".371" stop-color="#b0b0b0"/><stop offset=".376" stop-color="#e5e5e5"/><stop offset=".379" stop-color="#f4f4f4"/><stop offset=".388" stop-color="#ffffff"/><stop offset=".400" stop-color="#f9f9f9"/><stop offset=".406" stop-color="#e7e7e7"/><stop offset=".412" stop-color="#bebebe"/><stop offset=".421" stop-color="#a8a8a8"/><stop offset=".436" stop-color="#7e7e7e"/><stop offset=".463" stop-color="#2b2b2b"/><stop offset=".472" stop-color="#0e0e0e"/><stop offset=".481" stop-color="#050505"/><stop offset=".999" stop-color="#050505"/></linearGradient>
<linearGradient id="d80" gradientUnits="userSpaceOnUse" x1="36.20" x2="371.80" y1="0" y2="0"><stop offset=".001" stop-color="#050505"/><stop offset=".317" stop-color="#060606"/><stop offset=".326" stop-color="#181818"/><stop offset=".365" stop-color="#919191"/><stop offset=".371" stop-color="#acacac"/><stop offset=".376" stop-color="#e3e3e3"/><stop offset=".379" stop-color="#f4f4f4"/><stop offset=".388" stop-color="#ffffff"/><stop offset=".400" stop-color="#f9f9f9"/><stop offset=".403" stop-color="#f3f3f3"/><stop offset=".406" stop-color="#e5e5e5"/><stop offset=".412" stop-color="#bbbbbb"/><stop offset=".430" stop-color="#8c8c8c"/><stop offset=".463" stop-color="#232323"/><stop offset=".472" stop-color="#0a0a0a"/><stop offset=".490" stop-color="#050505"/><stop offset=".999" stop-color="#050505"/></linearGradient>
<linearGradient id="d81" gradientUnits="userSpaceOnUse" x1="36.20" x2="371.80" y1="0" y2="0"><stop offset=".001" stop-color="#050505"/><stop offset=".320" stop-color="#070707"/><stop offset=".329" stop-color="#1d1d1d"/><stop offset=".365" stop-color="#8e8e8e"/><stop offset=".371" stop-color="#a8a8a8"/><stop offset=".374" stop-color="#bebebe"/><stop offset=".376" stop-color="#e0e0e0"/><stop offset=".379" stop-color="#f4f4f4"/><stop offset=".385" stop-color="#fefefe"/><stop offset=".397" stop-color="#fdfdfd"/><stop offset=".403" stop-color="#f3f3f3"/><stop offset=".406" stop-color="#e4e4e4"/><stop offset=".409" stop-color="#cacaca"/><stop offset=".412" stop-color="#b8b8b8"/><stop offset=".430" stop-color="#878787"/><stop offset=".466" stop-color="#121212"/><stop offset=".475" stop-color="#050505"/><stop offset=".999" stop-color="#050505"/></linearGradient>
<linearGradient id="d82" gradientUnits="userSpaceOnUse" x1="36.20" x2="371.80" y1="0" y2="0"><stop offset=".001" stop-color="#050505"/><stop offset=".320" stop-color="#060606"/><stop offset=".326" stop-color="#101010"/><stop offset=".362" stop-color="#828282"/><stop offset=".371" stop-color="#a4a4a4"/><stop offset=".374" stop-color="#bababa"/><stop offset=".376" stop-color="#dddddd"/><stop offset=".379" stop-color="#f3f3f3"/><stop offset=".385" stop-color="#fefefe"/><stop offset=".397" stop-color="#fdfdfd"/><stop offset=".403" stop-color="#f3f3f3"/><stop offset=".406" stop-color="#e2e2e2"/><stop offset=".409" stop-color="#c6c6c6"/><stop offset=".412" stop-color="#b6b6b6"/><stop offset=".427" stop-color="#8e8e8e"/><stop offset=".466" stop-color="#0d0d0d"/><stop offset=".475" stop-color="#050505"/><stop offset=".999" stop-color="#050505"/></linearGradient>
<linearGradient id="cbar" x1="0" y1="1" x2="0" y2="0"><stop offset="0" stop-color="#000"/><stop offset="1" stop-color="#fff"/></linearGradient>
<linearGradient id="e0" gradientUnits="userSpaceOnUse" x1="471.10" x2="640.80" y1="0" y2="0"><stop offset=".003" stop-color="#050505"/><stop offset=".426" stop-color="#070707"/><stop offset=".444" stop-color="#131313"/><stop offset=".456" stop-color="#2b2b2b"/><stop offset=".468" stop-color="#595959"/><stop offset=".485" stop-color="#b6b6b6"/><stop offset=".491" stop-color="#cfcfcf"/><stop offset=".497" stop-color="#dedede"/><stop offset=".503" stop-color="#e0e0e0"/><stop offset=".509" stop-color="#d6d6d6"/><stop offset=".515" stop-color="#c1c1c1"/><stop offset=".521" stop-color="#c8c8c8"/><stop offset=".526" stop-color="#dadada"/><stop offset=".532" stop-color="#dedede"/><stop offset=".538" stop-color="#d5d5d5"/><stop offset=".544" stop-color="#c1c1c1"/><stop offset=".568" stop-color="#464646"/><stop offset=".579" stop-color="#1f1f1f"/><stop offset=".591" stop-color="#0d0d0d"/><stop offset=".621" stop-color="#050505"/><stop offset=".997" stop-color="#050505"/></linearGradient>
<linearGradient id="e1" gradientUnits="userSpaceOnUse" x1="471.10" x2="640.80" y1="0" y2="0"><stop offset=".003" stop-color="#050505"/><stop offset=".426" stop-color="#070707"/><stop offset=".444" stop-color="#131313"/><stop offset=".456" stop-color="#2b2b2b"/><stop offset=".468" stop-color="#595959"/><stop offset=".485" stop-color="#b6b6b6"/><stop offset=".491" stop-color="#cfcfcf"/><stop offset=".497" stop-color="#dedede"/><stop offset=".503" stop-color="#e0e0e0"/><stop offset=".509" stop-color="#d6d6d6"/><stop offset=".515" stop-color="#c1c1c1"/><stop offset=".526" stop-color="#dcdcdc"/><stop offset=".532" stop-color="#dddddd"/><stop offset=".538" stop-color="#d1d1d1"/><stop offset=".544" stop-color="#bababa"/><stop offset=".562" stop-color="#5b5b5b"/><stop offset=".574" stop-color="#2b2b2b"/><stop offset=".585" stop-color="#121212"/><stop offset=".603" stop-color="#070707"/><stop offset=".997" stop-color="#050505"/></linearGradient>
<linearGradient id="e2" gradientUnits="userSpaceOnUse" x1="471.10" x2="640.80" y1="0" y2="0"><stop offset=".003" stop-color="#050505"/><stop offset=".426" stop-color="#070707"/><stop offset=".444" stop-color="#131313"/><stop offset=".456" stop-color="#2b2b2b"/><stop offset=".468" stop-color="#595959"/><stop offset=".485" stop-color="#b6b6b6"/><stop offset=".491" stop-color="#cfcfcf"/><stop offset=".497" stop-color="#dedede"/><stop offset=".503" stop-color="#e0e0e0"/><stop offset=".509" stop-color="#d6d6d6"/><stop offset=".515" stop-color="#c1c1c1"/><stop offset=".526" stop-color="#dedede"/><stop offset=".532" stop-color="#dcdcdc"/><stop offset=".538" stop-color="#cdcdcd"/><stop offset=".544" stop-color="#b4b4b4"/><stop offset=".562" stop-color="#545454"/><stop offset=".574" stop-color="#272727"/><stop offset=".585" stop-color="#111111"/><stop offset=".609" stop-color="#060606"/><stop offset=".997" stop-color="#050505"/></linearGradient>
<linearGradient id="e3" gradientUnits="userSpaceOnUse" x1="471.10" x2="640.80" y1="0" y2="0"><stop offset=".003" stop-color="#050505"/><stop offset=".426" stop-color="#070707"/><stop offset=".444" stop-color="#131313"/><stop offset=".456" stop-color="#2b2b2b"/><stop offset=".468" stop-color="#595959"/><stop offset=".485" stop-color="#b6b6b6"/><stop offset=".491" stop-color="#cfcfcf"/><stop offset=".497" stop-color="#dedede"/><stop offset=".503" stop-color="#e0e0e0"/><stop offset=".509" stop-color="#d6d6d6"/><stop offset=".515" stop-color="#c2c2c2"/><stop offset=".521" stop-color="#d6d6d6"/><stop offset=".526" stop-color="#dedede"/><stop offset=".532" stop-color="#d9d9d9"/><stop offset=".538" stop-color="#c8c8c8"/><stop offset=".550" stop-color="#8c8c8c"/><stop offset=".562" stop-color="#4e4e4e"/><stop offset=".574" stop-color="#242424"/><stop offset=".585" stop-color="#0f0f0f"/><stop offset=".609" stop-color="#060606"/><stop offset=".997" stop-color="#050505"/></linearGradient>
<linearGradient id="e4" gradientUnits="userSpaceOnUse" x1="471.10" x2="640.80" y1="0" y2="0"><stop offset=".003" stop-color="#050505"/><stop offset=".426" stop-color="#070707"/><stop offset=".444" stop-color="#131313"/><stop offset=".456" stop-color="#2b2b2b"/><stop offset=".468" stop-color="#595959"/><stop offset=".485" stop-color="#b6b6b6"/><stop offset=".491" stop-color="#cfcfcf"/><stop offset=".497" stop-color="#dedede"/><stop offset=".503" stop-color="#e0e0e0"/><stop offset=".515" stop-color="#c7c7c7"/><stop offset=".521" stop-color="#d9d9d9"/><stop offset=".526" stop-color="#dedede"/><stop offset=".532" stop-color="#d6d6d6"/><stop offset=".538" stop-color="#c2c2c2"/><stop offset=".562" stop-color="#484848"/><stop offset=".574" stop-color="#202020"/><stop offset=".585" stop-color="#0e0e0e"/><stop offset=".609" stop-color="#050505"/><stop offset=".997" stop-color="#050505"/></linearGradient>
<linearGradient id="e5" gradientUnits="userSpaceOnUse" x1="471.10" x2="640.80" y1="0" y2="0"><stop offset=".003" stop-color="#050505"/><stop offset=".426" stop-color="#070707"/><stop offset=".444" stop-color="#131313"/><stop offset=".456" stop-color="#2b2b2b"/><stop offset=".468" stop-color="#595959"/><stop offset=".485" stop-color="#b6b6b6"/><stop offset=".491" stop-color="#cfcfcf"/><stop offset=".497" stop-color="#dedede"/><stop offset=".503" stop-color="#e0e0e0"/><stop offset=".515" stop-color="#cccccc"/><stop offset=".521" stop-color="#dbdbdb"/><stop offset=".526" stop-color="#dedede"/><stop offset=".532" stop-color="#d2d2d2"/><stop offset=".538" stop-color="#bcbcbc"/><stop offset=".556" stop-color="#5d5d5d"/><stop offset=".568" stop-color="#2c2c2c"/><stop offset=".579" stop-color="#131313"/><stop offset=".597" stop-color="#070707"/><stop offset=".997" stop-color="#050505"/></linearGradient>
<linearGradient id="e6" gradientUnits="userSpaceOnUse" x1="471.10" x2="640.80" y1="0" y2="0"><stop offset=".003" stop-color="#050505"/><stop offset=".426" stop-color="#070707"/><stop offset=".444" stop-color="#131313"/><stop offset=".456" stop-color="#2b2b2b"/><stop offset=".468" stop-color="#595959"/><stop offset=".485" stop-color="#b6b6b6"/><stop offset=".491" stop-color="#cfcfcf"/><stop offset=".497" stop-color="#dedede"/><stop offset=".503" stop-color="#e0e0e0"/><stop offset=".515" stop-color="#d1d1d1"/><stop offset=".521" stop-color="#dddddd"/><stop offset=".526" stop-color="#dcdcdc"/><stop offset=".532" stop-color="#cecece"/><stop offset=".538" stop-color="#b5b5b5"/><stop offset=".556" stop-color="#565656"/><stop offset=".568" stop-color="#282828"/><stop offset=".579" stop-color="#111111"/><stop offset=".597" stop-color="#070707"/><stop offset=".997" stop-color="#050505"/></linearGradient>
<linearGradient id="e7" gradientUnits="userSpaceOnUse" x1="471.10" x2="640.80" y1="0" y2="0"><stop offset=".003" stop-color="#050505"/><stop offset=".426" stop-color="#070707"/><stop offset=".444" stop-color="#131313"/><stop offset=".456" stop-color="#2b2b2b"/><stop offset=".468" stop-color="#595959"/><stop offset=".485" stop-color="#b6b6b6"/><stop offset=".491" stop-color="#cfcfcf"/><stop offset=".497" stop-color="#dedede"/><stop offset=".503" stop-color="#e0e0e0"/><stop offset=".509" stop-color="#d6d6d6"/><stop offset=".515" stop-color="#d5d5d5"/><stop offset=".521" stop-color="#dedede"/><stop offset=".526" stop-color="#dadada"/><stop offset=".532" stop-color="#c9c9c9"/><stop offset=".544" stop-color="#8e8e8e"/><stop offset=".556" stop-color="#4f4f4f"/><stop offset=".568" stop-color="#242424"/><stop offset=".579" stop-color="#0f0f0f"/><stop offset=".603" stop-color="#060606"/><stop offset=".997" stop-color="#050505"/></linearGradient>
<linearGradient id="e8" gradientUnits="userSpaceOnUse" x1="471.10" x2="640.80" y1="0" y2="0"><stop offset=".003" stop-color="#050505"/><stop offset=".426" stop-color="#070707"/><stop offset=".444" stop-color="#131313"/><stop offset=".456" stop-color="#2b2b2b"/><stop offset=".468" stop-color="#595959"/><stop offset=".485" stop-color="#b6b6b6"/><stop offset=".491" stop-color="#cfcfcf"/><stop offset=".497" stop-color="#dedede"/><stop offset=".503" stop-color="#e0e0e0"/><stop offset=".509" stop-color="#d6d6d6"/><stop offset=".521" stop-color="#dedede"/><stop offset=".526" stop-color="#d7d7d7"/><stop offset=".532" stop-color="#c3c3c3"/><stop offset=".556" stop-color="#494949"/><stop offset=".568" stop-color="#212121"/><stop offset=".579" stop-color="#0e0e0e"/><stop offset=".603" stop-color="#060606"/><stop offset=".997" stop-color="#050505"/></linearGradient>
<linearGradient id="e9" gradientUnits="userSpaceOnUse" x1="471.10" x2="640.80" y1="0" y2="0"><stop offset=".003" stop-color="#050505"/><stop offset=".426" stop-color="#070707"/><stop offset=".444" stop-color="#131313"/><stop offset=".456" stop-color="#2b2b2b"/><stop offset=".468" stop-color="#595959"/><stop offset=".485" stop-color="#b6b6b6"/><stop offset=".491" stop-color="#cfcfcf"/><stop offset=".497" stop-color="#dedede"/><stop offset=".503" stop-color="#e0e0e0"/><stop offset=".509" stop-color="#d6d6d6"/><stop offset=".521" stop-color="#dedede"/><stop offset=".526" stop-color="#d3d3d3"/><stop offset=".532" stop-color="#bdbdbd"/><stop offset=".556" stop-color="#434343"/><stop offset=".568" stop-color="#1e1e1e"/><stop offset=".579" stop-color="#0d0d0d"/><stop offset=".609" stop-color="#050505"/><stop offset=".997" stop-color="#050505"/></linearGradient>
<linearGradient id="e10" gradientUnits="userSpaceOnUse" x1="471.10" x2="640.80" y1="0" y2="0"><stop offset=".003" stop-color="#050505"/><stop offset=".426" stop-color="#070707"/><stop offset=".444" stop-color="#131313"/><stop offset=".456" stop-color="#2b2b2b"/><stop offset=".468" stop-color="#595959"/><stop offset=".485" stop-color="#b6b6b6"/><stop offset=".491" stop-color="#cfcfcf"/><stop offset=".497" stop-color="#dedede"/><stop offset=".503" stop-color="#e0e0e0"/><stop offset=".509" stop-color="#d6d6d6"/><stop offset=".515" stop-color="#dddddd"/><stop offset=".521" stop-color="#dddddd"/><stop offset=".526" stop-color="#cfcfcf"/><stop offset=".532" stop-color="#b7b7b7"/><stop offset=".550" stop-color="#585858"/><stop offset=".562" stop-color="#292929"/><stop offset=".574" stop-color="#111111"/><stop offset=".591" stop-color="#070707"/><stop offset=".997" stop-color="#050505"/></linearGradient>
<linearGradient id="e11" gradientUnits="userSpaceOnUse" x1="471.10" x2="640.80" y1="0" y2="0"><stop offset=".003" stop-color="#050505"/><stop offset=".426" stop-color="#070707"/><stop offset=".444" stop-color="#131313"/><stop offset=".456" stop-color="#2b2b2b"/><stop offset=".468" stop-color="#595959"/><stop offset=".485" stop-color="#b7b7b7"/><stop offset=".491" stop-color="#cfcfcf"/><stop offset=".497" stop-color="#dedede"/><stop offset=".503" stop-color="#e1e1e1"/><stop offset=".509" stop-color="#d7d7d7"/><stop offset=".515" stop-color="#dedede"/><stop offset=".521" stop-color="#dbdbdb"/><stop offset=".526" stop-color="#cacaca"/><stop offset=".538" stop-color="#909090"/><stop offset=".550" stop-color="#515151"/><stop offset=".562" stop-color="#252525"/><stop offset=".574" stop-color="#101010"/><stop offset=".597" stop-color="#060606"/><stop offset=".997" stop-color="#050505"/></linearGradient>
<linearGradient id="e12" gradientUnits="userSpaceOnUse" x1="471.10" x2="640.80" y1="0" y2="0"><stop offset=".003" stop-color="#050505"/><stop offset=".426" stop-color="#070707"/><stop offset=".444" stop-color="#131313"/><stop offset=".456" stop-color="#2b2b2b"/><stop offset=".468" stop-color="#5a5a5a"/><stop offset=".485" stop-color="#b8b8b8"/><stop offset=".491" stop-color="#d1d1d1"/><stop offset=".497" stop-color="#e0e0e0"/><stop offset=".503" stop-color="#e2e2e2"/><stop offset=".509" stop-color="#d8d8d8"/><stop offset=".515" stop-color="#dedede"/><stop offset=".521" stop-color="#d8d8d8"/><stop offset=".526" stop-color="#c5c5c5"/><stop offset=".550" stop-color="#4b4b4b"/><stop offset=".562" stop-color="#222222"/><stop offset=".574" stop-color="#0e0e0e"/><stop offset=".597" stop-color="#060606"/><stop offset=".997" stop-color="#050505"/></linearGradient>
<linearGradient id="e13" gradientUnits="userSpaceOnUse" x1="471.10" x2="640.80" y1="0" y2="0"><stop offset=".003" stop-color="#050505"/><stop offset=".426" stop-color="#070707"/><stop offset=".444" stop-color="#131313"/><stop offset=".456" stop-color="#2c2c2c"/><stop offset=".468" stop-color="#5a5a5a"/><stop offset=".485" stop-color="#b9b9b9"/><stop offset=".491" stop-color="#d2d2d2"/><stop offset=".497" stop-color="#e1e1e1"/><stop offset=".503" stop-color="#e4e4e4"/><stop offset=".509" stop-color="#dadada"/><stop offset=".515" stop-color="#dedede"/><stop offset=".521" stop-color="#d4d4d4"/><stop offset=".526" stop-color="#bfbfbf"/><stop offset=".550" stop-color="#444444"/><stop offset=".562" stop-color="#1e1e1e"/><stop offset=".574" stop-color="#0d0d0d"/><stop offset=".603" stop-color="#050505"/><stop offset=".997" stop-color="#050505"/></linearGradient>
<linearGradient id="e14" gradientUnits="userSpaceOnUse" x1="471.10" x2="640.80" y1="0" y2="0"><stop offset=".003" stop-color="#050505"/><stop offset=".426" stop-color="#070707"/><stop offset=".444" stop-color="#131313"/><stop offset=".456" stop-color="#2c2c2c"/><stop offset=".468" stop-color="#5b5b5b"/><stop offset=".485" stop-color="#bbbbbb"/><stop offset=".491" stop-color="#d4d4d4"/><stop offset=".497" stop-color="#e3e3e3"/><stop offset=".503" stop-color="#e6e6e6"/><stop offset=".509" stop-color="#dddddd"/><stop offset=".515" stop-color="#dddddd"/><stop offset=".521" stop-color="#d0d0d0"/><stop offset=".526" stop-color="#b8b8b8"/><stop offset=".544" stop-color="#595959"/><stop offset=".556" stop-color="#2a2a2a"/><stop offset=".568" stop-color="#121212"/><stop offset=".585" stop-color="#070707"/><stop offset=".997" stop-color="#050505"/></linearGradient>
<linearGradient id="e15" gradientUnits="userSpaceOnUse" x1="471.10" x2="640.80" y1="0" y2="0"><stop offset=".003" stop-color="#050505"/><stop offset=".426" stop-color="#070707"/><stop offset=".444" stop-color="#131313"/><stop offset=".456" stop-color="#2c2c2c"/><stop offset=".468" stop-color="#5c5c5c"/><stop offset=".485" stop-color="#bcbcbc"/><stop offset=".491" stop-color="#d5d5d5"/><stop offset=".497" stop-color="#e5e5e5"/><stop offset=".503" stop-color="#e7e7e7"/><stop offset=".515" stop-color="#d9d9d9"/><stop offset=".521" stop-color="#cacaca"/><stop offset=".526" stop-color="#b2b2b2"/><stop offset=".544" stop-color="#535353"/><stop offset=".556" stop-color="#262626"/><stop offset=".568" stop-color="#101010"/><stop offset=".591" stop-color="#060606"/><stop offset=".997" stop-color="#050505"/></linearGradient>
<linearGradient id="e16" gradientUnits="userSpaceOnUse" x1="471.10" x2="640.80" y1="0" y2="0"><stop offset=".003" stop-color="#050505"/><stop offset=".426" stop-color="#070707"/><stop offset=".444" stop-color="#131313"/><stop offset=".456" stop-color="#2d2d2d"/><stop offset=".468" stop-color="#5c5c5c"/><stop offset=".485" stop-color="#bdbdbd"/><stop offset=".491" stop-color="#d7d7d7"/><stop offset=".497" stop-color="#e6e6e6"/><stop offset=".503" stop-color="#e9e9e9"/><stop offset=".515" stop-color="#d6d6d6"/><stop offset=".521" stop-color="#c6c6c6"/><stop offset=".532" stop-color="#8a8a8a"/><stop offset=".544" stop-color="#4c4c4c"/><stop offset=".556" stop-color="#222222"/><stop offset=".568" stop-color="#0f0f0f"/><stop offset=".591" stop-color="#060606"/><stop offset=".997" stop-color="#050505"/></linearGradient>
<linearGradient id="e17" gradientUnits="userSpaceOnUse" x1="471.10" x2="640.80" y1="0" y2="0"><stop offset=".003" stop-color="#050505"/><stop offset=".426" stop-color="#070707"/><stop offset=".444" stop-color="#131313"/><stop offset=".456" stop-color="#2d2d2d"/><stop offset=".468" stop-color="#5d5d5d"/><stop offset=".485" stop-color="#bfbfbf"/><stop offset=".491" stop-color="#d9d9d9"/><stop offset=".497" stop-color="#e8e8e8"/><stop offset=".503" stop-color="#ebebeb"/><stop offset=".521" stop-color="#c0c0c0"/><stop offset=".544" stop-color="#464646"/><stop offset=".556" stop-color="#1f1f1f"/><stop offset=".568" stop-color="#0d0d0d"/><stop offset=".597" stop-color="#050505"/><stop offset=".997" stop-color="#050505"/></linearGradient>
<linearGradient id="e18" gradientUnits="userSpaceOnUse" x1="471.10" x2="640.80" y1="0" y2="0"><stop offset=".003" stop-color="#050505"/><stop offset=".426" stop-color="#070707"/><stop offset=".444" stop-color="#131313"/><stop offset=".456" stop-color="#2d2d2d"/><stop offset=".468" stop-color="#5e5e5e"/><stop offset=".485" stop-color="#c0c0c0"/><stop offset=".491" stop-color="#dadada"/><stop offset=".497" stop-color="#eaeaea"/><stop offset=".503" stop-color="#ececec"/><stop offset=".521" stop-color="#bababa"/><stop offset=".538" stop-color="#5b5b5b"/><stop offset=".550" stop-color="#2b2b2b"/><stop offset=".562" stop-color="#121212"/><stop offset=".579" stop-color="#070707"/><stop offset=".997" stop-color="#050505"/></linearGradient>
<linearGradient id="e19" gradientUnits="userSpaceOnUse" x1="471.10" x2="640.80" y1="0" y2="0"><stop offset=".003" stop-color="#050505"/><stop offset=".426" stop-color="#070707"/><stop offset=".444" stop-color="#131313"/><stop offset=".456" stop-color="#2d2d2d"/><stop offset=".468" stop-color="#5e5e5e"/><stop offset=".485" stop-color="#c1c1c1"/><stop offset=".491" stop-color="#dbdbdb"/><stop offset=".497" stop-color="#ebebeb"/><stop offset=".503" stop-color="#ededed"/><stop offset=".509" stop-color="#d8d8d8"/><stop offset=".515" stop-color="#cbcbcb"/><stop offset=".521" stop-color="#b5b5b5"/><stop offset=".538" stop-color="#565656"/><stop offset=".550" stop-color="#282828"/><stop offset=".562" stop-color="#111111"/><stop offset=".579" stop-color="#070707"/><stop offset=".997" stop-color="#050505"/></linearGradient>
<linearGradient id="e20" gradientUnits="userSpaceOnUse" x1="471.10" x2="640.80" y1="0" y2="0"><stop offset=".003" stop-color="#050505"/><stop offset=".426" stop-color="#070707"/><stop offset=".444" stop-color="#141414"/><stop offset=".456" stop-color="#2e2e2e"/><stop offset=".468" stop-color="#5f5f5f"/><stop offset=".485" stop-color="#c2c2c2"/><stop offset=".491" stop-color="#dcdcdc"/><stop offset=".497" stop-color="#ececec"/><stop offset=".503" stop-color="#eaeaea"/><stop offset=".509" stop-color="#d4d4d4"/><stop offset=".515" stop-color="#cccccc"/><stop offset=".538" stop-color="#4e4e4e"/><stop offset=".550" stop-color="#242424"/><stop offset=".562" stop-color="#0f0f0f"/><stop offset=".585" stop-color="#060606"/><stop offset=".997" stop-color="#050505"/></linearGradient>
<linearGradient id="e21" gradientUnits="userSpaceOnUse" x1="471.10" x2="640.80" y1="0" y2="0"><stop offset=".003" stop-color="#050505"/><stop offset=".426" stop-color="#070707"/><stop offset=".444" stop-color="#141414"/><stop offset=".456" stop-color="#2e2e2e"/><stop offset=".468" stop-color="#5f5f5f"/><stop offset=".485" stop-color="#c3c3c3"/><stop offset=".491" stop-color="#dedede"/><stop offset=".497" stop-color="#ededed"/><stop offset=".515" stop-color="#cfcfcf"/><stop offset=".538" stop-color="#4e4e4e"/><stop offset=".544" stop-color="#363636"/><stop offset=".556" stop-color="#171717"/><stop offset=".574" stop-color="#080808"/><stop offset=".997" stop-color="#050505"/></linearGradient>
<linearGradient id="e22" gradientUnits="userSpaceOnUse" x1="471.10" x2="640.80" y1="0" y2="0"><stop offset=".003" stop-color="#050505"/><stop offset=".426" stop-color="#070707"/><stop offset=".444" stop-color="#141414"/><stop offset=".456" stop-color="#2e2e2e"/><stop offset=".468" stop-color="#606060"/><stop offset=".485" stop-color="#c5c5c5"/><stop offset=".491" stop-color="#dfdfdf"/><stop offset=".497" stop-color="#eaeaea"/><stop offset=".503" stop-color="#dadada"/><stop offset=".509" stop-color="#e0e0e0"/><stop offset=".515" stop-color="#d0d0d0"/><stop offset=".538" stop-color="#4e4e4e"/><stop offset=".544" stop-color="#363636"/><stop offset=".556" stop-color="#171717"/><stop offset=".574" stop-color="#080808"/><stop offset=".997" stop-color="#050505"/></linearGradient>
<linearGradient id="e23" gradientUnits="userSpaceOnUse" x1="471.10" x2="640.80" y1="0" y2="0"><stop offset=".003" stop-color="#050505"/><stop offset=".426" stop-color="#070707"/><stop offset=".444" stop-color="#141414"/><stop offset=".456" stop-color="#2e2e2e"/><stop offset=".468" stop-color="#606060"/><stop offset=".485" stop-color="#c6c6c6"/><stop offset=".491" stop-color="#e0e0e0"/><stop offset=".503" stop-color="#dedede"/><stop offset=".509" stop-color="#e7e7e7"/><stop offset=".515" stop-color="#d2d2d2"/><stop offset=".538" stop-color="#4f4f4f"/><stop offset=".544" stop-color="#363636"/><stop offset=".556" stop-color="#181818"/><stop offset=".574" stop-color="#080808"/><stop offset=".997" stop-color="#050505"/></linearGradient>
<linearGradient id="e24" gradientUnits="userSpaceOnUse" x1="471.10" x2="640.80" y1="0" y2="0"><stop offset=".003" stop-color="#050505"/><stop offset=".426" stop-color="#070707"/><stop offset=".444" stop-color="#141414"/><stop offset=".456" stop-color="#2f2f2f"/><stop offset=".462" stop-color="#454545"/><stop offset=".474" stop-color="#828282"/><stop offset=".485" stop-color="#c7c7c7"/><stop offset=".491" stop-color="#dfdfdf"/><stop offset=".497" stop-color="#dadada"/><stop offset=".503" stop-color="#e9e9e9"/><stop offset=".509" stop-color="#e9e9e9"/><stop offset=".515" stop-color="#d3d3d3"/><stop offset=".538" stop-color="#4f4f4f"/><stop offset=".544" stop-color="#373737"/><stop offset=".556" stop-color="#181818"/><stop offset=".574" stop-color="#080808"/><stop offset=".997" stop-color="#050505"/></linearGradient>
<linearGradient id="e25" gradientUnits="userSpaceOnUse" x1="471.10" x2="640.80" y1="0" y2="0"><stop offset=".003" stop-color="#050505"/><stop offset=".426" stop-color="#070707"/><stop offset=".444" stop-color="#141414"/><stop offset=".456" stop-color="#2f2f2f"/><stop offset=".462" stop-color="#454545"/><stop offset=".474" stop-color="#838383"/><stop offset=".485" stop-color="#c8c8c8"/><stop offset=".491" stop-color="#dbdbdb"/><stop offset=".497" stop-color="#dcdcdc"/><stop offset=".503" stop-color="#f2f2f2"/><stop offset=".509" stop-color="#ebebeb"/><stop offset=".515" stop-color="#d4d4d4"/><stop offset=".538" stop-color="#505050"/><stop offset=".544" stop-color="#373737"/><stop offset=".556" stop-color="#181818"/><stop offset=".574" stop-color="#080808"/><stop offset=".997" stop-color="#050505"/></linearGradient>
<linearGradient id="e26" gradientUnits="userSpaceOnUse" x1="471.10" x2="640.80" y1="0" y2="0"><stop offset=".003" stop-color="#050505"/><stop offset=".426" stop-color="#070707"/><stop offset=".444" stop-color="#141414"/><stop offset=".456" stop-color="#2f2f2f"/><stop offset=".462" stop-color="#454545"/><stop offset=".474" stop-color="#838383"/><stop offset=".485" stop-color="#c9c9c9"/><stop offset=".497" stop-color="#e4e4e4"/><stop offset=".503" stop-color="#f6f6f6"/><stop offset=".509" stop-color="#ececec"/><stop offset=".515" stop-color="#d5d5d5"/><stop offset=".538" stop-color="#505050"/><stop offset=".544" stop-color="#373737"/><stop offset=".556" stop-color="#181818"/><stop offset=".574" stop-color="#080808"/><stop offset=".997" stop-color="#050505"/></linearGradient>
<linearGradient id="e27" gradientUnits="userSpaceOnUse" x1="471.10" x2="640.80" y1="0" y2="0"><stop offset=".003" stop-color="#050505"/><stop offset=".426" stop-color="#070707"/><stop offset=".444" stop-color="#141414"/><stop offset=".456" stop-color="#2f2f2f"/><stop offset=".462" stop-color="#464646"/><stop offset=".474" stop-color="#848484"/><stop offset=".485" stop-color="#cacaca"/><stop offset=".491" stop-color="#d4d4d4"/><stop offset=".497" stop-color="#ebebeb"/><stop offset=".503" stop-color="#f8f8f8"/><stop offset=".509" stop-color="#eeeeee"/><stop offset=".515" stop-color="#d6d6d6"/><stop offset=".538" stop-color="#515151"/><stop offset=".544" stop-color="#383838"/><stop offset=".556" stop-color="#181818"/><stop offset=".574" stop-color="#080808"/><stop offset=".997" stop-color="#050505"/></linearGradient>
<linearGradient id="e28" gradientUnits="userSpaceOnUse" x1="471.10" x2="640.80" y1="0" y2="0"><stop offset=".003" stop-color="#050505"/><stop offset=".426" stop-color="#070707"/><stop offset=".444" stop-color="#141414"/><stop offset=".456" stop-color="#303030"/><stop offset=".462" stop-color="#474747"/><stop offset=".474" stop-color="#878787"/><stop offset=".485" stop-color="#cecece"/><stop offset=".491" stop-color="#eaeaea"/><stop offset=".497" stop-color="#fbfbfb"/><stop offset=".503" stop-color="#fefefe"/><stop offset=".509" stop-color="#f3f3f3"/><stop offset=".515" stop-color="#dbdbdb"/><stop offset=".538" stop-color="#525252"/><stop offset=".544" stop-color="#393939"/><stop offset=".556" stop-color="#181818"/><stop offset=".574" stop-color="#080808"/><stop offset=".997" stop-color="#050505"/></linearGradient>
</defs>
<g style="will-change:transform">
<text transform="translate(-0.6,11.2) scale(1.08,1)" font-size="15.5" text-anchor="start" fill="#000" font-weight="bold">a</text>
<polyline points="36.5,36.89 37,37.02 37.5,36.89 38,36.45 38.5,37.04 39,36.92 39.5,36.65 40,36.95 40.5,36.89 41,36.87 41.5,36.8 42,36.93 42.5,36.58 43,36.74 43.5,36.65 44,36.94 44.5,36.78 45,36.69 45.5,36.55 46,36.69 46.5,36.76 47,36.68 47.5,37.1 48,37.01 48.5,36 49,36.22 49.5,36.68 50,36.61 50.5,36.78 51,36.77 51.5,37.28 52,36.4 52.5,36.59 53,37.25 53.5,36.86 54,36.86 54.5,36.53 55,36.21 55.5,36.7 56,36.68 56.5,36.31 57,36.45 57.5,36.61 58,36.37 58.5,36.59 59,36.64 59.5,36.62 60,36.46 60.5,36.76 61,36.83 61.5,36.67 62,36.34 62.5,36.76 63,36.41 63.5,36.78 64,36.23 64.5,36.77 65,36.5 65.5,36.14 66,36.39 66.5,36.48 67,36.53 67.5,36.16 68,36.11 68.5,36.46 69,36.26 69.5,36.44 70,36.57 70.5,35.87 71,36.4 71.5,36.66 72,36.2 72.5,36.04 73,36.47 73.5,36.31 74,36.48 74.5,36.1 75,35.75 75.5,36.13 76,36.02 76.5,36.36 77,36.17 77.5,35.61 78,35.72 78.5,36.32 79,36.24 79.5,35.83 80,36 80.5,36.12 81,36.11 81.5,36.22 82,36.02 82.5,35.9 83,35.83 83.5,36.21 84,35.2 84.5,35.82 85,35.84 85.5,35.37 86,35.88 86.5,35.54 87,35.97 87.5,35.52 88,35.48 88.5,35.24 89,34.44 89.5,33.39 90,32.53 90.5,33.31 91,32 91.5,31.31 92,31.3 92.5,30.75 93,30.91 93.5,30.18 94,29.91 94.5,29.34 95,29.84 95.5,28.92 96,29.68 96.5,29.91 97,27.07 97.5,23.55 98,22.66 98.5,22.23 99,17.67 99.5,16.27 100,16.72 100.5,13.66 101,12.02 101.5,11.5 102,12.81 102.5,12.96 103,14.81 103.5,15.54 104,15.99 104.5,17.73 105,18.34 105.5,20.06 106,19.21 106.5,16.6 107,15.62 107.5,13.03 108,12.27 108.5,12.18 109,10.89 109.5,10.83 110,11.46 110.5,11.97 111,11.71 111.5,14.66 112,14.2 112.5,14.02 113,13.94 113.5,13.99 114,15.35 114.5,12.39 115,13.45 115.5,11.41 116,13.55 116.5,14.59 117,13.75 117.5,13.51 118,14.29 118.5,14.61 119,14.41 119.5,15.44 120,13.71 120.5,13.01 121,13.95 121.5,14.88 122,16.09 122.5,16.96 123,17.88 123.5,16.75 124,19.53 124.5,18.7 125,18.62 125.5,20.69 126,21.78 126.5,21.64 127,22.09 127.5,22.1 128,25.92 128.5,25.38 129,24.94 129.5,26.08 130,27.38 130.5,26.95 131,28.31 131.5,28.2 132,29.39 132.5,29.42 133,27.56 133.5,29.24 134,28.48 134.5,30.09 135,29.71 135.5,30.05 136,29.34 136.5,30.99 137,31.23 137.5,29.8 138,30.67 138.5,30.3 139,30.76 139.5,30.29 140,31.94 140.5,30.7 141,31.14 141.5,31.63 142,31.2 142.5,31.49 143,31.43 143.5,31.7 144,31.3 144.5,31.7 145,31.86 145.5,31.86 146,32.08 146.5,31.98 147,32.49 147.5,32.06 148,32.2 148.5,32.02 149,32.14 149.5,31.89 150,32.72 150.5,32.09 151,32.35 151.5,32.9 152,33.02 152.5,32.79 153,32.23 153.5,33.33 154,33.38 154.5,32.83 155,33.8 155.5,33.34 156,33.3 156.5,33.87 157,33.88 157.5,34.12 158,33.56 158.5,34.9 159,34.12 159.5,33.88 160,34.75 160.5,34.51 161,34.85 161.5,34.73 162,34.93 162.5,35.14 163,34.91 163.5,35.48 164,35.19 164.5,35.15 165,35.53 165.5,35.71 166,35.55 166.5,35.39 167,35.88 167.5,35.16 168,35.38 168.5,35.71 169,35.27 169.5,35.69 170,35.65 170.5,35.93 171,35.35 171.5,35.42 172,35.7 172.5,34.8 173,36.52 173.5,35.3 174,35.26 174.5,35.74 175,35.42 175.5,34.83 176,35.56 176.5,35.6 177,35.14 177.5,35.16 178,35.37 178.5,34.86 179,35.23 179.5,35.06 180,34.65 180.5,34.27 181,34.53 181.5,34.15 182,34.67 182.5,34.21 183,34.3 183.5,33.92 184,33.84 184.5,33.33 185,33.79 185.5,34.15 186,33.28 186.5,33.13 187,33.26 187.5,33.1 188,32.98 188.5,33.29 189,33.1 189.5,33.78 190,33.2 190.5,33.35 191,33.65 191.5,33.23 192,34.02 192.5,33.34 193,33.41 193.5,33.74 194,33.99 194.5,33.68 195,34.34 195.5,33.91 196,35.13 196.5,34.74 197,34.65 197.5,34.64 198,34.87 198.5,34.96 199,34.72 199.5,34.79 200,35.06 200.5,34.98 201,35.49 201.5,35.58 202,35.24 202.5,35.41 203,34.84 203.5,35.51 204,35.31 204.5,35.5 205,35.88 205.5,34.65 206,35.48 206.5,35.06 207,35.62 207.5,35.03 208,35.3 208.5,35.54 209,35.68 209.5,35.52 210,35.26 210.5,35.35 211,35.81 211.5,35.54 212,35.02 212.5,35.83 213,35.7 213.5,35.85 214,35.48 214.5,35.85 215,35.27 215.5,35.78 216,35.46 216.5,35.83 217,35.94 217.5,35.4 218,35.62 218.5,35.66 219,36.02 219.5,35.88 220,35.29 220.5,35.81 221,35.91 221.5,36.34 222,35.17 222.5,35.53 223,36.11 223.5,35.29 224,35.34 224.5,35.87 225,36.03 225.5,35.52 226,35.9 226.5,35.77 227,36.21 227.5,35.74 228,36.05 228.5,35.47 229,35.7 229.5,35.73 230,36.11 230.5,35.94 231,35.54 231.5,35.98 232,36.01 232.5,35.74 233,35.7 233.5,35.72 234,35.27 234.5,35.85 235,35.86 235.5,35.53 236,36.02 236.5,35.38 237,35.63 237.5,35.65 238,36.41 238.5,35.31 239,35.97 239.5,36.09 240,35.92 240.5,36.16 241,35.49 241.5,35.09 242,36.02 242.5,35.4 243,35.66 243.5,35.38 244,36.05 244.5,35.97 245,35.46 245.5,35.94 246,35.68 246.5,35.57 247,35.61 247.5,35.5 248,35.72 248.5,35.6 249,35.36 249.5,35.75 250,35.2 250.5,35.44 251,35.4 251.5,35.66 252,34.9 252.5,35.55 253,34.94 253.5,34.53 254,33.82 254.5,34.63 255,34.29 255.5,32.68 256,33.54 256.5,34.55 257,34.36 257.5,35.07 258,34.69 258.5,33.15 259,33.95 259.5,34.11 260,33.01 260.5,34.2 261,35.26 261.5,34.22 262,34.26 262.5,34.44 263,32.07 263.5,30.92 264,32.69 264.5,29.59 265,27.73 265.5,31.47 266,32.39 266.5,31.64 267,32.86 267.5,33.25 268,32.88 268.5,31.77 269,32.5 269.5,33.33 270,29.6 270.5,28.51 271,31.21 271.5,30.92 272,32.64 272.5,34.76 273,34.16 273.5,32.73 274,30.82 274.5,32.73 275,33.73 275.5,34.42 276,32.59 276.5,29.79 277,32.7 277.5,34.64 278,33.26 278.5,33.73 279,31.82 279.5,32.54 280,34.49 280.5,34.5 281,33.67 281.5,33.97 282,33.15 282.5,30.61 283,32.05 283.5,34.78 284,34.4 284.5,33.75 285,30.71 285.5,30.91 286,33.38 286.5,34.24 287,35.26 287.5,32.85 288,30.53 288.5,30.04 289,33.67 289.5,34.3 290,33.28 290.5,30.79 291,30.65 291.5,30.79 292,33.08 292.5,33.93 293,30.76 293.5,32.86 294,34.32 294.5,33.67 295,34.18 295.5,33.7 296,31.38 296.5,33.76 297,34.05 297.5,31.1 298,33.75 298.5,32.94 299,27.64 299.5,31.59 300,34.68 300.5,32.3 301,33.12 301.5,33.18 302,31.9 302.5,33.39 303,34.86 303.5,34.4 304,34.13 304.5,33.11 305,30.84 305.5,33.1 306,34.98 306.5,34.26 307,33.75 307.5,31.51 308,32.41 308.5,34 309,35.19" fill="none" stroke="#AFBDF6" stroke-width="2.1" stroke-linejoin="round"/>
<polyline points="36.5,66.84 37,66.68 37.5,66.71 38,66.26 38.5,67.19 39,67.05 39.5,66.72 40,66.96 40.5,66.85 41,66.66 41.5,67 42,66.71 42.5,66.7 43,66.59 43.5,66.86 44,66.74 44.5,66.87 45,66.61 45.5,66.77 46,66.54 46.5,66.92 47,66.76 47.5,66.79 48,66.8 48.5,66.48 49,66.87 49.5,67.15 50,66.31 50.5,66.28 51,66.33 51.5,66.84 52,66.68 52.5,66.88 53,66.79 53.5,66.67 54,66.68 54.5,66.56 55,66.79 55.5,66.33 56,66.48 56.5,66.62 57,66.97 57.5,66.37 58,66.29 58.5,66.4 59,66.74 59.5,66.46 60,66.8 60.5,66.06 61,66.74 61.5,66.71 62,66.14 62.5,66.49 63,66.72 63.5,66.45 64,66.65 64.5,66.96 65,66.46 65.5,66.32 66,66.2 66.5,66.52 67,66.31 67.5,66.3 68,66.3 68.5,66.46 69,66.04 69.5,65.91 70,65.68 70.5,66.52 71,66.23 71.5,66.55 72,66.17 72.5,65.97 73,66.23 73.5,66.07 74,65.76 74.5,65.82 75,66.43 75.5,66.04 76,66 76.5,65.74 77,65.54 77.5,65.83 78,65.46 78.5,65.15 79,65.17 79.5,64.81 80,64.95 80.5,65.04 81,64.27 81.5,64.69 82,63.79 82.5,63.74 83,63.11 83.5,62.97 84,62.72 84.5,62.2 85,61.74 85.5,61.38 86,60.96 86.5,60.31 87,60.49 87.5,60.43 88,60.29 88.5,59.8 89,60.23 89.5,58.87 90,58.1 90.5,58.82 91,56.97 91.5,57.58 92,56.19 92.5,56.5 93,54.87 93.5,56.1 94,55.19 94.5,54.44 95,55.71 95.5,54.96 96,54.36 96.5,53.74 97,54.03 97.5,53.86 98,54.31 98.5,54.28 99,53.31 99.5,53.3 100,53.23 100.5,52.63 101,52.98 101.5,53.15 102,53.48 102.5,53.68 103,52 103.5,51.96 104,50.2 104.5,51.5 105,50.16 105.5,51.05 106,50.74 106.5,51.59 107,52.94 107.5,53.07 108,53.72 108.5,52.34 109,53.22 109.5,51.45 110,52.33 110.5,49.95 111,50 111.5,47.25 112,47.7 112.5,45.63 113,44.75 113.5,43.94 114,42.55 114.5,42 115,41.58 115.5,41.02 116,40.35 116.5,39.75 117,40.92 117.5,42.37 118,41.99 118.5,45.15 119,45.17 119.5,45.56 120,46.64 120.5,46.55 121,46.33 121.5,45.54 122,46.73 122.5,47.23 123,47.13 123.5,49.62 124,50.35 124.5,49.72 125,52.12 125.5,51.89 126,53.87 126.5,54.06 127,53.26 127.5,53.73 128,54.62 128.5,54.7 129,55.97 129.5,55.77 130,55.43 130.5,56.15 131,54.99 131.5,56.52 132,57.09 132.5,56.84 133,56.92 133.5,57.95 134,59.03 134.5,58.62 135,58.45 135.5,60.02 136,58.96 136.5,60.31 137,60.12 137.5,60.92 138,60.28 138.5,61.22 139,60.86 139.5,60.1 140,60.05 140.5,60.76 141,61.43 141.5,61 142,61.01 142.5,60.92 143,61.32 143.5,61.2 144,61.19 144.5,60.71 145,61.58 145.5,61.67 146,60.66 146.5,62.08 147,61.49 147.5,61.04 148,60.52 148.5,61.54 149,61.54 149.5,61.13 150,60.72 150.5,61.87 151,61.28 151.5,61.38 152,62.69 152.5,62.49 153,62.12 153.5,61.68 154,62.17 154.5,61.18 155,62.14 155.5,61.91 156,61.81 156.5,61.8 157,62.63 157.5,62.56 158,62.66 158.5,62.98 159,62.48 159.5,62.42 160,62.31 160.5,62.85 161,63.28 161.5,63.02 162,63.33 162.5,62.76 163,63.02 163.5,62.94 164,62.79 164.5,63.81 165,63.46 165.5,62.9 166,62.86 166.5,63.04 167,62.52 167.5,63.08 168,62.42 168.5,62.64 169,62.32 169.5,62.4 170,61.99 170.5,61.78 171,61.87 171.5,61.84 172,61.84 172.5,61.83 173,62.23 173.5,61.82 174,61.26 174.5,61.49 175,60.78 175.5,61.46 176,60.95 176.5,60.02 177,60.69 177.5,60.5 178,58.77 178.5,59.31 179,59.13 179.5,58.15 180,58.2 180.5,57.9 181,58.24 181.5,57.79 182,58.62 182.5,56.73 183,57.2 183.5,56.3 184,56.08 184.5,54.99 185,54.28 185.5,54.64 186,55.21 186.5,55.39 187,54.5 187.5,54.15 188,53.07 188.5,54.34 189,54.09 189.5,52.87 190,53.18 190.5,52.62 191,54.2 191.5,53.61 192,53.37 192.5,53.78 193,53.91 193.5,53.51 194,53.14 194.5,53.27 195,53.16 195.5,54.64 196,55.89 196.5,53.96 197,55.47 197.5,56.15 198,55.99 198.5,57.22 199,57.18 199.5,58.86 200,58.53 200.5,59.34 201,60.11 201.5,60.18 202,60.19 202.5,61.22 203,62.19 203.5,62.32 204,62.8 204.5,62.65 205,63.25 205.5,63.56 206,63.46 206.5,64.17 207,63.6 207.5,63.44 208,63.36 208.5,64.3 209,64.01 209.5,64.41 210,64.31 210.5,64.72 211,64.67 211.5,64.24 212,64.48 212.5,64.76 213,64.12 213.5,64.93 214,64.9 214.5,64.86 215,64.54 215.5,64.71 216,64.33 216.5,64.68 217,64.52 217.5,64.73 218,64.59 218.5,64.83 219,65.1 219.5,64.42 220,65.07 220.5,64.27 221,64.24 221.5,64.83 222,64.88 222.5,65.02 223,64.46 223.5,64.91 224,64.98 224.5,65.31 225,64.95 225.5,65.13 226,64.74 226.5,64.97 227,64.91 227.5,65.23 228,64.79 228.5,64.84 229,65.23 229.5,65.57 230,65.2 230.5,65.19 231,65.02 231.5,65.42 232,65.28 232.5,65.61 233,65.24 233.5,64.9 234,65.01 234.5,64.9 235,64.84 235.5,65.52 236,65.4 236.5,64.85 237,65.67 237.5,65.26 238,64.94 238.5,65.3 239,65.18 239.5,64.99 240,64.68 240.5,65.21 241,65.28 241.5,64.51 242,65.35 242.5,65.37 243,65.07 243.5,65.23 244,65.12 244.5,64.98 245,65.1 245.5,65.56 246,64.81 246.5,65.26 247,65.25 247.5,65.01 248,65.08 248.5,64.82 249,64.97 249.5,65.2 250,65.29 250.5,64.96 251,66.02 251.5,65.05 252,65.23 252.5,65.14 253,65.09 253.5,65.55 254,65.07 254.5,65.56 255,65.51 255.5,64.92 256,65.48 256.5,65.03 257,65.93 257.5,65.1 258,64.95 258.5,64.69 259,64.85 259.5,65.04 260,64.93 260.5,64.87 261,65.01 261.5,65.14 262,65.59 262.5,64.74 263,65.05 263.5,64.94 264,64.79 264.5,64.86 265,64.96 265.5,65.39 266,65.15 266.5,65.06 267,65.36 267.5,65.28 268,65.14 268.5,65.3 269,64.98 269.5,64.76 270,63.29 270.5,64.07 271,64.85 271.5,65.52 272,65.18 272.5,65.71 273,63.99 273.5,64.91 274,64.91 274.5,64.7 275,65.13 275.5,64.95 276,65.1 276.5,65.19 277,65.11 277.5,65.02 278,65.29 278.5,64.82 279,63.34 279.5,64.11 280,64.78 280.5,64.74 281,64.89 281.5,64.89 282,63.61 282.5,64.08 283,65.24 283.5,64.76 284,64.83 284.5,64.85 285,64.62 285.5,64.13 286,64.65 286.5,64.71 287,64.76 287.5,64.61 288,64.21 288.5,65.07 289,64.69 289.5,64.5 290,64.87 290.5,64.72 291,64.6 291.5,64.6 292,64.62 292.5,64.03 293,64.88 293.5,64.29 294,62.96 294.5,63.7 295,65.21 295.5,64.44 296,64.52 296.5,64.69 297,64.43 297.5,64.94 298,64.57 298.5,63.25 299,64.56 299.5,64.95 300,64.25 300.5,64.5 301,64.56 301.5,64.45 302,64.54 302.5,64.12 303,64.58 303.5,64.53 304,64.91 304.5,64.52 305,64.37 305.5,64.3 306,63.28 306.5,64.08 307,64.43 307.5,63.87 308,64.34 308.5,64.38 309,64.42" fill="none" stroke="#8EA2F6" stroke-width="2.1" stroke-linejoin="round"/>
<polyline points="36.5,97.05 37,96.04 37.5,96.69 38,96.47 38.5,96.49 39,96.54 39.5,96.14 40,96.53 40.5,96.39 41,97.31 41.5,96.62 42,96.48 42.5,96.49 43,96.4 43.5,96.3 44,96.44 44.5,96.63 45,96.46 45.5,96.71 46,96.44 46.5,96.48 47,96.81 47.5,96.58 48,96.33 48.5,96.39 49,96.54 49.5,96.84 50,96.33 50.5,96.32 51,96.59 51.5,96.15 52,96.27 52.5,96.52 53,96.44 53.5,96.31 54,96.43 54.5,95.61 55,96.48 55.5,96.01 56,95.83 56.5,96.26 57,96.34 57.5,96.06 58,95.89 58.5,96.13 59,96.1 59.5,96.42 60,96.25 60.5,96.09 61,96.29 61.5,95.95 62,95.76 62.5,96.09 63,96.07 63.5,95.85 64,95.68 64.5,95.9 65,95.2 65.5,95.95 66,95.87 66.5,95.31 67,95.69 67.5,95.4 68,95.79 68.5,95.05 69,95.28 69.5,95.65 70,95.72 70.5,94.82 71,95.2 71.5,95.36 72,95.07 72.5,95.59 73,94.8 73.5,95.15 74,94.71 74.5,95.31 75,94.86 75.5,94.7 76,94.26 76.5,95.13 77,94.8 77.5,94.71 78,94.72 78.5,94.38 79,93.96 79.5,93.75 80,93.57 80.5,94.04 81,92.93 81.5,92.95 82,92.77 82.5,92.65 83,92.45 83.5,91.44 84,90.85 84.5,90.79 85,90.14 85.5,88.54 86,86.81 86.5,85.2 87,84.6 87.5,83.73 88,83.95 88.5,82.59 89,82.86 89.5,82.41 90,82.54 90.5,82.01 91,83.19 91.5,82.02 92,81.38 92.5,78.04 93,78.44 93.5,77.42 94,77.55 94.5,74.88 95,77.14 95.5,77.07 96,75.93 96.5,77.26 97,78.66 97.5,80.44 98,81.6 98.5,82.67 99,80.97 99.5,81.32 100,80.49 100.5,81.2 101,80.04 101.5,80.15 102,77.94 102.5,78.18 103,77.29 103.5,78.67 104,77.79 104.5,76.97 105,77.5 105.5,79.61 106,80.17 106.5,80.67 107,81.35 107.5,82.04 108,79.11 108.5,77.76 109,76.25 109.5,75.32 110,76.17 110.5,75.92 111,74.84 111.5,74.67 112,74.12 112.5,73.76 113,72.16 113.5,72.61 114,72.69 114.5,71.66 115,71.5 115.5,70.8 116,70.7 116.5,71.16 117,69.89 117.5,69.9 118,70.62 118.5,70.55 119,71.43 119.5,68.73 120,71.12 120.5,70.33 121,71.04 121.5,71.84 122,72.32 122.5,72.61 123,72.29 123.5,73.99 124,73.45 124.5,74.58 125,76.31 125.5,76.22 126,78.94 126.5,78.63 127,80 127.5,78.81 128,78.97 128.5,79.78 129,80.57 129.5,80 130,81.04 130.5,81.13 131,82.6 131.5,81.46 132,82.98 132.5,82.32 133,82.57 133.5,83.2 134,83.39 134.5,84.65 135,85.61 135.5,85.57 136,86.24 136.5,87.17 137,86.82 137.5,87.11 138,87.16 138.5,86.75 139,88.15 139.5,87.16 140,88.52 140.5,88.41 141,89.13 141.5,88.75 142,88.58 142.5,89.26 143,88.98 143.5,89.27 144,89.47 144.5,89.47 145,89.53 145.5,89.33 146,89.68 146.5,88.93 147,89.84 147.5,89.47 148,90.51 148.5,90.63 149,89.35 149.5,90.27 150,90.21 150.5,89.88 151,90.57 151.5,90.2 152,89.71 152.5,90.34 153,90.41 153.5,90.53 154,90 154.5,90.75 155,90.79 155.5,90.03 156,90.21 156.5,90.42 157,90.2 157.5,91.11 158,90.45 158.5,89.91 159,89.96 159.5,90.21 160,91.13 160.5,90.05 161,90.11 161.5,90.21 162,89.91 162.5,90.82 163,89.56 163.5,90.03 164,89.7 164.5,89.82 165,88.95 165.5,90.11 166,89.12 166.5,89 167,88.34 167.5,88.19 168,88.55 168.5,88.52 169,88.18 169.5,88.19 170,87.75 170.5,87.24 171,87.49 171.5,87.23 172,86.74 172.5,87.03 173,87.19 173.5,86.5 174,86.04 174.5,86.45 175,86.91 175.5,85.56 176,85.4 176.5,85.08 177,85.43 177.5,83.12 178,83.84 178.5,83.73 179,81.83 179.5,82.74 180,81.56 180.5,80.35 181,80.54 181.5,79.09 182,79.62 182.5,81.22 183,79.15 183.5,81.05 184,79.54 184.5,80.21 185,79.35 185.5,77.43 186,78.26 186.5,78.26 187,76.6 187.5,75.77 188,76.42 188.5,75.14 189,74.02 189.5,74.7 190,76.24 190.5,76 191,78 191.5,79.37 192,78.95 192.5,78.36 193,78.07 193.5,78.68 194,79.02 194.5,78.4 195,79.52 195.5,80.92 196,83.76 196.5,84.97 197,85.7 197.5,85.71 198,86 198.5,86.91 199,86.91 199.5,87.27 200,88.32 200.5,88.23 201,89.93 201.5,89.35 202,89 202.5,89.96 203,90.09 203.5,89.92 204,90.84 204.5,90.18 205,89.21 205.5,90.48 206,89.44 206.5,89.86 207,88.45 207.5,87.91 208,89.15 208.5,88.18 209,89.19 209.5,90.23 210,90.12 210.5,90.37 211,90.54 211.5,90.81 212,90.09 212.5,90.58 213,90.46 213.5,91.08 214,89.85 214.5,89.48 215,90.06 215.5,89.48 216,89.7 216.5,89.58 217,90.01 217.5,89.28 218,89.69 218.5,88.9 219,89.9 219.5,91.2 220,90.65 220.5,90.94 221,91 221.5,91.87 222,91.93 222.5,91.65 223,92.51 223.5,92.57 224,92.93 224.5,92.64 225,93.59 225.5,93.31 226,93.26 226.5,93.24 227,93.4 227.5,93.8 228,93.49 228.5,93.95 229,93.83 229.5,94.11 230,93.98 230.5,93.74 231,93.21 231.5,93.92 232,94.09 232.5,93.93 233,94.07 233.5,93.79 234,93.84 234.5,93.69 235,94.4 235.5,94.06 236,93.89 236.5,93.66 237,94.02 237.5,94.51 238,94.24 238.5,93.9 239,94.55 239.5,94.56 240,94.45 240.5,94.4 241,94.52 241.5,94.36 242,94.44 242.5,94 243,94.68 243.5,94.32 244,94.86 244.5,93.69 245,94.5 245.5,94.6 246,94.23 246.5,94.47 247,94.57 247.5,94.53 248,94.23 248.5,94.35 249,94.7 249.5,94.78 250,94.46 250.5,94.47 251,94.51 251.5,94.76 252,94.18 252.5,94.11 253,94.54 253.5,94.2 254,94.35 254.5,94.55 255,94.67 255.5,94.24 256,94.78 256.5,94.06 257,94.72 257.5,94.13 258,94.22 258.5,94.76 259,94.47 259.5,94.37 260,94.47 260.5,94.73 261,94.58 261.5,94.57 262,94.83 262.5,94.37 263,94.37 263.5,94.14 264,94.77 264.5,94.84 265,94.84 265.5,94.52 266,94.32 266.5,94.1 267,94.1 267.5,94.59 268,94.07 268.5,94.01 269,94.43 269.5,94.2 270,94.87 270.5,95.13 271,94.1 271.5,94.31 272,93.43 272.5,93.17 273,93.78 273.5,93.84 274,93.63 274.5,93.47 275,94.22 275.5,93.98 276,93.81 276.5,94.62 277,94.65 277.5,93.95 278,93.65 278.5,93.57 279,93.83 279.5,93.71 280,93.43 280.5,93.85 281,94.19 281.5,94.41 282,94.3 282.5,94.3 283,93.2 283.5,93.66 284,94.19 284.5,93.68 285,93.85 285.5,93.08 286,92.4 286.5,93 287,93.5 287.5,91.11 288,92.52 288.5,93.48 289,93.25 289.5,93.14 290,93.09 290.5,92.62 291,92.74 291.5,93.19 292,92.81 292.5,93.04 293,93.67 293.5,92.74 294,92.93 294.5,92.76 295,92.68 295.5,92.29 296,92.47 296.5,92.18 297,92.73 297.5,92.84 298,92.59 298.5,92.57 299,92.95 299.5,92.84 300,92.83 300.5,93.04 301,92.91 301.5,92.71 302,93.06 302.5,92.92 303,93.33 303.5,93.32 304,92.7 304.5,93.75 305,94.13 305.5,93.34 306,93.84 306.5,94.01 307,94.03 307.5,93.65 308,94.51 308.5,93.3 309,94.43" fill="none" stroke="#6A86F2" stroke-width="2.1" stroke-linejoin="round"/>
<polyline points="36.5,126.07 37,126.17 37.5,126.52 38,126.32 38.5,125.87 39,126.19 39.5,126.06 40,126.2 40.5,125.85 41,126.21 41.5,126.2 42,126.45 42.5,126.19 43,126.22 43.5,125.81 44,126.54 44.5,125.7 45,126.28 45.5,125.98 46,125.85 46.5,125.88 47,125.86 47.5,126.06 48,125.94 48.5,126.24 49,125.55 49.5,125.9 50,125.7 50.5,126.02 51,125.41 51.5,125.75 52,125.84 52.5,125.47 53,125.96 53.5,125.77 54,125.92 54.5,125.89 55,125.46 55.5,125.47 56,125.58 56.5,125.75 57,125.75 57.5,125.4 58,125.39 58.5,125.33 59,125.35 59.5,125.4 60,125.39 60.5,125.84 61,125.25 61.5,125.27 62,125.41 62.5,125.06 63,125.16 63.5,125.21 64,125.34 64.5,124.84 65,125.41 65.5,124.98 66,125.06 66.5,125.17 67,125.08 67.5,125.13 68,124.88 68.5,124.78 69,124.81 69.5,124.45 70,124.91 70.5,124.38 71,124.2 71.5,124.94 72,124.35 72.5,124.02 73,124.7 73.5,124.09 74,124.36 74.5,123.81 75,123.87 75.5,123.42 76,123.27 76.5,123.42 77,123.56 77.5,123.7 78,124.04 78.5,123 79,123.46 79.5,122.86 80,122.78 80.5,122.13 81,121.82 81.5,121.69 82,121.18 82.5,121.17 83,120.52 83.5,120.79 84,119.98 84.5,119.57 85,119.54 85.5,118.88 86,118.18 86.5,117.66 87,117.11 87.5,117.11 88,116.45 88.5,115.73 89,115.44 89.5,114.3 90,114.42 90.5,113.03 91,114.09 91.5,113.01 92,112.65 92.5,112.5 93,111.79 93.5,111.33 94,111.92 94.5,111.1 95,110.37 95.5,111.17 96,109.95 96.5,112.1 97,111.2 97.5,111.55 98,113.08 98.5,113.26 99,112.35 99.5,112.87 100,113.32 100.5,113.8 101,112.9 101.5,113.07 102,113.62 102.5,112.97 103,113.06 103.5,112.76 104,111.5 104.5,111.35 105,109.97 105.5,111.03 106,111.65 106.5,109.83 107,110.96 107.5,110.53 108,109.6 108.5,109.37 109,109.18 109.5,108.3 110,108.42 110.5,108.3 111,108.43 111.5,108.21 112,106.82 112.5,107.44 113,105.79 113.5,105.31 114,104.57 114.5,103.12 115,101.89 115.5,101.12 116,99.79 116.5,99.31 117,99.59 117.5,100.53 118,100.11 118.5,101.83 119,101.16 119.5,99.54 120,101.76 120.5,103.69 121,103.1 121.5,103.26 122,103.37 122.5,105.2 123,105.34 123.5,105.47 124,105.65 124.5,106.68 125,106.64 125.5,105.65 126,107.4 126.5,107.44 127,107.72 127.5,108.8 128,108.83 128.5,107.44 129,110.85 129.5,111.05 130,110.86 130.5,111.24 131,112.1 131.5,111.73 132,113.08 132.5,113.23 133,113.62 133.5,113.78 134,114.36 134.5,115.68 135,116.19 135.5,116.18 136,116.28 136.5,116.23 137,117.22 137.5,117.84 138,116.68 138.5,118.1 139,116.9 139.5,117.87 140,118.35 140.5,117.8 141,117.88 141.5,118.67 142,119.02 142.5,118.53 143,119.27 143.5,118.46 144,119.49 144.5,118.87 145,118.93 145.5,119.1 146,119 146.5,119.61 147,119.76 147.5,119.12 148,118.86 148.5,118.48 149,118.65 149.5,118.96 150,118.92 150.5,118.96 151,118.99 151.5,119.19 152,118.49 152.5,118.63 153,119.47 153.5,119.38 154,118.87 154.5,119.6 155,118.87 155.5,119.06 156,118.5 156.5,119.56 157,119.28 157.5,119.73 158,119.65 158.5,119.47 159,119.55 159.5,119.99 160,119.54 160.5,119.6 161,119.74 161.5,120.06 162,120.16 162.5,120.57 163,119.89 163.5,120.42 164,119.77 164.5,120.25 165,120.11 165.5,120.71 166,120.32 166.5,119.95 167,120.29 167.5,119.93 168,119.18 168.5,118.55 169,117.62 169.5,118.61 170,117.08 170.5,117.19 171,115.98 171.5,115.78 172,116.01 172.5,115.83 173,116.11 173.5,115.08 174,115.67 174.5,116 175,114.67 175.5,115.42 176,114.34 176.5,114.83 177,114.67 177.5,115.2 178,113.75 178.5,113.99 179,114.23 179.5,112.82 180,113.21 180.5,112.49 181,112.33 181.5,112.85 182,112.6 182.5,113.42 183,112.47 183.5,112.15 184,111 184.5,110.63 185,110.55 185.5,108.64 186,110.7 186.5,108.76 187,108.04 187.5,108 188,108.48 188.5,108.37 189,106.98 189.5,107.29 190,106.82 190.5,106.16 191,106.99 191.5,107.03 192,106.18 192.5,108.19 193,106.71 193.5,108.27 194,107.8 194.5,108.38 195,109.18 195.5,111.21 196,111.46 196.5,113.51 197,115.68 197.5,115.55 198,116.48 198.5,117.37 199,117.37 199.5,118.31 200,118.31 200.5,119.26 201,119.37 201.5,119.29 202,120.39 202.5,120.02 203,120.07 203.5,119.95 204,120.21 204.5,120.44 205,120.62 205.5,121.03 206,120.27 206.5,120.68 207,121.26 207.5,120.98 208,121.1 208.5,121.54 209,121.16 209.5,121.23 210,121.08 210.5,121.69 211,121.45 211.5,120.77 212,121 212.5,120.15 213,120.6 213.5,120.11 214,119.46 214.5,119.05 215,118.25 215.5,119.07 216,118.66 216.5,118.65 217,119.23 217.5,118.96 218,119.33 218.5,119.67 219,119.83 219.5,121.51 220,120.95 220.5,121.17 221,121.76 221.5,120.58 222,121.68 222.5,121.79 223,121.57 223.5,122.1 224,121.41 224.5,122.11 225,122.44 225.5,121.56 226,121.86 226.5,122.3 227,122.39 227.5,122.25 228,122.59 228.5,122.6 229,122.18 229.5,122.58 230,122.28 230.5,122.09 231,122.04 231.5,123.07 232,122.77 232.5,123.4 233,122.46 233.5,122.8 234,123.02 234.5,122.91 235,123.12 235.5,123.05 236,122.87 236.5,122.43 237,122.86 237.5,123.64 238,123.44 238.5,123.68 239,123.24 239.5,123.45 240,123.39 240.5,123.84 241,123.89 241.5,124.12 242,124.58 242.5,124.07 243,124.59 243.5,124.2 244,124.92 244.5,124.67 245,124.86 245.5,125 246,125.42 246.5,125.1 247,125.04 247.5,124.91 248,125.23 248.5,124.98 249,125.06 249.5,125.16 250,125.32 250.5,125 251,125.31 251.5,125.55 252,124.82 252.5,125.45 253,125.62 253.5,125 254,125.26 254.5,124.81 255,125.18 255.5,125.03 256,125.16 256.5,124.88 257,124.89 257.5,124.96 258,124.89 258.5,124.9 259,124.98 259.5,124.77 260,124.98 260.5,125.11 261,124.46 261.5,125.02 262,124.79 262.5,124.7 263,124.63 263.5,124.73 264,124.75 264.5,124.98 265,124.6 265.5,125.12 266,124.68 266.5,125.02 267,125.1 267.5,124.56 268,125.08 268.5,125.33 269,124.72 269.5,124.7 270,123.95 270.5,124.41 271,124.6 271.5,124.15 272,124.69 272.5,124.93 273,124.59 273.5,125.03 274,124.87 274.5,124.43 275,124.34 275.5,125.06 276,124.61 276.5,124.01 277,124.46 277.5,124.57 278,124.92 278.5,124.91 279,124.33 279.5,124.61 280,124.84 280.5,124.33 281,124.79 281.5,124.48 282,124.29 282.5,124.44 283,124.34 283.5,124.29 284,124.6 284.5,124.65 285,124.5 285.5,124.84 286,124.28 286.5,123.45 287,124.09 287.5,124.32 288,123.74 288.5,124.46 289,124.67 289.5,124.69 290,124.65 290.5,124.11 291,123.38 291.5,123.78 292,124.47 292.5,123.83 293,124.33 293.5,124.15 294,123.58 294.5,124.44 295,124.81 295.5,123.8 296,124.03 296.5,124.66 297,124.38 297.5,124.27 298,124.19 298.5,123.44 299,123.85 299.5,124.78 300,124.23 300.5,124.29 301,124.44 301.5,123.64 302,123.85 302.5,124.17 303,124.31 303.5,124.41 304,124.46 304.5,124.15 305,124.12 305.5,124.53 306,123.66 306.5,124.16 307,123.94 307.5,123.8 308,124.11 308.5,124.67 309,123.6" fill="none" stroke="#3454E0" stroke-width="2.1" stroke-linejoin="round"/>
<polyline points="36.5,156.54 37,156.44 37.5,156.65 38,156.78 38.5,156.91 39,156.71 39.5,156.57 40,156.52 40.5,156.81 41,156.97 41.5,156.69 42,156.38 42.5,156.43 43,156.92 43.5,156.63 44,156.23 44.5,156.54 45,156.31 45.5,156.39 46,156.4 46.5,156.34 47,156.57 47.5,156.43 48,156.3 48.5,156.48 49,156.55 49.5,156.02 50,156.28 50.5,156.1 51,156.25 51.5,155.99 52,156.24 52.5,156.2 53,156.12 53.5,155.93 54,156.04 54.5,155.87 55,155.79 55.5,156.1 56,155.78 56.5,156.25 57,156.12 57.5,155.51 58,155.97 58.5,155.64 59,155.86 59.5,155.83 60,155.35 60.5,155.7 61,155.66 61.5,155.89 62,155.38 62.5,155.77 63,155.31 63.5,155.44 64,155.28 64.5,155.76 65,155.51 65.5,155.9 66,155.43 66.5,155.43 67,155.37 67.5,154.97 68,155.04 68.5,155.32 69,154.84 69.5,154.91 70,154.8 70.5,154.88 71,154.57 71.5,154.55 72,154.57 72.5,154.45 73,154.12 73.5,154.49 74,153.83 74.5,153.76 75,153.64 75.5,154.15 76,153.69 76.5,153.42 77,153.26 77.5,153.57 78,152.98 78.5,152.72 79,153.06 79.5,152.27 80,152.27 80.5,152.09 81,151.65 81.5,151.47 82,151.62 82.5,150.65 83,150.05 83.5,149.45 84,149.62 84.5,149.07 85,148.79 85.5,147.93 86,147.35 86.5,146.66 87,146.18 87.5,145.96 88,145.18 88.5,144.95 89,145.47 89.5,144.36 90,142.88 90.5,144.33 91,143.22 91.5,142.14 92,142.88 92.5,142.05 93,141.38 93.5,141.1 94,140.62 94.5,141.03 95,141.47 95.5,140.43 96,140.76 96.5,141.55 97,139.5 97.5,140.34 98,139.89 98.5,139.32 99,139.25 99.5,139.81 100,139.99 100.5,139.24 101,139.47 101.5,139.74 102,139.21 102.5,139.26 103,138.58 103.5,138.15 104,138.57 104.5,137.28 105,136.48 105.5,136.42 106,134.93 106.5,134.97 107,135.41 107.5,134.98 108,135.26 108.5,133.93 109,132.67 109.5,134.72 110,134 110.5,132.5 111,134.33 111.5,134.07 112,133.56 112.5,134.91 113,134.71 113.5,135.58 114,133.19 114.5,132.58 115,131.57 115.5,130.59 116,129.52 116.5,129.88 117,130.43 117.5,130.21 118,129.32 118.5,129.38 119,130.47 119.5,130.19 120,130.55 120.5,130.16 121,132.9 121.5,132.53 122,131.57 122.5,133.17 123,133.84 123.5,131.76 124,133.42 124.5,133.97 125,135.1 125.5,135.02 126,135.37 126.5,135.87 127,137.5 127.5,138.03 128,136.54 128.5,136.55 129,139.23 129.5,137.05 130,137.59 130.5,138.27 131,138.87 131.5,139.56 132,139.48 132.5,139.06 133,140.4 133.5,140.72 134,142.23 134.5,141.62 135,141.4 135.5,142.15 136,144.09 136.5,143.57 137,143.42 137.5,144.91 138,145.9 138.5,147.12 139,146.7 139.5,147.94 140,148.35 140.5,147.92 141,148.32 141.5,149.29 142,149.4 142.5,149.18 143,149.09 143.5,149.51 144,149.1 144.5,149.2 145,148.98 145.5,149.39 146,149.42 146.5,150.59 147,149.49 147.5,150.11 148,150.18 148.5,149.66 149,150.23 149.5,149.01 150,149.91 150.5,150.24 151,149.06 151.5,149.56 152,150.42 152.5,149.95 153,149.66 153.5,149.95 154,149.9 154.5,150.37 155,150.26 155.5,149.96 156,149.78 156.5,149.95 157,150.4 157.5,149.95 158,149.97 158.5,149.56 159,149 159.5,149.11 160,149.51 160.5,149.16 161,148.62 161.5,148.19 162,148.75 162.5,148.42 163,148.26 163.5,148.06 164,148.08 164.5,147.8 165,147.8 165.5,147.48 166,147.36 166.5,146.81 167,145.98 167.5,145.85 168,145.9 168.5,145.32 169,145.63 169.5,145.84 170,144.78 170.5,144.22 171,145.66 171.5,145.01 172,145.31 172.5,144.22 173,145.74 173.5,145.18 174,144.68 174.5,144.5 175,144.66 175.5,144.42 176,144.25 176.5,143.64 177,144.67 177.5,143.71 178,143.53 178.5,143.33 179,141.77 179.5,143.19 180,142.52 180.5,142.35 181,142.37 181.5,141.58 182,142.47 182.5,141.39 183,141.1 183.5,140.96 184,141.42 184.5,141.63 185,140.67 185.5,139.97 186,141.43 186.5,139.99 187,141.29 187.5,140.41 188,139.92 188.5,139.87 189,140.48 189.5,140.66 190,139.86 190.5,140.49 191,141.08 191.5,139.41 192,138.6 192.5,138.46 193,138.06 193.5,138.41 194,138.25 194.5,137.82 195,139.23 195.5,137.63 196,139.21 196.5,142.14 197,142.44 197.5,143.05 198,143.84 198.5,145.22 199,145.12 199.5,145.47 200,145.44 200.5,146.59 201,146.85 201.5,147.39 202,147.84 202.5,148.49 203,148.62 203.5,149.24 204,148.33 204.5,148.58 205,149.09 205.5,147.89 206,147.95 206.5,147.51 207,147.26 207.5,146.78 208,145.77 208.5,146.52 209,146.87 209.5,146.88 210,147.92 210.5,148.15 211,148.45 211.5,149.5 212,149.48 212.5,149.14 213,148.85 213.5,148.74 214,148.5 214.5,148.17 215,148.02 215.5,147.59 216,147.76 216.5,147.73 217,147.72 217.5,147.5 218,147.88 218.5,148.78 219,149.04 219.5,149.65 220,149.28 220.5,149.72 221,151.2 221.5,151.48 222,151.96 222.5,151.72 223,151.49 223.5,151.32 224,150.7 224.5,151.35 225,150.69 225.5,150.94 226,150.71 226.5,150.65 227,150.83 227.5,150.34 228,150.5 228.5,150.55 229,151 229.5,152.02 230,151.71 230.5,152.57 231,152.82 231.5,153.12 232,153.43 232.5,153.14 233,153.67 233.5,154.04 234,153.35 234.5,153.42 235,153.08 235.5,153.18 236,152.56 236.5,153.16 237,152.38 237.5,151.86 238,152.8 238.5,152.51 239,152.4 239.5,152.5 240,152.39 240.5,152.63 241,153.15 241.5,153.46 242,153.74 242.5,153.82 243,153.91 243.5,154.25 244,154.82 244.5,155.09 245,154.81 245.5,154.87 246,155.34 246.5,155.27 247,155.31 247.5,154.88 248,155.15 248.5,155.16 249,155.37 249.5,154.97 250,155.68 250.5,155.49 251,155.55 251.5,155.21 252,155.5 252.5,155.83 253,155.19 253.5,155.63 254,155.74 254.5,155.43 255,155.78 255.5,155.53 256,155.88 256.5,155.72 257,155.65 257.5,156.05 258,155.79 258.5,155.89 259,155.33 259.5,155.45 260,155.79 260.5,155.8 261,155.59 261.5,155.77 262,155.36 262.5,155.65 263,155.34 263.5,155.67 264,155.49 264.5,155.45 265,155.61 265.5,156 266,155.37 266.5,155.46 267,155.83 267.5,155.5 268,155.99 268.5,155.64 269,155.61 269.5,155.41 270,155.12 270.5,155.3 271,155.64 271.5,155.45 272,155.14 272.5,155.22 273,155.39 273.5,155.5 274,155.44 274.5,154.89 275,155.03 275.5,155.63 276,155.33 276.5,155.63 277,155.36 277.5,155.4 278,155.6 278.5,155.31 279,155.14 279.5,155.37 280,155.43 280.5,155.22 281,154.89 281.5,154.9 282,154.8 282.5,155.3 283,155.87 283.5,155.37 284,155.53 284.5,155.25 285,155.51 285.5,155.56 286,155.22 286.5,155.22 287,155.41 287.5,155.43 288,154.48 288.5,155.31 289,155.11 289.5,154.13 290,154.85 290.5,155.46 291,154.98 291.5,155.39 292,155.23 292.5,154.85 293,155.26 293.5,155.48 294,154.28 294.5,154.59 295,154.81 295.5,155.35 296,155.03 296.5,154.78 297,153.45 297.5,154.22 298,154.58 298.5,154.64 299,154.97 299.5,154.67 300,154.7 300.5,154.88 301,155.16 301.5,155.19 302,155.4 302.5,155.41 303,155.23 303.5,155.35 304,154.71 304.5,154.61 305,155.16 305.5,155.09 306,154.98 306.5,154.5 307,154.48 307.5,154.98 308,154.94 308.5,154.81 309,154.68" fill="none" stroke="#2842C8" stroke-width="2.1" stroke-linejoin="round"/>
<polyline points="36.5,185.71 37,185.83 37.5,184.96 38,185.42 38.5,185.63 39,185.67 39.5,185.52 40,185.66 40.5,185.4 41,185.44 41.5,185.34 42,185.07 42.5,185.09 43,185.32 43.5,185.1 44,185.46 44.5,185.44 45,185.52 45.5,185.12 46,185.39 46.5,184.9 47,184.89 47.5,185.05 48,185.07 48.5,184.66 49,184.6 49.5,185.02 50,184.74 50.5,185.15 51,184.95 51.5,184.91 52,184.87 52.5,184.99 53,184.74 53.5,184.98 54,184.61 54.5,184.65 55,184.52 55.5,184.78 56,184.63 56.5,184.41 57,185.01 57.5,184.47 58,184.5 58.5,184.59 59,184.87 59.5,184.41 60,184.56 60.5,184.31 61,183.76 61.5,184.07 62,183.95 62.5,183.54 63,183.63 63.5,183.37 64,183.53 64.5,183.98 65,184.38 65.5,184.25 66,184.47 66.5,184.61 67,184.4 67.5,184.49 68,184.65 68.5,184 69,184.4 69.5,183.74 70,184.21 70.5,184.08 71,183.81 71.5,183.59 72,183.73 72.5,183.54 73,183.55 73.5,183.17 74,183.4 74.5,182.86 75,182.9 75.5,182.72 76,183.01 76.5,182.08 77,182.21 77.5,182.48 78,181.76 78.5,181.39 79,181.64 79.5,181.17 80,181.11 80.5,180.02 81,179.79 81.5,179.3 82,178.74 82.5,177.14 83,177.44 83.5,175.67 84,174.63 84.5,174.18 85,174.08 85.5,173.18 86,172.86 86.5,172.13 87,171.26 87.5,170.16 88,170.73 88.5,167.57 89,167.34 89.5,167.77 90,167.08 90.5,166.2 91,167.37 91.5,167.4 92,166.27 92.5,168.47 93,168.76 93.5,168.72 94,167.56 94.5,168 95,167.15 95.5,168.04 96,167.45 96.5,168.17 97,167.67 97.5,168.59 98,168.44 98.5,168.69 99,166.76 99.5,166.57 100,168 100.5,167.28 101,167.87 101.5,167.73 102,167.57 102.5,167.99 103,167.66 103.5,167.53 104,166.53 104.5,168.2 105,167.06 105.5,167.64 106,167.05 106.5,167.62 107,166.81 107.5,166.8 108,166.68 108.5,166.06 109,166.08 109.5,166.28 110,166.21 110.5,165.53 111,167.64 111.5,165.28 112,165.47 112.5,166.75 113,163.91 113.5,163.93 114,162.86 114.5,161.26 115,159.5 115.5,158.61 116,159.04 116.5,159.01 117,157.28 117.5,158.95 118,158.63 118.5,159.96 119,159.83 119.5,159.57 120,160.22 120.5,160.94 121,162.19 121.5,163.66 122,162.15 122.5,162.25 123,162.88 123.5,162.66 124,163.33 124.5,163.39 125,163.35 125.5,163.04 126,163.91 126.5,164.64 127,164.35 127.5,165.58 128,165.49 128.5,165.09 129,166.68 129.5,165.13 130,167.04 130.5,167.89 131,166.9 131.5,167.43 132,168.57 132.5,169.34 133,169.16 133.5,169.53 134,170.52 134.5,170.73 135,170.54 135.5,171.8 136,172.57 136.5,172.44 137,174.05 137.5,174.04 138,175.24 138.5,174.6 139,175.28 139.5,175.43 140,177.02 140.5,177.37 141,177.78 141.5,178.09 142,178.15 142.5,178.4 143,177.63 143.5,178.62 144,178.47 144.5,178.67 145,178.46 145.5,179.52 146,179.21 146.5,178.72 147,179.55 147.5,179.44 148,179.19 148.5,179.54 149,179.46 149.5,179.01 150,179.35 150.5,180.11 151,180.12 151.5,180.14 152,179.69 152.5,179.93 153,180.18 153.5,180.41 154,179.91 154.5,179.84 155,180.58 155.5,180.2 156,180.03 156.5,179.88 157,179.86 157.5,180.58 158,180.32 158.5,179.78 159,179.42 159.5,180.36 160,180.25 160.5,180.04 161,179.82 161.5,178.75 162,178.86 162.5,179.43 163,179.01 163.5,179.1 164,178.69 164.5,178.53 165,178.86 165.5,178.33 166,178.28 166.5,178.15 167,177.88 167.5,177.99 168,177.79 168.5,176.35 169,176.52 169.5,176.08 170,176.44 170.5,175.37 171,175.97 171.5,175.71 172,175.44 172.5,174.48 173,174.62 173.5,173.97 174,174.47 174.5,174.52 175,173.04 175.5,173.14 176,173.22 176.5,172.76 177,173.55 177.5,172.37 178,172.27 178.5,171.16 179,172.25 179.5,170.99 180,170.83 180.5,169.87 181,167.91 181.5,167.64 182,167.24 182.5,167.85 183,166.68 183.5,166.82 184,166.31 184.5,165.93 185,166.02 185.5,165.16 186,163.59 186.5,163.88 187,165.13 187.5,163.02 188,164.42 188.5,164.43 189,162.83 189.5,163.43 190,162.35 190.5,164 191,163.25 191.5,163.25 192,164.27 192.5,164.67 193,165.05 193.5,166.03 194,166.32 194.5,166.65 195,168.47 195.5,170.21 196,169.53 196.5,169.91 197,170.56 197.5,172.19 198,172.42 198.5,173.32 199,173.11 199.5,174.36 200,175.14 200.5,176.81 201,176.91 201.5,176.52 202,178.09 202.5,178.53 203,178.58 203.5,176.78 204,177.66 204.5,177.55 205,177.04 205.5,176.22 206,175.07 206.5,175.3 207,175.05 207.5,175.3 208,175.32 208.5,175.08 209,175.91 209.5,175.48 210,176.17 210.5,177 211,177.78 211.5,177.89 212,178.87 212.5,178.79 213,178.34 213.5,178.66 214,178.14 214.5,177.88 215,177.42 215.5,178.25 216,177.74 216.5,176.38 217,177.23 217.5,176.91 218,176.13 218.5,176.38 219,177.1 219.5,176.35 220,176.74 220.5,177.52 221,177.23 221.5,177.82 222,178.47 222.5,179.59 223,180.46 223.5,180.29 224,180.34 224.5,180.86 225,180.65 225.5,180.91 226,180.6 226.5,180.5 227,180.44 227.5,180.4 228,179.99 228.5,179.88 229,180.76 229.5,181.26 230,180.66 230.5,179.88 231,180.62 231.5,181.22 232,180.59 232.5,181.22 233,181.54 233.5,181.68 234,181.98 234.5,182.75 235,182.56 235.5,182.78 236,183.45 236.5,182.93 237,182.82 237.5,183.62 238,184.1 238.5,183.79 239,183.94 239.5,183.67 240,183.85 240.5,184.48 241,184.48 241.5,184.35 242,184.07 242.5,183.96 243,184 243.5,183.98 244,184.4 244.5,184.08 245,184.16 245.5,184.44 246,184.44 246.5,184.31 247,184.41 247.5,184.31 248,183.88 248.5,184.31 249,184.24 249.5,184.26 250,184.4 250.5,184.23 251,184.64 251.5,184.33 252,184.42 252.5,184.46 253,184.35 253.5,184.55 254,184.58 254.5,184.56 255,184.26 255.5,184.22 256,184.29 256.5,184.44 257,184.02 257.5,184.26 258,184.2 258.5,184.31 259,184.26 259.5,184.65 260,184.58 260.5,184.7 261,184.27 261.5,184.32 262,184.43 262.5,184.87 263,184.88 263.5,184.38 264,184.66 264.5,185 265,184.3 265.5,184.49 266,184.83 266.5,184.71 267,184.33 267.5,184.89 268,184.78 268.5,184.72 269,184.29 269.5,184.5 270,184.75 270.5,184.63 271,184.74 271.5,184.47 272,184.9 272.5,184.52 273,184.73 273.5,184.64 274,184.26 274.5,184.49 275,184.12 275.5,184.43 276,184.56 276.5,184.27 277,184.14 277.5,184.32 278,184.39 278.5,184.33 279,183.95 279.5,184.73 280,184.49 280.5,184.98 281,184.6 281.5,184.44 282,183.45 282.5,184.01 283,184.64 283.5,184.56 284,184.36 284.5,184.68 285,184.71 285.5,184.46 286,184.23 286.5,184.19 287,184.47 287.5,184.69 288,184.71 288.5,184.4 289,184.6 289.5,184.37 290,184.55 290.5,184.7 291,184.25 291.5,184.22 292,184.5 292.5,184.37 293,184.49 293.5,184.49 294,184.31 294.5,184.4 295,184.4 295.5,184.26 296,184.61 296.5,185 297,184.08 297.5,184.46 298,184.76 298.5,184.65 299,185.12 299.5,184.44 300,183.88 300.5,184.12 301,184.73 301.5,184.47 302,184.5 302.5,184.42 303,184.13 303.5,184.59 304,184.27 304.5,185 305,184 305.5,184.21 306,184.11 306.5,184.48 307,184.54 307.5,184.5 308,184.61 308.5,184.69 309,184.72" fill="none" stroke="#1C2C88" stroke-width="2.1" stroke-linejoin="round"/>
<polyline points="36.5,215.4 37,215.46 37.5,215.35 38,215.22 38.5,215.31 39,215.2 39.5,215.4 40,215.65 40.5,215.29 41,215.26 41.5,215.47 42,215.44 42.5,215.39 43,215.18 43.5,215.35 44,215.49 44.5,215.08 45,215.24 45.5,214.95 46,215.06 46.5,214.94 47,215.25 47.5,215.04 48,215.33 48.5,215.3 49,215.21 49.5,214.74 50,215.12 50.5,215.2 51,215.22 51.5,214.87 52,215.07 52.5,214.95 53,214.97 53.5,215.33 54,214.93 54.5,215.07 55,215.24 55.5,214.92 56,214.99 56.5,215.02 57,214.95 57.5,214.58 58,214.73 58.5,214.86 59,214.05 59.5,214.41 60,214.07 60.5,213.73 61,214.21 61.5,213.8 62,213.24 62.5,213.52 63,213.66 63.5,213.53 64,213.84 64.5,213.78 65,214.1 65.5,214.43 66,214.11 66.5,214.46 67,214.45 67.5,214.7 68,214.5 68.5,214.67 69,214.76 69.5,214.98 70,215.01 70.5,214.45 71,214.51 71.5,214.77 72,214.13 72.5,214.39 73,214.39 73.5,214.6 74,214.38 74.5,214.04 75,213.91 75.5,213.82 76,214.11 76.5,213.51 77,213.39 77.5,213.34 78,212.89 78.5,212.46 79,211.71 79.5,211.47 80,210.74 80.5,210.63 81,209.81 81.5,208.91 82,208.52 82.5,207.48 83,207.44 83.5,206.36 84,205.92 84.5,204.27 85,204.26 85.5,202.4 86,201.37 86.5,201.52 87,200.43 87.5,200.38 88,201.07 88.5,198.69 89,198.46 89.5,198.73 90,198.7 90.5,198.07 91,197.87 91.5,198.32 92,198.06 92.5,196.89 93,197.39 93.5,197.34 94,196.48 94.5,197.22 95,196.32 95.5,197.38 96,196.67 96.5,196.39 97,195.71 97.5,195.8 98,194.32 98.5,194.68 99,195.47 99.5,193.63 100,195.46 100.5,193.62 101,195.22 101.5,194.14 102,195.3 102.5,195.04 103,194.17 103.5,196.31 104,196.74 104.5,196.04 105,196.18 105.5,196.48 106,196.09 106.5,197.53 107,196.39 107.5,196.56 108,195.84 108.5,195.66 109,194.88 109.5,196.19 110,194.84 110.5,195.18 111,194.15 111.5,193.31 112,193.18 112.5,192.57 113,192.44 113.5,191.65 114,191.17 114.5,189.94 115,189.86 115.5,191.13 116,189.31 116.5,188.91 117,189.84 117.5,190.63 118,188.86 118.5,189.88 119,189.82 119.5,189.32 120,191.26 120.5,191.02 121,191.36 121.5,191.06 122,192.09 122.5,191.64 123,192.12 123.5,191.69 124,191.83 124.5,193.74 125,192.74 125.5,193.5 126,193.53 126.5,193.51 127,193.75 127.5,194.8 128,194.5 128.5,194.96 129,195.49 129.5,196.72 130,196.89 130.5,197.22 131,197.14 131.5,197.18 132,199.27 132.5,199.83 133,199.7 133.5,200.68 134,201.44 134.5,202.11 135,202.82 135.5,202.76 136,204.44 136.5,203.69 137,205.3 137.5,205.64 138,206.24 138.5,207.04 139,207.19 139.5,206.39 140,206.49 140.5,207.82 141,207.36 141.5,208.02 142,208.58 142.5,207.84 143,207.86 143.5,208.91 144,208.95 144.5,208.95 145,209.14 145.5,208.91 146,208.76 146.5,209.33 147,209.12 147.5,208.96 148,209.79 148.5,209.66 149,209.88 149.5,209.46 150,209.63 150.5,209.56 151,209.65 151.5,210.05 152,209.76 152.5,210.17 153,210.19 153.5,210.77 154,209.63 154.5,210.4 155,210.06 155.5,210.07 156,209.55 156.5,209.84 157,210.19 157.5,209.84 158,209.83 158.5,209.62 159,210.04 159.5,209.53 160,208.67 160.5,209.1 161,208.55 161.5,207.98 162,208.87 162.5,209.46 163,208.89 163.5,208.36 164,208.36 164.5,209.06 165,208.63 165.5,208.54 166,208.45 166.5,208.44 167,208.68 167.5,208.54 168,208.36 168.5,207.82 169,208.36 169.5,207.82 170,208.43 170.5,207.38 171,207.68 171.5,207.55 172,206.79 172.5,207.8 173,207.42 173.5,206.3 174,206.51 174.5,206 175,204.26 175.5,205.2 176,204.66 176.5,204.33 177,203.35 177.5,203.34 178,202.97 178.5,203.28 179,202.33 179.5,201.6 180,201.9 180.5,200.06 181,199.5 181.5,197.94 182,199.45 182.5,198.43 183,197.79 183.5,197.05 184,196.16 184.5,195.77 185,195.07 185.5,194.76 186,194.62 186.5,195.28 187,194.31 187.5,193.52 188,192.73 188.5,192.15 189,192.64 189.5,190.66 190,189.36 190.5,188.79 191,188.99 191.5,191.02 192,193.13 192.5,193.44 193,194.32 193.5,195.01 194,195.85 194.5,195.28 195,196.74 195.5,196.88 196,198.62 196.5,198.17 197,199.75 197.5,201.14 198,200.98 198.5,201.81 199,203.25 199.5,204.14 200,204.62 200.5,206.17 201,207.58 201.5,207.22 202,207.68 202.5,207.57 203,208.08 203.5,207.23 204,206.88 204.5,207.37 205,205.85 205.5,206.14 206,205.79 206.5,204.69 207,204.44 207.5,204.92 208,203.82 208.5,203.82 209,203.82 209.5,204.98 210,206.21 210.5,206.56 211,206.31 211.5,206.89 212,207.46 212.5,208.04 213,207.92 213.5,207.95 214,207.68 214.5,207.01 215,206.59 215.5,206.1 216,205.35 216.5,205.01 217,205.11 217.5,203.97 218,203.3 218.5,202.11 219,203.11 219.5,202.05 220,202.82 220.5,204.66 221,205.44 221.5,206 222,206.35 222.5,207.87 223,208.62 223.5,209.78 224,210.77 224.5,210.28 225,210.1 225.5,210.11 226,210.6 226.5,210.67 227,210.45 227.5,210.94 228,210.62 228.5,211.4 229,211.46 229.5,211.53 230,211.13 230.5,211.51 231,211.4 231.5,211.42 232,211.54 232.5,211.36 233,211.42 233.5,212.18 234,211.99 234.5,212.21 235,212.53 235.5,211.87 236,212.23 236.5,212.59 237,212.74 237.5,212.62 238,213.08 238.5,212.95 239,212.67 239.5,212.84 240,213.39 240.5,213.39 241,212.9 241.5,213.8 242,213.71 242.5,213.97 243,213.64 243.5,213.74 244,213.62 244.5,214.55 245,213.98 245.5,214.44 246,213.97 246.5,214.19 247,213.8 247.5,214.11 248,214.43 248.5,213.92 249,214.45 249.5,214.24 250,213.82 250.5,214.03 251,214.02 251.5,213.89 252,213.95 252.5,214.03 253,214.12 253.5,213.98 254,213.74 254.5,213.52 255,214.09 255.5,213.87 256,214.12 256.5,214.05 257,214.02 257.5,214.38 258,214.11 258.5,214.59 259,214.02 259.5,214.33 260,214.16 260.5,213.86 261,214.29 261.5,214.16 262,214.1 262.5,214.12 263,213.76 263.5,213.28 264,213.82 264.5,214.44 265,213.83 265.5,214.17 266,213.89 266.5,214.32 267,214.01 267.5,213.87 268,214.14 268.5,214.49 269,213.92 269.5,213.86 270,214.05 270.5,213.97 271,214.03 271.5,213.96 272,214.13 272.5,214.32 273,214.1 273.5,214.33 274,213.75 274.5,213.89 275,213.87 275.5,214.51 276,214.16 276.5,214.38 277,214.23 277.5,214.33 278,214.1 278.5,213.88 279,213.68 279.5,213.92 280,213.82 280.5,213.91 281,214.33 281.5,213.85 282,213.81 282.5,213.88 283,213.69 283.5,214.38 284,213.71 284.5,214.36 285,214.07 285.5,214.33 286,213.21 286.5,213.85 287,213.88 287.5,213.6 288,214.41 288.5,214.54 289,214.21 289.5,214.15 290,213.51 290.5,212.78 291,213.62 291.5,214.3 292,214.14 292.5,214.03 293,214.11 293.5,213.49 294,214.23 294.5,214.58 295,213.59 295.5,213.83 296,214.27 296.5,213.88 297,214.04 297.5,214.15 298,213.4 298.5,214.15 299,214.31 299.5,214.23 300,214.25 300.5,214.19 301,214.02 301.5,214.26 302,213.96 302.5,213.4 303,213.87 303.5,213.81 304,213.46 304.5,213.62 305,214.24 305.5,214.27 306,213.91 306.5,214.38 307,214.29 307.5,214.29 308,214.08 308.5,213.56 309,213.8" fill="none" stroke="#101A55" stroke-width="2.1" stroke-linejoin="round"/>
<rect x="36.1" y="7.85" width="273" height="207.6" fill="none" stroke="#000" stroke-width="1.3"/>
<line x1="70.21" y1="215.45" x2="70.21" y2="213.25" stroke="#000" stroke-width="1.1"/>
<line x1="104.32" y1="215.45" x2="104.32" y2="212.25" stroke="#000" stroke-width="1.1"/>
<line x1="138.44" y1="215.45" x2="138.44" y2="213.25" stroke="#000" stroke-width="1.1"/>
<line x1="172.55" y1="215.45" x2="172.55" y2="212.25" stroke="#000" stroke-width="1.1"/>
<line x1="206.66" y1="215.45" x2="206.66" y2="213.25" stroke="#000" stroke-width="1.1"/>
<line x1="240.77" y1="215.45" x2="240.77" y2="212.25" stroke="#000" stroke-width="1.1"/>
<line x1="274.89" y1="215.45" x2="274.89" y2="213.25" stroke="#000" stroke-width="1.1"/>
<text transform="translate(36.1,229.6) scale(1.11,1)" font-size="10" text-anchor="middle" fill="#000">3000</text>
<text transform="translate(104.32,229.6) scale(1.11,1)" font-size="10" text-anchor="middle" fill="#000">3500</text>
<text transform="translate(172.55,229.6) scale(1.11,1)" font-size="10" text-anchor="middle" fill="#000">4000</text>
<text transform="translate(240.77,229.6) scale(1.11,1)" font-size="10" text-anchor="middle" fill="#000">4500</text>
<text transform="translate(309,229.6) scale(1.11,1)" font-size="10" text-anchor="middle" fill="#000">5000</text>
<text transform="translate(172.4,245.6) scale(1.11,1)" font-size="10" text-anchor="middle" fill="#000">Wavelength (nm)</text>
<text transform="translate(24.9,111.8) rotate(-90)" font-size="11.1" text-anchor="middle" fill="#000">Intensity (a.u.)</text>
<text transform="translate(41.3,18.8) scale(1.11,1)" font-size="10" text-anchor="start" fill="#000">Input:</text>
<text transform="translate(41,33.7) scale(1.11,1)" font-size="10" text-anchor="start" fill="#000">18.9 nJ</text>
<text transform="translate(41,60.9) scale(1.11,1)" font-size="10" text-anchor="start" fill="#000">60.1 nJ</text>
<text transform="translate(41,91.1) scale(1.11,1)" font-size="10" text-anchor="start" fill="#000">99.8 nJ</text>
<text transform="translate(41,119.7) scale(1.11,1)" font-size="10" text-anchor="start" fill="#000">139.6 nJ</text>
<text transform="translate(41,148.8) scale(1.11,1)" font-size="10" text-anchor="start" fill="#000">224.6 nJ</text>
<text transform="translate(41,179) scale(1.11,1)" font-size="10" text-anchor="start" fill="#000">259 nJ</text>
<text transform="translate(41,209.7) scale(1.11,1)" font-size="10" text-anchor="start" fill="#000">260 nJ</text>
<text transform="translate(296.8,23.1) scale(1.11,1)" font-size="10" text-anchor="end" fill="#AFBDF6">0.34 nJ</text>
<text transform="translate(296.8,57.8) scale(1.11,1)" font-size="10" text-anchor="end" fill="#8EA2F6">1.61 nJ</text>
<text transform="translate(296.8,88.6) scale(1.11,1)" font-size="10" text-anchor="end" fill="#6A86F2">3.26 nJ</text>
<text transform="translate(296.8,118.5) scale(1.11,1)" font-size="10" text-anchor="end" fill="#3454E0">4.75 nJ</text>
<text transform="translate(296.8,148.1) scale(1.11,1)" font-size="10" text-anchor="end" fill="#2842C8">5.97 nJ</text>
<text transform="translate(296.8,177.5) scale(1.11,1)" font-size="10" text-anchor="end" fill="#1C2C88">6.62 nJ</text>
<text transform="translate(296.8,207.3) scale(1.11,1)" font-size="10" text-anchor="end" fill="#101A55">7.10 nJ</text>
<text transform="translate(339.4,11.3) scale(1.08,1)" font-size="15.5" text-anchor="start" fill="#000" font-weight="bold">b</text>
<path d="M375.5,6.8 L636.6,6.8 M375.5,6.8 L375.5,217 L636.6,217" fill="none" stroke="#000" stroke-width="1.3"/>
<line x1="636.6" y1="6.2" x2="636.6" y2="217.6" stroke="#3448D0" stroke-width="1.3"/>
<line x1="397.34" y1="217" x2="397.34" y2="215" stroke="#000" stroke-width="1.1"/>
<line x1="419.19" y1="217" x2="419.19" y2="213.8" stroke="#000" stroke-width="1.1"/>
<line x1="441.03" y1="217" x2="441.03" y2="215" stroke="#000" stroke-width="1.1"/>
<line x1="462.87" y1="217" x2="462.87" y2="213.8" stroke="#000" stroke-width="1.1"/>
<line x1="484.71" y1="217" x2="484.71" y2="215" stroke="#000" stroke-width="1.1"/>
<line x1="506.56" y1="217" x2="506.56" y2="213.8" stroke="#000" stroke-width="1.1"/>
<line x1="528.4" y1="217" x2="528.4" y2="215" stroke="#000" stroke-width="1.1"/>
<line x1="550.24" y1="217" x2="550.24" y2="213.8" stroke="#000" stroke-width="1.1"/>
<line x1="572.08" y1="217" x2="572.08" y2="215" stroke="#000" stroke-width="1.1"/>
<line x1="593.92" y1="217" x2="593.92" y2="213.8" stroke="#000" stroke-width="1.1"/>
<line x1="615.77" y1="217" x2="615.77" y2="215" stroke="#000" stroke-width="1.1"/>
<text transform="translate(375.5,231.7) scale(1.11,1)" font-size="10" text-anchor="middle" fill="#000">0</text>
<text transform="translate(419.19,231.7) scale(1.11,1)" font-size="10" text-anchor="middle" fill="#000">50</text>
<text transform="translate(462.87,231.7) scale(1.11,1)" font-size="10" text-anchor="middle" fill="#000">100</text>
<text transform="translate(506.56,231.7) scale(1.11,1)" font-size="10" text-anchor="middle" fill="#000">150</text>
<text transform="translate(550.24,231.7) scale(1.11,1)" font-size="10" text-anchor="middle" fill="#000">200</text>
<text transform="translate(593.92,231.7) scale(1.11,1)" font-size="10" text-anchor="middle" fill="#000">250</text>
<text transform="translate(637.61,231.7) scale(1.11,1)" font-size="10" text-anchor="middle" fill="#000">300</text>
<line x1="375.5" y1="206.8" x2="378.7" y2="206.8" stroke="#000" stroke-width="1.1"/>
<line x1="375.5" y1="181.8" x2="377.5" y2="181.8" stroke="#000" stroke-width="1.1"/>
<line x1="375.5" y1="156.8" x2="378.7" y2="156.8" stroke="#000" stroke-width="1.1"/>
<line x1="375.5" y1="131.8" x2="377.5" y2="131.8" stroke="#000" stroke-width="1.1"/>
<line x1="375.5" y1="106.8" x2="378.7" y2="106.8" stroke="#000" stroke-width="1.1"/>
<line x1="375.5" y1="81.8" x2="377.5" y2="81.8" stroke="#000" stroke-width="1.1"/>
<line x1="375.5" y1="56.8" x2="378.7" y2="56.8" stroke="#000" stroke-width="1.1"/>
<line x1="375.5" y1="31.8" x2="377.5" y2="31.8" stroke="#000" stroke-width="1.1"/>
<text transform="translate(371.3,211.7) scale(1.11,1)" font-size="10" text-anchor="end" fill="#000">0</text>
<text transform="translate(371.3,161.7) scale(1.11,1)" font-size="10" text-anchor="end" fill="#000">5</text>
<text transform="translate(371.3,111.7) scale(1.11,1)" font-size="10" text-anchor="end" fill="#000">10</text>
<text transform="translate(371.3,61.7) scale(1.11,1)" font-size="10" text-anchor="end" fill="#000">15</text>
<text transform="translate(371.3,11.7) scale(1.11,1)" font-size="10" text-anchor="end" fill="#000">20</text>
<line x1="636.6" y1="181.97" x2="634.6" y2="181.97" stroke="#3448D0" stroke-width="1.1"/>
<line x1="636.6" y1="146.94" x2="633.4" y2="146.94" stroke="#3448D0" stroke-width="1.1"/>
<line x1="636.6" y1="111.91" x2="634.6" y2="111.91" stroke="#3448D0" stroke-width="1.1"/>
<line x1="636.6" y1="76.88" x2="633.4" y2="76.88" stroke="#3448D0" stroke-width="1.1"/>
<line x1="636.6" y1="41.85" x2="634.6" y2="41.85" stroke="#3448D0" stroke-width="1.1"/>
<text transform="translate(642.6,220.5) scale(1.11,1)" font-size="10" text-anchor="start" fill="#1E22A8">0</text>
<text transform="translate(642.6,150.44) scale(1.11,1)" font-size="10" text-anchor="start" fill="#1E22A8">20</text>
<text transform="translate(642.6,80.38) scale(1.11,1)" font-size="10" text-anchor="start" fill="#1E22A8">40</text>
<text transform="translate(642.6,10.32) scale(1.11,1)" font-size="10" text-anchor="start" fill="#1E22A8">60</text>
<text transform="translate(506.7,248.1) scale(1.11,1)" font-size="10" text-anchor="middle" fill="#000">Incident pulse energy (nJ)</text>
<text transform="translate(349.5,110.4) rotate(-90)" font-size="11.1" text-anchor="middle" fill="#000">Pulse energy (nJ)</text>
<text transform="translate(671.8,111.9) rotate(-90)" font-size="11.1" text-anchor="middle" fill="#4A5ED8">Power conversion ratio (%)</text>
<polyline points="392.01,203.4 428.01,190.7 462.7,174.2 497.47,159.3 571.73,147.1 601.79,140.6 602.66,135.8" fill="none" stroke="#000" stroke-width="2.0" stroke-linejoin="round"/>
<polyline points="392.01,169.01 428.01,118.22 462.7,91.24 497.47,82.13 571.73,83.54 601.79,79.33 602.66,70.57" fill="none" stroke="#3448D0" stroke-width="2.0" stroke-linejoin="round"/>
<ellipse cx="461.5" cy="91.7" rx="16" ry="9.4" fill="none" stroke="#7088E8" stroke-width="1" stroke-dasharray="3,2.2"/>
<ellipse cx="571.8" cy="147.6" rx="16.6" ry="9.6" fill="none" stroke="#555" stroke-width="1" stroke-dasharray="3,2.2"/>
<path d="M478.2,88.4 L479.2,92.5 L495.5,92.5" fill="none" stroke="#3448D0" stroke-width="1.1"/>
<path d="M500.2,92.5 L494.8,89.9 L494.8,95.1 Z" fill="#3448D0"/>
<path d="M555.2,146.1 L539.5,146.1" fill="none" stroke="#000" stroke-width="1.1"/>
<path d="M534.3,146.1 L539.8,143.5 L539.8,148.7 Z" fill="#000"/>
<circle cx="392.01" cy="203.4" r="4.75" fill="url(#gk)"/>
<circle cx="428.01" cy="190.7" r="4.75" fill="url(#gk)"/>
<circle cx="462.7" cy="174.2" r="4.75" fill="url(#gk)"/>
<circle cx="497.47" cy="159.3" r="4.75" fill="url(#gk)"/>
<circle cx="571.73" cy="147.1" r="4.75" fill="url(#gk)"/>
<circle cx="601.79" cy="140.6" r="4.75" fill="url(#gk)"/>
<circle cx="602.66" cy="135.8" r="4.75" fill="url(#gk)"/>
<circle cx="392.01" cy="169.01" r="4.75" fill="url(#gb)"/>
<circle cx="428.01" cy="118.22" r="4.75" fill="url(#gb)"/>
<circle cx="462.7" cy="91.24" r="4.75" fill="url(#gb)"/>
<circle cx="497.47" cy="82.13" r="4.75" fill="url(#gb)"/>
<circle cx="571.73" cy="83.54" r="4.75" fill="url(#gb)"/>
<circle cx="601.79" cy="79.33" r="4.75" fill="url(#gb)"/>
<circle cx="602.66" cy="70.57" r="4.75" fill="url(#gb)"/>
<text transform="translate(381,192.9) scale(1.11,1)" font-size="10" text-anchor="start" fill="#000">0.34 nJ</text>
<text transform="translate(402.3,169.8) scale(1.11,1)" font-size="10" text-anchor="start" fill="#1E22A8">13.7%</text>
<text transform="translate(435,126.8) scale(1.11,1)" font-size="10" text-anchor="start" fill="#1E22A8">28.2%</text>
<text transform="translate(591.2,59.8) scale(1.11,1)" font-size="10" text-anchor="start" fill="#1E22A8">41.7%</text>
<text transform="translate(599.2,125.9) scale(1.11,1)" font-size="10" text-anchor="start" fill="#000">7 nJ</text>
<text transform="translate(-0.6,280.7) scale(1.08,1)" font-size="15.5" text-anchor="start" fill="#000" font-weight="bold">c</text>
<polyline points="90,366.9 90.4,366.9 90.8,366.9 91.2,366.9 91.6,366.9 92,366.9 92.4,366.9 92.8,366.9 93.2,366.9 93.6,366.9 94,366.9 94.4,366.9 94.8,366.9 95.2,366.9 95.6,366.9 96,366.9 96.4,366.9 96.8,366.9 97.2,366.9 97.6,366.9 98,366.9 98.4,366.9 98.8,366.9 99.2,366.9 99.6,366.9 100,366.9 100.4,366.9 100.8,366.9 101.2,366.9 101.6,366.9 102,366.9 102.4,366.9 102.8,366.9 103.2,366.9 103.6,366.9 104,366.9 104.4,366.89 104.8,366.89 105.2,366.89 105.6,366.89 106,366.89 106.4,366.89 106.8,366.89 107.2,366.88 107.6,366.88 108,366.88 108.4,366.88 108.8,366.87 109.2,366.87 109.6,366.87 110,366.86 110.4,366.86 110.8,366.86 111.2,366.85 111.6,366.85 112,366.84 112.4,366.84 112.8,366.83 113.2,366.83 113.6,366.82 114,366.82 114.4,366.81 114.8,366.81 115.2,366.8 115.6,366.79 116,366.79 116.4,366.78 116.8,366.77 117.2,366.76 117.6,366.76 118,366.75 118.4,366.74 118.8,366.73 119.2,366.72 119.6,366.71 120,366.7 120.4,366.69 120.8,366.68 121.2,366.67 121.6,366.66 122,366.65 122.4,366.63 122.8,366.62 123.2,366.61 123.6,366.59 124,366.58 124.4,366.57 124.8,366.55 125.2,366.54 125.6,366.52 126,366.51 126.4,366.49 126.8,366.47 127.2,366.46 127.6,366.44 128,366.42 128.4,366.4 128.8,366.32 129.2,366.05 129.6,365.59 130,364.97 130.4,364.23 130.8,363.38 131.2,362.46 131.6,361.47 132,360.46 132.4,359.44 132.8,358.22 133.2,356.75 133.6,355.08 134,353.26 134.4,351.3 134.8,349.27 135.2,347.2 135.6,345.13 136,343.1 136.4,341.06 136.8,338.88 137.2,336.57 137.6,334.21 138,331.82 138.4,329.47 138.8,327.2 139.2,325.07 139.6,323.11 140,321.38 140.4,319.6 140.8,317.77 141.2,316.01 141.6,314.46 142,313.24 142.4,312.48 142.8,312.32 143.2,312.73 143.6,313.61 144,314.89 144.4,316.48 144.8,318.3 145.2,320.27 145.6,322.35 146,325.23 146.4,329.02 146.8,333.44 147.2,338.22 147.6,343.11 148,347.82 148.4,352.1 148.8,356.74 149.2,361.69 149.6,365.39 150,366.34 150.4,365.03 150.8,362.47 151.2,359.24 151.6,355.93 152,353.13 152.4,351.22 152.8,349.4 153.2,347.66 153.6,346.16 154,345.05 154.4,344.52 154.8,344.82 155.2,346.1 155.6,348.09 156,350.49 156.4,353.02 156.8,355.37 157.2,357.69 157.6,360.56 158,363.38 158.4,365.54 158.8,366.4 159.2,365.77 159.6,364.08 160,361.58 160.4,358.55 160.8,355.26 161.2,351.98 161.6,348.98 162,346.14 162.4,342.8 162.8,339.15 163.2,335.45 163.6,331.94 164,328.85 164.4,326.45 164.8,324.96 165.2,324.66 165.6,326.02 166,328.82 166.4,332.63 166.8,337 167.2,341.49 167.6,345.65 168,349.12 168.4,352.79 168.8,356.74 169.2,360.45 169.6,363.43 170,365.16 170.4,365.25 170.8,364.12 171.2,362.14 171.6,359.61 172,356.82 172.4,354.06 172.8,351.63 173.2,349.79 173.6,348.09 174,346.34 174.4,344.59 174.8,342.92 175.2,341.38 175.6,340.05 176,338.99 176.4,338.25 176.8,337.91 177.2,338.01 177.6,338.45 178,339.17 178.4,340.1 178.8,341.19 179.2,342.36 179.6,343.55 180,344.7 180.4,345.74 180.8,346.6 181.2,347.42 181.6,348.23 182,349.04 182.4,349.85 182.8,350.64 183.2,351.41 183.6,352.15 184,352.86 184.4,353.53 184.8,354.15 185.2,354.73 185.6,355.26 186,355.77 186.4,356.26 186.8,356.73 187.2,357.19 187.6,357.63 188,358.06 188.4,358.46 188.8,358.85 189.2,359.22 189.6,359.57 190,359.9 190.4,360.21 190.8,360.5 191.2,360.77 191.6,361.04 192,361.31 192.4,361.58 192.8,361.85 193.2,362.11 193.6,362.36 194,362.6 194.4,362.81 194.8,363.01 195.2,363.17 195.6,363.31 196,363.41 196.4,363.48 196.8,363.5 197.2,363.5 197.6,363.5 198,363.5 198.4,363.5 198.8,363.5 199.2,363.5 199.6,363.5 200,363.5 200.4,363.5 200.8,363.5 201.2,363.5 201.6,363.5 202,363.5 202.4,363.5 202.8,363.5 203.2,363.5 203.6,363.49 204,363.45 204.4,363.36 204.8,363.24 205.2,363.09 205.6,362.92 206,362.73 206.4,362.53 206.8,362.32 207.2,362.12 207.6,361.92 208,361.74 208.4,361.57 208.8,361.43 209.2,361.31 209.6,361.24 210,361.2 210.4,361.2 210.8,361.21 211.2,361.23 211.6,361.26 212,361.3 212.4,361.34 212.8,361.4 213.2,361.46 213.6,361.52 214,361.6 214.4,361.68 214.8,361.76 215.2,361.85 215.6,361.95 216,362.07 216.4,362.33 216.8,362.7 217.2,363.13 217.6,363.57 218,363.97 218.4,364.29 218.8,364.47 219.2,364.49 219.6,364.42 220,364.29 220.4,364.13 220.8,363.96 221.2,363.8 221.6,363.68 222,363.6 222.4,363.56 222.8,363.52 223.2,363.48 223.6,363.44 224,363.41 224.4,363.38 224.8,363.36 225.2,363.34 225.6,363.32 226,363.31 226.4,363.3 226.8,363.3 227.2,363.36 227.6,363.53 228,363.77 228.4,364.08 228.8,364.43 229.2,364.78 229.6,365.14 230,365.45 230.4,365.72 230.8,365.91 231.2,366 231.6,365.94 232,365.66 232.4,365.2 232.8,364.56 233.2,363.79 233.6,362.89 234,361.9 234.4,360.83 234.8,359.72 235.2,358.59 235.6,357.46 236,356.32 236.4,354.98 236.8,353.46 237.2,351.77 237.6,349.96 238,348.06 238.4,346.1 238.8,344.12 239.2,342.14 239.6,340.21 240,338.35 240.4,336.6 240.8,334.86 241.2,333.03 241.6,331.14 242,329.24 242.4,327.36 242.8,325.54 243.2,323.83 243.6,322.24 244,320.84 244.4,319.64 244.8,318.69 245.2,317.95 245.6,317.23 246,316.56 246.4,315.97 246.8,315.51 247.2,315.21 247.6,315.1 248,315.21 248.4,315.52 248.8,316 249.2,316.63 249.6,317.38 250,318.22 250.4,319.13 250.8,320.16 251.2,321.76 251.6,323.87 252,326.36 252.4,329.07 252.8,331.86 253.2,334.6 253.6,337.13 254,339.32 254.4,341.4 254.8,343.46 255.2,345.49 255.6,347.47 256,349.36 256.4,351.15 256.8,352.82 257.2,354.34 257.6,355.75 258,357.16 258.4,358.53 258.8,359.84 259.2,361.05 259.6,362.14 260,363.06 260.4,363.79 260.8,364.31 261.2,364.75 261.6,365.16 262,365.54 262.4,365.88 262.8,366.16 263.2,366.38 263.6,366.53 264,366.6 264.4,366.6 264.8,366.61 265.2,366.61 265.6,366.61 266,366.62 266.4,366.62 266.8,366.62 267.2,366.62 267.6,366.63 268,366.63 268.4,366.63 268.8,366.64 269.2,366.64 269.6,366.64 270,366.65 270.4,366.65 270.8,366.65 271.2,366.65 271.6,366.66 272,366.66 272.4,366.66 272.8,366.67 273.2,366.67 273.6,366.67 274,366.67 274.4,366.68 274.8,366.68 275.2,366.68 275.6,366.68 276,366.69 276.4,366.69 276.8,366.69 277.2,366.69 277.6,366.7 278,366.7 278.4,366.7 278.8,366.7 279.2,366.71 279.6,366.71 280,366.71 280.4,366.71 280.8,366.72 281.2,366.72 281.6,366.72 282,366.72 282.4,366.73 282.8,366.73 283.2,366.73 283.6,366.73 284,366.73 284.4,366.74 284.8,366.74 285.2,366.74 285.6,366.74 286,366.75 286.4,366.75 286.8,366.75 287.2,366.75 287.6,366.75 288,366.76 288.4,366.76 288.8,366.76 289.2,366.76 289.6,366.76 290,366.77 290.4,366.77 290.8,366.77 291.2,366.77 291.6,366.77 292,366.77 292.4,366.78 292.8,366.78 293.2,366.78 293.6,366.78 294,366.78 294.4,366.79 294.8,366.79 295.2,366.79 295.6,366.79 296,366.79 296.4,366.79 296.8,366.8 297.2,366.8 297.6,366.8 298,366.8 298.4,366.8 298.8,366.8 299.2,366.8 299.6,366.81 300,366.81 300.4,366.81 300.8,366.81 301.2,366.81 301.6,366.81 302,366.81 302.4,366.82 302.8,366.82 303.2,366.82 303.6,366.82 304,366.82 304.4,366.82 304.8,366.82 305.2,366.83 305.6,366.83 306,366.83 306.4,366.83 306.8,366.83 307.2,366.83 307.6,366.83 308,366.83 308.4,366.84 308.8,366.84 309.2,366.84 309.6,366.84 310,366.84 310.4,366.84 310.8,366.84 311.2,366.84 311.6,366.84 312,366.85 312.4,366.85 312.8,366.85 313.2,366.85 313.6,366.85 314,366.85 314.4,366.85 314.8,366.85 315.2,366.85 315.6,366.85 316,366.86 316.4,366.86 316.8,366.86 317.2,366.86 317.6,366.86 318,366.86 318.4,366.86 318.8,366.86 319.2,366.86 319.6,366.86 320,366.86 320.4,366.86 320.8,366.87 321.2,366.87 321.6,366.87 322,366.87 322.4,366.87 322.8,366.87 323.2,366.87 323.6,366.87 324,366.87 324.4,366.87 324.8,366.87 325.2,366.87 325.6,366.87 326,366.87 326.4,366.88 326.8,366.88 327.2,366.88 327.6,366.88 328,366.88 328.4,366.88 328.8,366.88 329.2,366.88 329.6,366.88 330,366.88 330.4,366.88 330.8,366.88 331.2,366.88 331.6,366.88 332,366.88 332.4,366.88 332.8,366.88 333.2,366.88 333.6,366.88 334,366.89 334.4,366.89 334.8,366.89 335.2,366.89 335.6,366.89 336,366.89 336.4,366.89 336.8,366.89 337.2,366.89 337.6,366.89 338,366.89 338.4,366.89 338.8,366.89 339.2,366.89 339.6,366.89 340,366.89 340.4,366.89 340.8,366.89 341.2,366.89 341.6,366.89 342,366.89 342.4,366.89 342.8,366.89 343.2,366.89 343.6,366.89 344,366.89 344.4,366.89 344.8,366.89 345.2,366.89 345.6,366.89 346,366.89 346.4,366.9 346.8,366.9 347.2,366.9 347.6,366.9 348,366.9 348.4,366.9 348.8,366.9 349.2,366.9 349.6,366.9 350,366.9 350.4,366.9 350.8,366.9 351.2,366.9 351.6,366.9 352,366.9 352.4,366.9 352.8,366.9 353.2,366.9 353.6,366.9 354,366.9 354.4,366.9 354.8,366.9 355.2,366.9 355.6,366.9 356,366.9 356.4,366.9 356.8,366.9 357.2,366.9 357.6,366.9 358,366.9 358.4,366.9 358.8,366.9 359.2,366.9 359.6,366.9 360,366.9 360.4,366.9 360.8,366.9 361.2,366.9 361.6,366.9 362,366.9 362.4,366.9 362.8,366.9 363.2,366.9 363.6,366.9 364,366.9 364.4,366.9 364.8,366.9 365.2,366.9 365.6,366.9 366,366.9 366.4,366.9 366.8,366.9 367.2,366.9 367.6,366.9 368,366.9 368.4,366.9 368.8,366.9 369.2,366.9 369.6,366.9 370,366.9 370.4,366.9" fill="none" stroke="#666" stroke-width="2.0" stroke-linejoin="round"/>
<polyline points="90,366.61 90.5,366.91 91,366.81 91.5,366.28 92,366.28 92.5,366.15 93,366.4 93.5,366.16 94,366.33 94.5,365.52 95,366.45 95.5,365.91 96,366.08 96.5,365.78 97,365.64 97.5,365.84 98,365.89 98.5,365.52 99,365.47 99.5,365.67 100,365.13 100.5,364.86 101,365.41 101.5,365.01 102,364.55 102.5,364.85 103,364.91 103.5,364.62 104,364.46 104.5,364.91 105,365.13 105.5,364.7 106,364.46 106.5,364.78 107,364.83 107.5,364.41 108,364.63 108.5,364.74 109,364.23 109.5,363.94 110,364.27 110.5,364.16 111,364.38 111.5,363.42 112,363.55 112.5,363.37 113,362.91 113.5,363.49 114,363.47 114.5,362.73 115,363.33 115.5,362.83 116,362.49 116.5,362.15 117,362.21 117.5,361.05 118,361.88 118.5,361.96 119,361.14 119.5,362.38 120,362.43 120.5,363.11 121,362.74 121.5,362.98 122,363.19 122.5,362.77 123,363.41 123.5,363.19 124,363.47 124.5,363.12 125,363.79 125.5,363.63 126,363.36 126.5,363.7 127,363.96 127.5,364.17 128,362.9 128.5,363.84 129,363.64 129.5,363.33 130,362.82 130.5,363.52 131,362.25 131.5,362.73 132,362.75 132.5,361.15 133,361.38 133.5,360.57 134,360.95 134.5,361.24 135,361.17 135.5,358.84 136,359.05 136.5,359.3 137,359.31 137.5,358.1 138,356.77 138.5,356.71 139,355.71 139.5,354.13 140,351.52 140.5,350.98 141,349.39 141.5,347.14 142,345.54 142.5,342.88 143,341.52 143.5,342.18 144,340.04 144.5,337.55 145,339.02 145.5,336.89 146,336.46 146.5,334.16 147,332.9 147.5,330.15 148,332.69 148.5,333.61 149,329.23 149.5,329.25 150,330.24 150.5,328.3 151,328.32 151.5,327.69 152,327.47 152.5,327.78 153,325.96 153.5,325.48 154,324.32 154.5,324.78 155,321.36 155.5,322.47 156,325.03 156.5,323.65 157,324.66 157.5,324.49 158,324.97 158.5,324.46 159,324.38 159.5,322.54 160,321.58 160.5,320.97 161,320.3 161.5,319.59 162,320.55 162.5,322.48 163,325.18 163.5,326.08 164,324.34 164.5,325.52 165,324.85 165.5,324.31 166,322.91 166.5,320.89 167,319.89 167.5,322.44 168,321.69 168.5,323.04 169,323.86 169.5,321.48 170,322.44 170.5,322.54 171,321.44 171.5,319.16 172,316.44 172.5,314.31 173,311.53 173.5,313.05 174,312.61 174.5,312.73 175,313.95 175.5,316.37 176,316.41 176.5,316.16 177,316.31 177.5,315.91 178,315.55 178.5,315.55 179,314.33 179.5,315.8 180,315.59 180.5,315.04 181,314.63 181.5,317.66 182,315.67 182.5,317.14 183,318.77 183.5,318.31 184,320.25 184.5,320.62 185,320.79 185.5,321.78 186,323.92 186.5,322.02 187,322.83 187.5,325.74 188,324.95 188.5,329.11 189,326.88 189.5,328.96 190,330.61 190.5,330.35 191,332.94 191.5,334.91 192,335.23 192.5,334.94 193,338.12 193.5,339.24 194,339.15 194.5,340.91 195,343.49 195.5,342.46 196,345.45 196.5,345.48 197,345.48 197.5,347.47 198,348.96 198.5,347.97 199,347.67 199.5,349.49 200,348.14 200.5,349.32 201,350.36 201.5,348.62 202,351.07 202.5,350.34 203,350.91 203.5,350.56 204,350.82 204.5,351.56 205,353.21 205.5,354.09 206,353 206.5,354.04 207,353.17 207.5,352.06 208,353.69 208.5,353.96 209,353.36 209.5,353.94 210,354.18 210.5,353.16 211,352.74 211.5,353.7 212,353.74 212.5,353.66 213,354.66 213.5,355.22 214,353.67 214.5,354.5 215,354.68 215.5,354.52 216,354.76 216.5,353.69 217,354.48 217.5,355.38 218,354.42 218.5,353.29 219,354.12 219.5,354.53 220,353.78 220.5,352.98 221,354.47 221.5,352.23 222,353.44 222.5,352.9 223,351.83 223.5,353.55 224,352.69 224.5,351.31 225,352.53 225.5,351.5 226,350.09 226.5,350.86 227,351.43 227.5,351.53 228,350.91 228.5,350.57 229,350.69 229.5,349.84 230,350.78 230.5,349.56 231,349.36 231.5,349.23 232,347.37 232.5,347.25 233,348.83 233.5,347.22 234,345.89 234.5,345.19 235,342.87 235.5,341.58 236,338.4 236.5,338.84 237,337.08 237.5,339.18 238,338.13 238.5,337.5 239,338.19 239.5,338.87 240,339.91 240.5,338.27 241,337.95 241.5,337.12 242,327.82 242.5,326.63 243,324.76 243.5,323.57 244,321.09 244.5,320.92 245,320.97 245.5,320.1 246,320.89 246.5,317.02 247,316.71 247.5,317.79 248,312.43 248.5,311.85 249,312.57 249.5,312.97 250,316.21 250.5,318.52 251,320.2 251.5,322.85 252,325.53 252.5,324.28 253,320.91 253.5,323.49 254,322.68 254.5,325.32 255,326.36 255.5,329.97 256,331.06 256.5,332.49 257,332.29 257.5,333.86 258,335.65 258.5,336.99 259,336.96 259.5,336.71 260,338.59 260.5,338.48 261,339.21 261.5,339.63 262,341.86 262.5,343.57 263,342.52 263.5,347.73 264,347.99 264.5,346.11 265,347.19 265.5,346.12 266,344.64 266.5,341 267,342.05 267.5,341.78 268,343.57 268.5,344.84 269,345.04 269.5,344.83 270,345.73 270.5,348.93 271,350.47 271.5,352.78 272,352.15 272.5,352.39 273,350.58 273.5,351.2 274,350.23 274.5,350.59 275,349.96 275.5,348.69 276,348.17 276.5,346.59 277,346.33 277.5,344.87 278,342.34 278.5,341.28 279,342.46 279.5,339.9 280,342.9 280.5,345.24 281,346.9 281.5,349.48 282,352.11 282.5,352.8 283,353.58 283.5,352.52 284,353.14 284.5,353.68 285,354.7 285.5,352.44 286,355 286.5,354.25 287,354.77 287.5,354.6 288,355.07 288.5,356.25 289,356.46 289.5,356.57 290,357.59 290.5,358.03 291,358.69 291.5,359.29 292,359.57 292.5,359.45 293,359.74 293.5,360.52 294,359.91 294.5,359.61 295,360.3 295.5,359.27 296,359.75 296.5,359.67 297,359.04 297.5,358.9 298,358.59 298.5,358.21 299,358.63 299.5,358.69 300,359.6 300.5,359.24 301,360.07 301.5,358.92 302,359.8 302.5,361.26 303,361.27 303.5,360.95 304,362.05 304.5,362.15 305,361.31 305.5,363.33 306,362.35 306.5,362.75 307,362.92 307.5,362 308,363.67 308.5,363.75 309,362.95 309.5,363.59 310,363.27 310.5,363.04 311,364.07 311.5,363.35 312,363.02 312.5,363.86 313,364.66 313.5,364.45 314,364.13 314.5,363.79 315,362.96 315.5,363.63 316,364.38 316.5,364.39 317,364.97 317.5,364.46 318,363.35 318.5,364.32 319,364.01 319.5,364.15 320,364.17 320.5,365.42 321,364.25 321.5,364.5 322,364.35 322.5,362.45 323,364.33 323.5,365.37 324,364.43 324.5,365.01 325,364.69 325.5,362.89 326,364.46 326.5,365.22 327,364.54 327.5,364.66 328,364.68 328.5,362.78 329,364.13 329.5,364.54 330,362.12 330.5,364.04 331,364.65 331.5,363.85 332,364.69 332.5,363.96 333,362.95 333.5,363.48 334,365.09 334.5,364.12 335,364.75 335.5,364.48 336,364.05 336.5,364.92 337,364.94 337.5,364.67 338,364.44 338.5,365.2 339,364.85 339.5,364.65 340,364.81 340.5,364.01 341,364.29 341.5,364.18 342,363.54 342.5,364.26 343,364.32 343.5,364.03 344,364.6 344.5,364.81 345,364.74 345.5,364.55 346,364.77 346.5,364.75 347,364.73 347.5,364.78 348,363.2 348.5,364.73 349,364.21 349.5,363.39 350,363.72 350.5,364.57 351,363.57 351.5,364.38 352,364.92 352.5,363.53 353,364.21 353.5,364.28 354,363.03 354.5,364.49 355,364.95 355.5,364.84 356,365.04 356.5,364.54 357,364.45 357.5,364.53 358,364.66 358.5,363.66 359,364.41 359.5,365.2 360,364.25 360.5,364.61 361,364.86 361.5,364.16 362,364.58 362.5,364.83 363,363.9 363.5,364.57 364,364.57 364.5,363.67 365,364.68 365.5,364.54 366,364.21 366.5,364.94 367,364.4 367.5,363.44 368,364.27 368.5,364.67 369,363.64 369.5,364.24 370,364.78 370.5,363.36" fill="none" stroke="#3448D0" stroke-width="1.9" stroke-linejoin="round"/>
<rect x="35.1" y="284.4" width="335.9" height="82.8" fill="none" stroke="#000" stroke-width="1.3"/>
<line x1="219" y1="284.4" x2="219" y2="367.2" stroke="#000" stroke-width="1.0"/>
<line x1="55.1" y1="367.2" x2="55.1" y2="366" stroke="#000" stroke-width="1.1"/>
<line x1="90.2" y1="367.2" x2="90.2" y2="364.8" stroke="#000" stroke-width="1.1"/>
<line x1="125.3" y1="367.2" x2="125.3" y2="366" stroke="#000" stroke-width="1.1"/>
<line x1="160.4" y1="367.2" x2="160.4" y2="364.8" stroke="#000" stroke-width="1.1"/>
<line x1="195.5" y1="367.2" x2="195.5" y2="366" stroke="#000" stroke-width="1.1"/>
<line x1="230.6" y1="367.2" x2="230.6" y2="364.8" stroke="#000" stroke-width="1.1"/>
<line x1="265.7" y1="367.2" x2="265.7" y2="366" stroke="#000" stroke-width="1.1"/>
<line x1="300.8" y1="367.2" x2="300.8" y2="364.8" stroke="#000" stroke-width="1.1"/>
<line x1="335.9" y1="367.2" x2="335.9" y2="366" stroke="#000" stroke-width="1.1"/>
<text transform="translate(90.2,382.3) scale(1.11,1)" font-size="10" text-anchor="middle" fill="#000">3000</text>
<text transform="translate(160.4,382.3) scale(1.11,1)" font-size="10" text-anchor="middle" fill="#000">3500</text>
<text transform="translate(230.6,382.3) scale(1.11,1)" font-size="10" text-anchor="middle" fill="#000">4000</text>
<text transform="translate(300.8,382.3) scale(1.11,1)" font-size="10" text-anchor="middle" fill="#000">4500</text>
<text transform="translate(371,382.3) scale(1.11,1)" font-size="10" text-anchor="middle" fill="#000">5000</text>
<line x1="35.1" y1="339.5" x2="37.1" y2="339.5" stroke="#000" stroke-width="1.1"/>
<line x1="35.1" y1="311.8" x2="38.3" y2="311.8" stroke="#000" stroke-width="1.1"/>
<text transform="translate(30,370.7) scale(1.11,1)" font-size="10" text-anchor="end" fill="#000">0</text>
<text transform="translate(30,315.3) scale(1.11,1)" font-size="10" text-anchor="end" fill="#000">1</text>
<text transform="translate(203.2,398) scale(1.11,1)" font-size="10" text-anchor="middle" fill="#000">Wavelength (nm)</text>
<text transform="translate(12.9,326.1) rotate(-90)" font-size="11.1" text-anchor="middle" fill="#000">Intensity (a.u.)</text>
<line x1="293.5" y1="293.6" x2="317.3" y2="293.6" stroke="#3448D0" stroke-width="2.0"/>
<line x1="293.5" y1="309.9" x2="317.3" y2="309.9" stroke="#666" stroke-width="2.0"/>
<text transform="translate(322,297.6) scale(1.11,1)" font-size="10" text-anchor="start" fill="#000">Exp.</text>
<text transform="translate(322,314.3) scale(1.11,1)" font-size="10" text-anchor="start" fill="#000">Sim.</text>
<g filter="url(#jetf)"><rect x="36.20" y="422.20" width="335.60" height="2.00" fill="url(#d0)"/><rect x="36.20" y="423.20" width="335.60" height="2.00" fill="url(#d1)"/><rect x="36.20" y="424.20" width="335.60" height="2.00" fill="url(#d2)"/><rect x="36.20" y="425.20" width="335.60" height="2.00" fill="url(#d3)"/><rect x="36.20" y="426.20" width="335.60" height="2.00" fill="url(#d4)"/><rect x="36.20" y="427.20" width="335.60" height="2.00" fill="url(#d5)"/><rect x="36.20" y="428.20" width="335.60" height="2.00" fill="url(#d6)"/><rect x="36.20" y="429.20" width="335.60" height="2.00" fill="url(#d7)"/><rect x="36.20" y="430.20" width="335.60" height="2.00" fill="url(#d8)"/><rect x="36.20" y="431.20" width="335.60" height="2.00" fill="url(#d9)"/><rect x="36.20" y="432.20" width="335.60" height="2.00" fill="url(#d10)"/><rect x="36.20" y="433.20" width="335.60" height="2.00" fill="url(#d11)"/><rect x="36.20" y="434.20" width="335.60" height="2.00" fill="url(#d12)"/><rect x="36.20" y="435.20" width="335.60" height="2.00" fill="url(#d13)"/><rect x="36.20" y="436.20" width="335.60" height="2.00" fill="url(#d14)"/><rect x="36.20" y="437.20" width="335.60" height="2.00" fill="url(#d15)"/><rect x="36.20" y="438.20" width="335.60" height="2.00" fill="url(#d16)"/><rect x="36.20" y="439.20" width="335.60" height="2.00" fill="url(#d17)"/><rect x="36.20" y="440.20" width="335.60" height="2.00" fill="url(#d18)"/><rect x="36.20" y="441.20" width="335.60" height="2.00" fill="url(#d19)"/><rect x="36.20" y="442.20" width="335.60" height="2.00" fill="url(#d20)"/><rect x="36.20" y="443.20" width="335.60" height="2.00" fill="url(#d21)"/><rect x="36.20" y="444.20" width="335.60" height="2.00" fill="url(#d22)"/><rect x="36.20" y="445.20" width="335.60" height="2.00" fill="url(#d23)"/><rect x="36.20" y="446.20" width="335.60" height="2.00" fill="url(#d24)"/><rect x="36.20" y="447.20" width="335.60" height="2.00" fill="url(#d25)"/><rect x="36.20" y="448.20" width="335.60" height="2.00" fill="url(#d26)"/><rect x="36.20" y="449.20" width="335.60" height="2.00" fill="url(#d27)"/><rect x="36.20" y="450.20" width="335.60" height="2.00" fill="url(#d28)"/><rect x="36.20" y="451.20" width="335.60" height="2.00" fill="url(#d29)"/><rect x="36.20" y="452.20" width="335.60" height="2.00" fill="url(#d30)"/><rect x="36.20" y="453.20" width="335.60" height="2.00" fill="url(#d31)"/><rect x="36.20" y="454.20" width="335.60" height="2.00" fill="url(#d32)"/><rect x="36.20" y="455.20" width="335.60" height="2.00" fill="url(#d33)"/><rect x="36.20" y="456.20" width="335.60" height="2.00" fill="url(#d34)"/><rect x="36.20" y="457.20" width="335.60" height="2.00" fill="url(#d35)"/><rect x="36.20" y="458.20" width="335.60" height="2.00" fill="url(#d36)"/><rect x="36.20" y="459.20" width="335.60" height="2.00" fill="url(#d37)"/><rect x="36.20" y="460.20" width="335.60" height="2.00" fill="url(#d38)"/><rect x="36.20" y="461.20" width="335.60" height="2.00" fill="url(#d39)"/><rect x="36.20" y="462.20" width="335.60" height="2.00" fill="url(#d40)"/><rect x="36.20" y="463.20" width="335.60" height="2.00" fill="url(#d41)"/><rect x="36.20" y="464.20" width="335.60" height="2.00" fill="url(#d42)"/><rect x="36.20" y="465.20" width="335.60" height="2.00" fill="url(#d43)"/><rect x="36.20" y="466.20" width="335.60" height="2.00" fill="url(#d44)"/><rect x="36.20" y="467.20" width="335.60" height="2.00" fill="url(#d45)"/><rect x="36.20" y="468.20" width="335.60" height="2.00" fill="url(#d46)"/><rect x="36.20" y="469.20" width="335.60" height="2.00" fill="url(#d47)"/><rect x="36.20" y="470.20" width="335.60" height="2.00" fill="url(#d48)"/><rect x="36.20" y="471.20" width="335.60" height="2.00" fill="url(#d49)"/><rect x="36.20" y="472.20" width="335.60" height="2.00" fill="url(#d50)"/><rect x="36.20" y="473.20" width="335.60" height="2.00" fill="url(#d51)"/><rect x="36.20" y="474.20" width="335.60" height="2.00" fill="url(#d52)"/><rect x="36.20" y="475.20" width="335.60" height="2.00" fill="url(#d53)"/><rect x="36.20" y="476.20" width="335.60" height="2.00" fill="url(#d54)"/><rect x="36.20" y="477.20" width="335.60" height="2.00" fill="url(#d55)"/><rect x="36.20" y="478.20" width="335.60" height="2.00" fill="url(#d56)"/><rect x="36.20" y="479.20" width="335.60" height="2.00" fill="url(#d57)"/><rect x="36.20" y="480.20" width="335.60" height="2.00" fill="url(#d58)"/><rect x="36.20" y="481.20" width="335.60" height="2.00" fill="url(#d59)"/><rect x="36.20" y="482.20" width="335.60" height="2.00" fill="url(#d60)"/><rect x="36.20" y="483.20" width="335.60" height="2.00" fill="url(#d61)"/><rect x="36.20" y="484.20" width="335.60" height="2.00" fill="url(#d62)"/><rect x="36.20" y="485.20" width="335.60" height="2.00" fill="url(#d63)"/><rect x="36.20" y="486.20" width="335.60" height="2.00" fill="url(#d64)"/><rect x="36.20" y="487.20" width="335.60" height="2.00" fill="url(#d65)"/><rect x="36.20" y="488.20" width="335.60" height="2.00" fill="url(#d66)"/><rect x="36.20" y="489.20" width="335.60" height="2.00" fill="url(#d67)"/><rect x="36.20" y="490.20" width="335.60" height="2.00" fill="url(#d68)"/><rect x="36.20" y="491.20" width="335.60" height="2.00" fill="url(#d69)"/><rect x="36.20" y="492.20" width="335.60" height="2.00" fill="url(#d70)"/><rect x="36.20" y="493.20" width="335.60" height="2.00" fill="url(#d71)"/><rect x="36.20" y="494.20" width="335.60" height="2.00" fill="url(#d72)"/><rect x="36.20" y="495.20" width="335.60" height="2.00" fill="url(#d73)"/><rect x="36.20" y="496.20" width="335.60" height="2.00" fill="url(#d74)"/><rect x="36.20" y="497.20" width="335.60" height="2.00" fill="url(#d75)"/><rect x="36.20" y="498.20" width="335.60" height="2.00" fill="url(#d76)"/><rect x="36.20" y="499.20" width="335.60" height="2.00" fill="url(#d77)"/><rect x="36.20" y="500.20" width="335.60" height="2.00" fill="url(#d78)"/><rect x="36.20" y="501.20" width="335.60" height="2.00" fill="url(#d79)"/><rect x="36.20" y="502.20" width="335.60" height="2.00" fill="url(#d80)"/><rect x="36.20" y="503.20" width="335.60" height="2.00" fill="url(#d81)"/><rect x="36.20" y="504.20" width="335.60" height="1.00" fill="url(#d82)"/></g>
<g filter="url(#jetf)"><rect x="377" y="422.2" width="7.2" height="82.6" fill="url(#cbar)"/></g>
<line x1="218.6" y1="422.2" x2="218.6" y2="505.2" stroke="#000" stroke-width="1.25" stroke-dasharray="3.7,2.4"/>
<line x1="91.5" y1="505.2" x2="91.5" y2="503" stroke="#fff" stroke-width="1.1"/>
<line x1="161.4" y1="505.2" x2="161.4" y2="503" stroke="#fff" stroke-width="1.1"/>
<line x1="231.3" y1="505.2" x2="231.3" y2="503" stroke="#fff" stroke-width="1.1"/>
<line x1="301.2" y1="505.2" x2="301.2" y2="503" stroke="#fff" stroke-width="1.1"/>
<text transform="translate(-0.6,420.6) scale(1.08,1)" font-size="15.5" text-anchor="start" fill="#000" font-weight="bold">d</text>
<text transform="translate(30.6,449) scale(1.11,1)" font-size="10" text-anchor="end" fill="#000">15</text>
<text transform="translate(30.6,470.3) scale(1.11,1)" font-size="10" text-anchor="end" fill="#000">10</text>
<text transform="translate(30.6,492.4) scale(1.11,1)" font-size="10" text-anchor="end" fill="#000">5</text>
<text transform="translate(30.6,507.5) scale(1.11,1)" font-size="10" text-anchor="end" fill="#000">0</text>
<text transform="translate(91.5,518.3) scale(1.11,1)" font-size="10" text-anchor="middle" fill="#000">3000</text>
<text transform="translate(161.4,518.3) scale(1.11,1)" font-size="10" text-anchor="middle" fill="#000">3500</text>
<text transform="translate(231.3,518.3) scale(1.11,1)" font-size="10" text-anchor="middle" fill="#000">4000</text>
<text transform="translate(301.2,518.3) scale(1.11,1)" font-size="10" text-anchor="middle" fill="#000">4500</text>
<text transform="translate(371.1,518.3) scale(1.11,1)" font-size="10" text-anchor="middle" fill="#000">5000</text>
<text transform="translate(203.8,533.6) scale(1.11,1)" font-size="10" text-anchor="middle" fill="#000">Wavelength (nm)</text>
<text transform="translate(9,463.9) rotate(-90)" font-size="11.1" text-anchor="middle" fill="#000">Length (cm)</text>
<text transform="translate(349.2,415) scale(1.11,1)" font-size="10" text-anchor="middle" fill="#000">Intensity (a.u.)</text>
<text transform="translate(389.6,428.4) scale(1.11,1)" font-size="10" text-anchor="start" fill="#000">1</text>
<text transform="translate(389.6,507.6) scale(1.11,1)" font-size="10" text-anchor="start" fill="#000">0</text>
<text transform="translate(92.4,499.4) scale(1.11,1)" font-size="10.2" text-anchor="start" fill="#fff">SPM</text>
<text transform="translate(245.4,495.6) scale(1.11,1)" font-size="10.0" text-anchor="start" fill="#fff">Raman soliton</text>
<text transform="translate(298.3,457.7) scale(1.11,1)" font-size="10.1" text-anchor="start" fill="#fff">DW</text>
<line x1="124.40" y1="493.50" x2="153.40" y2="493.50" stroke="#fff" stroke-width="1.8"/>
<path d="M159.40,493.50 L152.90,496.80 L152.90,490.20 Z" fill="#fff"/>
<line x1="242.10" y1="481.50" x2="206.40" y2="460.90" stroke="#fff" stroke-width="1.8"/>
<path d="M201.20,457.90 L208.48,458.29 L205.18,464.01 Z" fill="#fff"/>
<line x1="289.20" y1="452.60" x2="256.35" y2="445.13" stroke="#fff" stroke-width="1.8"/>
<path d="M250.50,443.80 L257.57,442.02 L256.11,448.46 Z" fill="#fff"/>
<text x="46.40" y="440.00" font-size="12" font-style="italic" fill="#fff">β</text>
<text x="53.70" y="442.40" font-size="8" font-style="italic" fill="#fff">2</text>
<text x="59.60" y="439.80" font-size="11.3" font-style="italic" fill="#fff">&lt; 0</text>
<text x="338.10" y="440.20" font-size="12" font-style="italic" fill="#fff">β</text>
<text x="345.40" y="442.60" font-size="8" font-style="italic" fill="#fff">2</text>
<text x="351.30" y="440.00" font-size="11.3" font-style="italic" fill="#fff">&gt; 0</text>
<g filter="url(#jetf)"><rect x="471.10" y="284.40" width="169.70" height="5.00" fill="url(#e0)"/><rect x="471.10" y="288.40" width="169.70" height="5.00" fill="url(#e1)"/><rect x="471.10" y="292.39" width="169.70" height="5.00" fill="url(#e2)"/><rect x="471.10" y="296.39" width="169.70" height="5.00" fill="url(#e3)"/><rect x="471.10" y="300.39" width="169.70" height="5.00" fill="url(#e4)"/><rect x="471.10" y="304.38" width="169.70" height="5.00" fill="url(#e5)"/><rect x="471.10" y="308.38" width="169.70" height="5.00" fill="url(#e6)"/><rect x="471.10" y="312.37" width="169.70" height="5.00" fill="url(#e7)"/><rect x="471.10" y="316.37" width="169.70" height="5.00" fill="url(#e8)"/><rect x="471.10" y="320.37" width="169.70" height="5.00" fill="url(#e9)"/><rect x="471.10" y="324.36" width="169.70" height="5.00" fill="url(#e10)"/><rect x="471.10" y="328.36" width="169.70" height="5.00" fill="url(#e11)"/><rect x="471.10" y="332.36" width="169.70" height="5.00" fill="url(#e12)"/><rect x="471.10" y="336.35" width="169.70" height="5.00" fill="url(#e13)"/><rect x="471.10" y="340.35" width="169.70" height="5.00" fill="url(#e14)"/><rect x="471.10" y="344.35" width="169.70" height="5.00" fill="url(#e15)"/><rect x="471.10" y="348.34" width="169.70" height="5.00" fill="url(#e16)"/><rect x="471.10" y="352.34" width="169.70" height="5.00" fill="url(#e17)"/><rect x="471.10" y="356.33" width="169.70" height="5.00" fill="url(#e18)"/><rect x="471.10" y="360.33" width="169.70" height="3.00" fill="url(#e19)"/><rect x="471.10" y="362.33" width="169.70" height="5.00" fill="url(#e20)"/><rect x="471.10" y="366.33" width="169.70" height="4.00" fill="url(#e21)"/><rect x="471.10" y="369.32" width="169.70" height="5.00" fill="url(#e22)"/><rect x="471.10" y="373.32" width="169.70" height="4.00" fill="url(#e23)"/><rect x="471.10" y="376.32" width="169.70" height="4.00" fill="url(#e24)"/><rect x="471.10" y="379.31" width="169.70" height="4.00" fill="url(#e25)"/><rect x="471.10" y="382.31" width="169.70" height="3.00" fill="url(#e26)"/><rect x="471.10" y="384.31" width="169.70" height="6.99" fill="url(#e27)"/><rect x="471.10" y="390.30" width="169.70" height="113.90" fill="url(#e28)"/></g>
<g filter="url(#jetf)"><rect x="647.1" y="284.4" width="9.4" height="219.8" fill="url(#cbar)"/></g>
<text transform="translate(435,279.6) scale(1.08,1)" font-size="15.5" text-anchor="start" fill="#000" font-weight="bold">e</text>
<text transform="translate(466.2,309.9) scale(1.11,1)" font-size="10" text-anchor="end" fill="#000">15</text>
<text transform="translate(466.2,368.7) scale(1.11,1)" font-size="10" text-anchor="end" fill="#000">10</text>
<text transform="translate(466.2,426.8) scale(1.11,1)" font-size="10" text-anchor="end" fill="#000">5</text>
<text transform="translate(466.2,485.2) scale(1.11,1)" font-size="10" text-anchor="end" fill="#000">0</text>
<text transform="translate(470.6,518) scale(1.11,1)" font-size="10" text-anchor="middle" fill="#000">−25</text>
<text transform="translate(556.1,518) scale(1.11,1)" font-size="10" text-anchor="middle" fill="#000">0</text>
<text transform="translate(640.9,518) scale(1.11,1)" font-size="10" text-anchor="middle" fill="#000">25</text>
<text transform="translate(563.2,533.4) scale(1.11,1)" font-size="10" text-anchor="middle" fill="#000">Delay (ps)</text>
<text transform="translate(445.5,394.1) rotate(-90)" font-size="11.1" text-anchor="middle" fill="#000">Length (cm)</text>
<text transform="translate(683,394.6) rotate(-90)" font-size="11.1" text-anchor="middle" fill="#000">Intensity (a.u.)</text>
<text transform="translate(661.8,290.6) scale(1.11,1)" font-size="10" text-anchor="start" fill="#000">1</text>
<text transform="translate(661.8,506) scale(1.11,1)" font-size="10" text-anchor="start" fill="#000">0</text>
</g>
</svg>
</body></html>
